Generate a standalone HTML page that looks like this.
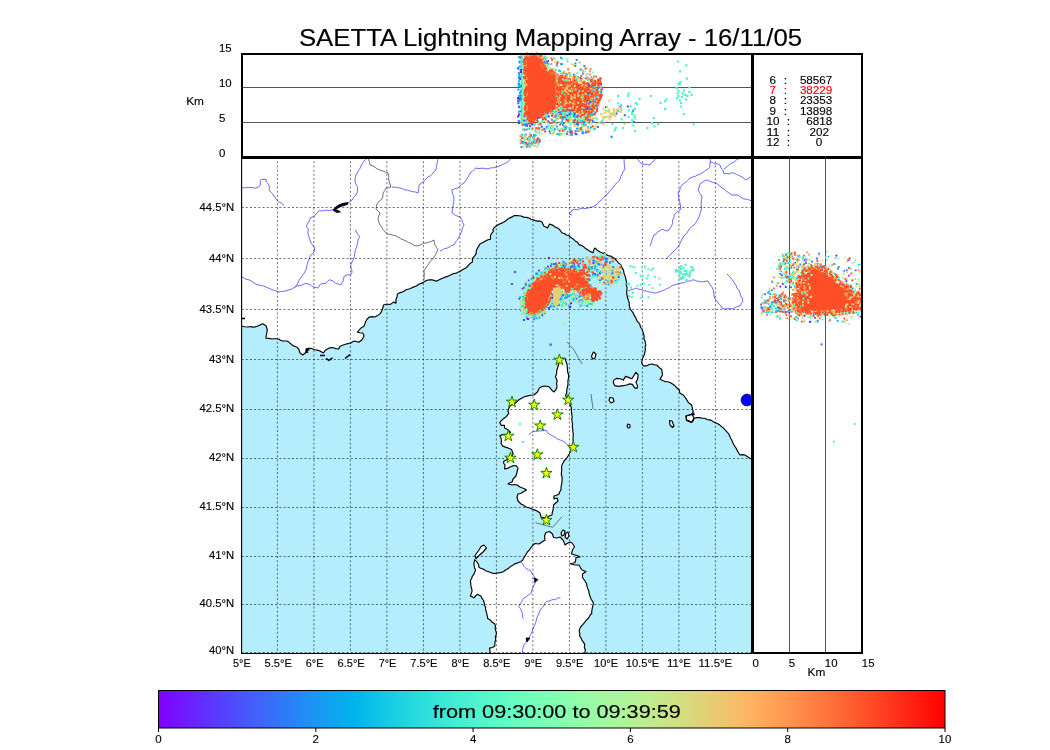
<!DOCTYPE html><html><head><meta charset="utf-8"><style>html,body{margin:0;padding:0;background:#fff;width:1050px;height:750px;overflow:hidden}svg{display:block;will-change:transform}text{font-family:"Liberation Sans",sans-serif}</style></head><body>
<svg width="1050" height="750" viewBox="0 0 1050 750">
<rect x="0" y="0" width="1050" height="750" fill="#fff"/>
<defs><clipPath id="mc"><rect x="241.5" y="157" width="511.0" height="496"/></clipPath>
<clipPath id="tc"><rect x="241.5" y="53" width="511" height="104"/></clipPath>
<clipPath id="rc"><rect x="752.5" y="157" width="110" height="496"/></clipPath>
<linearGradient id="cb" x1="0" y1="0" x2="1" y2="0"><stop offset="0.000" stop-color="#8000ff"/><stop offset="0.016" stop-color="#780dff"/><stop offset="0.031" stop-color="#7019ff"/><stop offset="0.047" stop-color="#6825fe"/><stop offset="0.062" stop-color="#6032fe"/><stop offset="0.078" stop-color="#583efd"/><stop offset="0.094" stop-color="#504afc"/><stop offset="0.109" stop-color="#4856fb"/><stop offset="0.125" stop-color="#4062fa"/><stop offset="0.141" stop-color="#386df9"/><stop offset="0.156" stop-color="#3078f7"/><stop offset="0.172" stop-color="#2883f6"/><stop offset="0.188" stop-color="#208ef4"/><stop offset="0.203" stop-color="#1898f2"/><stop offset="0.219" stop-color="#10a2f0"/><stop offset="0.234" stop-color="#08abee"/><stop offset="0.250" stop-color="#00b4ec"/><stop offset="0.266" stop-color="#08bde9"/><stop offset="0.281" stop-color="#10c5e7"/><stop offset="0.297" stop-color="#18cde4"/><stop offset="0.312" stop-color="#20d4e1"/><stop offset="0.328" stop-color="#28dbde"/><stop offset="0.344" stop-color="#30e1db"/><stop offset="0.359" stop-color="#38e7d7"/><stop offset="0.375" stop-color="#40ecd4"/><stop offset="0.391" stop-color="#48f0d0"/><stop offset="0.406" stop-color="#50f4cd"/><stop offset="0.422" stop-color="#58f7c9"/><stop offset="0.438" stop-color="#60fac5"/><stop offset="0.453" stop-color="#68fcc1"/><stop offset="0.469" stop-color="#70febd"/><stop offset="0.484" stop-color="#78ffb9"/><stop offset="0.500" stop-color="#80ffb4"/><stop offset="0.516" stop-color="#87ffb0"/><stop offset="0.531" stop-color="#8ffeab"/><stop offset="0.547" stop-color="#97fca7"/><stop offset="0.562" stop-color="#9ffaa2"/><stop offset="0.578" stop-color="#a7f79d"/><stop offset="0.594" stop-color="#aff498"/><stop offset="0.609" stop-color="#b7f093"/><stop offset="0.625" stop-color="#bfec8e"/><stop offset="0.641" stop-color="#c7e788"/><stop offset="0.656" stop-color="#cfe183"/><stop offset="0.672" stop-color="#d7db7e"/><stop offset="0.688" stop-color="#dfd478"/><stop offset="0.703" stop-color="#e7cd73"/><stop offset="0.719" stop-color="#efc56d"/><stop offset="0.734" stop-color="#f7bd67"/><stop offset="0.750" stop-color="#ffb462"/><stop offset="0.766" stop-color="#ffab5c"/><stop offset="0.781" stop-color="#ffa256"/><stop offset="0.797" stop-color="#ff9850"/><stop offset="0.812" stop-color="#ff8e4a"/><stop offset="0.828" stop-color="#ff8344"/><stop offset="0.844" stop-color="#ff783e"/><stop offset="0.859" stop-color="#ff6d38"/><stop offset="0.875" stop-color="#ff6232"/><stop offset="0.891" stop-color="#ff562c"/><stop offset="0.906" stop-color="#ff4a25"/><stop offset="0.922" stop-color="#ff3e1f"/><stop offset="0.938" stop-color="#ff3219"/><stop offset="0.953" stop-color="#ff2513"/><stop offset="0.969" stop-color="#ff190d"/><stop offset="0.984" stop-color="#ff0d06"/><stop offset="1.000" stop-color="#ff0000"/></linearGradient></defs>
<g clip-path="url(#mc)">
<rect x="241.5" y="157" width="511.0" height="496" fill="#b4edfc"/>
<polygon points="242.0,326.3 245.0,326.7 248.0,327.0 250.3,326.5 252.7,327.1 255.0,326.9 257.3,326.3 260.0,325.0 262.7,323.7 266.0,325.7 267.3,329.7 266.7,333.7 266.2,336.0 266.0,338.3 269.0,338.4 272.0,339.0 274.2,338.7 276.5,338.8 278.7,339.0 280.6,340.2 282.7,341.0 286.7,341.0 288.9,342.1 290.7,343.7 292.4,345.4 294.7,346.3 296.9,347.3 298.7,349.0 300.0,353.0 302.7,355.0 305.3,353.0 306.7,349.0 310.7,348.3 314.7,349.7 317.4,350.1 320.0,351.0 323.3,353.0 325.3,350.3 328.7,348.3 330.9,347.6 333.3,347.7 335.9,348.6 338.7,349.0 340.0,346.3 342.6,345.2 345.3,344.3 348.0,343.6 350.7,343.0 352.6,341.8 354.7,341.0 358.7,342.3 362.0,339.7 363.1,337.8 364.0,335.7 362.7,333.0 360.0,332.7 357.3,332.3 360.0,329.0 361.8,327.4 364.0,326.3 364.8,324.1 365.6,321.8 366.7,319.7 369.3,317.0 372.0,316.6 374.7,317.0 377.6,315.6 380.2,313.6 381.6,311.3 382.6,308.8 383.6,305.0 386.9,304.0 389.8,304.5 391.8,303.4 393.6,302.1 396.0,303.1 396.0,299.3 397.1,296.7 397.4,294.0 400.2,292.6 403.1,291.7 406.0,289.8 409.8,288.8 412.6,287.4 416.4,286.0 419.3,284.0 423.1,282.6 424.9,281.3 426.9,280.2 429.3,279.9 431.7,279.8 434.1,280.4 436.4,281.2 440.2,279.3 443.1,278.0 446.0,276.9 448.4,276.1 450.7,275.0 453.4,273.6 456.4,273.1 460.2,271.2 462.9,269.5 465.7,267.9 467.4,266.5 468.9,264.9 470.4,263.2 472.4,262.1 472.4,258.3 474.5,256.1 476.2,253.6 476.2,251.1 477.1,248.8 478.6,246.4 480.0,244.0 483.8,242.1 485.9,240.8 488.1,239.8 490.5,239.3 490.5,235.5 491.6,233.4 493.3,231.7 492.9,229.8 494.2,227.6 496.2,226.0 498.9,224.2 501.9,223.1 503.9,222.0 505.8,220.8 507.6,219.3 509.8,217.9 512.1,216.9 514.3,215.5 516.5,215.6 518.8,215.8 521.0,216.0 523.8,217.1 526.7,217.4 529.0,218.0 531.0,219.3 533.3,219.8 535.4,220.6 537.6,221.1 539.9,221.0 541.9,222.1 543.8,226.0 547.6,227.9 549.5,224.0 552.5,225.1 555.2,226.9 558.0,228.2 560.2,230.2 561.9,232.8 564.3,233.5 566.4,235.0 568.9,235.4 570.8,237.4 573.2,238.9 575.1,240.9 577.5,242.3 579.3,244.9 581.6,245.4 583.6,246.7 585.6,248.6 587.9,250.1 590.4,251.6 593.1,252.7 594.0,249.3 594.9,248.0 597.3,250.2 600.1,251.9 603.5,253.6 604.4,252.7 606.1,254.5 608.0,255.6 610.3,255.9 612.2,257.1 614.5,258.5 616.5,260.5 618.5,262.9 620.9,264.9 622.0,267.6 623.5,270.1 624.0,273.2 625.2,276.1 625.9,279.1 626.5,282.2 626.2,284.8 627.1,287.4 626.9,290.0 626.7,292.8 627.1,295.6 627.7,298.3 628.4,300.4 629.2,302.5 629.2,304.7 629.6,306.9 630.3,309.0 631.8,311.2 633.3,313.2 634.3,315.7 635.8,317.8 636.7,320.3 638.3,322.3 639.9,324.3 640.4,327.0 642.0,329.0 642.8,331.3 643.5,333.7 644.2,336.1 643.9,338.7 645.0,341.0 645.8,345.0 645.1,347.2 645.4,349.5 645.0,351.7 644.5,354.3 643.3,356.7 642.4,359.2 641.7,361.7 642.1,363.9 643.3,365.8 646.7,365.8 650.0,364.2 652.3,364.0 654.5,364.9 656.7,365.0 659.0,367.4 661.7,369.2 662.1,372.1 662.5,375.0 661.2,377.1 660.0,379.2 663.3,380.8 665.5,381.7 667.8,381.7 670.0,382.5 672.6,384.0 675.0,385.8 677.0,388.0 679.2,390.0 680.0,393.3 683.3,395.0 685.8,398.3 687.0,400.4 688.3,402.5 691.7,405.0 692.5,409.2 693.3,411.7 692.0,414.0 689.0,415.0 686.0,416.0 686.7,420.0 689.3,421.1 691.7,422.5 693.3,420.6 694.2,418.3 696.7,417.5 699.5,417.6 702.2,418.2 705.0,418.3 706.9,419.5 709.2,419.9 711.4,420.4 713.3,421.7 715.5,422.7 717.7,423.8 719.8,425.1 721.7,426.7 723.6,428.1 725.1,429.9 726.7,431.6 728.3,433.3 729.5,435.5 730.4,437.8 731.7,440.0 732.6,442.3 733.7,444.5 735.0,446.7 736.4,448.7 737.4,450.9 738.7,453.0 740.0,455.0 742.5,454.6 745.0,455.0 747.5,456.7 750.0,458.3 753.0,460.0 760.0,460.0 760.0,150.0 235.0,150.0 235.0,326.3" fill="#fff"/>
<polygon points="562.0,358.4 565.0,358.4 566.2,362.0 567.0,364.3 567.3,366.8 567.4,369.2 567.6,372.0 568.6,374.7 568.6,377.6 567.9,380.6 568.0,383.6 567.6,386.6 566.8,389.6 566.7,392.7 565.6,395.6 566.9,398.0 568.0,400.4 569.5,402.7 570.4,405.2 571.3,407.5 571.4,410.0 571.6,412.4 571.8,414.8 572.2,417.2 571.7,419.6 572.2,422.0 572.5,424.4 572.3,426.8 572.8,429.2 572.8,431.6 573.3,434.2 573.1,436.8 573.0,439.4 573.3,442.0 572.6,444.2 571.8,446.4 571.3,448.7 570.5,451.3 569.4,453.7 568.0,456.0 566.3,458.7 564.0,461.0 563.0,463.0 562.0,465.0 561.5,467.3 561.8,469.7 561.5,472.0 561.3,474.5 562.1,477.0 562.1,479.5 562.0,482.0 561.5,484.6 561.0,487.3 561.0,490.0 559.7,491.9 559.0,494.0 556.6,495.3 554.0,496.0 554.0,499.0 557.0,498.0 558.0,501.0 555.7,503.0 553.5,505.0 553.5,507.5 553.0,510.0 552.3,512.5 552.0,515.0 549.0,516.0 547.0,518.0 545.0,518.0 541.0,517.0 540.0,513.0 537.0,511.0 534.5,509.9 532.0,509.0 529.1,507.8 526.0,507.0 523.6,505.3 521.0,504.0 518.0,501.0 517.0,497.0 518.0,494.0 520.7,493.5 523.0,492.0 526.5,490.0 525.0,489.0 522.5,488.0 520.0,487.0 517.0,485.0 514.5,484.5 512.0,485.0 508.0,484.0 509.9,482.8 512.0,482.0 513.0,479.0 516.0,476.0 517.0,472.0 518.0,468.0 516.0,465.5 512.9,465.9 510.0,467.0 507.4,468.4 504.5,469.0 505.0,465.0 503.5,463.0 504.0,461.0 506.4,459.9 508.9,458.7 511.0,457.0 513.2,453.9 512.4,451.7 511.5,449.6 508.0,447.9 505.4,447.1 502.8,446.1 501.1,443.5 501.4,440.9 501.1,438.3 499.8,435.7 501.9,434.9 504.6,434.8 507.1,434.0 510.6,432.3 508.0,429.7 504.5,427.9 504.5,425.3 501.1,425.3 499.8,422.7 501.1,421.0 503.7,418.4 506.3,416.7 508.9,413.2 508.0,411.5 508.9,408.0 510.6,405.4 513.3,404.3 515.8,402.8 518.4,400.2 521.0,398.5 524.5,396.7 527.9,395.9 530.9,395.3 534.0,395.0 535.7,393.5 537.4,392.0 539.2,388.4 541.4,386.8 544.0,386.0 546.4,386.3 548.8,386.6 550.7,388.6 552.4,390.8 554.2,392.0 556.6,388.4 557.0,386.0 556.5,383.6 557.2,381.2 556.3,378.8 555.4,376.4 556.6,374.0 556.6,371.5 557.2,369.2 557.8,366.8 558.7,364.5 558.9,362.0 559.0,359.6 562.0,358.4" fill="#fff" stroke="#000" stroke-width="1.15" stroke-linejoin="round"/>
<polygon points="474.7,559.7 477.3,562.3 478.6,564.8 479.0,567.5 481.4,568.5 483.9,569.4 486.0,571.0 488.2,571.4 490.3,572.5 492.5,573.1 494.7,573.5 497.6,572.9 500.5,572.6 503.3,571.8 505.6,570.0 508.2,568.6 510.3,566.6 512.6,565.5 514.7,563.9 517.2,563.1 519.8,561.9 522.4,560.5 523.5,558.5 524.8,556.5 525.9,554.5 527.4,552.0 529.5,549.9 531.0,547.5 532.8,545.3 535.0,543.5 539.0,544.0 542.0,542.0 545.0,540.0 544.5,536.0 546.0,532.5 549.5,531.5 552.5,534.0 553.5,537.5 557.0,538.0 560.0,537.0 563.0,540.0 564.2,542.4 565.0,545.0 567.0,543.5 570.0,542.0 572.0,543.0 574.5,546.5 572.5,550.0 571.5,554.0 575.0,555.0 577.6,555.8 580.0,557.0 576.0,557.5 575.7,560.0 575.0,562.5 572.6,563.3 570.0,563.5 572.4,564.5 575.0,565.0 579.0,565.0 580.4,567.6 582.0,570.0 586.0,571.5 582.5,574.0 582.5,577.5 585.0,581.0 586.4,583.3 587.0,586.0 587.6,588.4 588.7,590.6 589.0,593.0 589.9,596.0 591.0,599.0 592.3,601.0 593.4,603.0 592.9,605.6 592.3,608.2 591.8,610.8 591.7,613.4 590.2,615.0 589.1,617.0 587.9,618.9 586.1,620.3 584.8,622.1 583.0,624.4 581.0,626.5 579.6,629.0 579.2,631.3 579.9,633.6 579.6,635.9 581.0,638.0 582.0,640.4 583.6,642.4 584.8,644.6 584.3,647.2 585.3,649.8 584.9,652.4 584.8,655.0 582.6,654.7 580.4,654.6 578.2,655.0 575.9,655.2 573.7,654.9 571.5,655.2 569.3,654.8 567.1,655.2 564.9,655.3 562.6,654.9 560.4,654.7 558.2,655.0 556.0,654.9 553.8,654.9 551.6,655.0 549.3,655.5 547.1,655.1 544.9,654.6 542.7,655.0 540.5,654.7 538.3,654.5 536.0,655.5 533.8,654.8 531.6,655.0 529.4,655.5 527.2,655.3 525.0,655.0 522.7,655.0 520.5,654.6 518.3,655.1 516.1,654.7 513.9,655.1 511.7,654.6 509.4,654.5 507.2,655.3 505.0,654.7 502.8,655.4 500.6,655.2 498.4,654.6 496.1,655.1 493.9,655.5 491.7,655.5 489.5,655.0 490.0,652.7 489.9,650.3 489.5,648.0 492.2,647.6 494.7,646.3 494.8,644.0 495.1,641.7 495.7,639.4 495.4,637.0 496.2,634.8 496.4,632.5 495.6,630.4 495.2,628.2 495.4,625.9 494.7,623.8 492.2,622.3 490.3,619.9 487.7,618.6 487.4,616.3 486.8,614.1 486.4,611.9 485.5,609.7 485.7,607.4 484.3,605.3 484.3,603.0 483.5,600.5 482.0,598.4 480.8,596.1 477.3,594.3 475.5,596.0 473.9,597.8 470.4,596.1 471.3,593.5 472.1,590.9 471.6,588.3 470.9,585.8 470.7,583.1 470.4,580.5 471.6,578.5 472.3,576.3 473.8,574.4 474.7,572.3 475.6,570.1 474.6,567.9 474.1,565.5 473.9,563.1 474.7,559.7" fill="#fff" stroke="#000" stroke-width="1.15" stroke-linejoin="round"/>
<polygon points="613.6,380.4 616.4,378.4 620.4,378.7 623.3,380.1 625.6,376.4 629.0,377.6 631.9,378.7 635.9,372.4 638.1,374.7 637.6,379.3 635.9,382.1 637.6,386.1 637.0,388.4 634.7,387.9 632.4,384.4 629.6,383.9 626.7,385.0 623.3,385.6 618.1,386.4 614.7,385.6 613.3,382.7" fill="#fff" stroke="#000" stroke-width="1.15" stroke-linejoin="round"/>
<polygon points="593.5,352.0 596.0,354.0 595.0,358.0 592.5,359.0 591.5,356.0" fill="#fff" stroke="#000" stroke-width="1.15" stroke-linejoin="round"/>
<polygon points="610.0,397.5 613.0,398.0 614.0,401.5 611.0,403.0 609.0,400.5" fill="#fff" stroke="#000" stroke-width="1.15" stroke-linejoin="round"/>
<polygon points="628.0,424.0 630.0,425.0 630.0,427.5 628.0,428.0 627.0,426.0" fill="#fff" stroke="#000" stroke-width="1.15" stroke-linejoin="round"/>
<polygon points="669.5,420.5 672.0,421.0 674.0,426.0 672.5,427.5 670.0,425.0" fill="#fff" stroke="#000" stroke-width="1.15" stroke-linejoin="round"/>
<polygon points="484.0,545.0 486.5,548.0 483.0,552.0 478.5,556.0 476.0,558.5 475.0,555.5 479.0,550.0 481.0,546.5" fill="#fff" stroke="#000" stroke-width="1.15" stroke-linejoin="round"/>
<polygon points="561.0,533.0 563.0,530.0 565.0,531.0 564.0,535.0 562.0,536.0" fill="#fff" stroke="#000" stroke-width="1.15" stroke-linejoin="round"/>
<polygon points="566.0,533.0 568.0,532.0 569.0,536.0 567.0,539.0 565.0,537.0" fill="#fff" stroke="#000" stroke-width="1.15" stroke-linejoin="round"/>
<polygon points="686.0,416.0 692.0,414.5 694.0,418.0 691.5,422.5 686.5,420.5" fill="#fff" stroke="#000" stroke-width="1.15" stroke-linejoin="round"/>
<polyline points="242.0,326.3 245.0,326.7 248.0,327.0 250.3,326.5 252.7,327.1 255.0,326.9 257.3,326.3 260.0,325.0 262.7,323.7 266.0,325.7 267.3,329.7 266.7,333.7 266.2,336.0 266.0,338.3 269.0,338.4 272.0,339.0 274.2,338.7 276.5,338.8 278.7,339.0 280.6,340.2 282.7,341.0 286.7,341.0 288.9,342.1 290.7,343.7 292.4,345.4 294.7,346.3 296.9,347.3 298.7,349.0 300.0,353.0 302.7,355.0 305.3,353.0 306.7,349.0 310.7,348.3 314.7,349.7 317.4,350.1 320.0,351.0 323.3,353.0 325.3,350.3 328.7,348.3 330.9,347.6 333.3,347.7 335.9,348.6 338.7,349.0 340.0,346.3 342.6,345.2 345.3,344.3 348.0,343.6 350.7,343.0 352.6,341.8 354.7,341.0 358.7,342.3 362.0,339.7 363.1,337.8 364.0,335.7 362.7,333.0 360.0,332.7 357.3,332.3 360.0,329.0 361.8,327.4 364.0,326.3 364.8,324.1 365.6,321.8 366.7,319.7 369.3,317.0 372.0,316.6 374.7,317.0 377.6,315.6 380.2,313.6 381.6,311.3 382.6,308.8 383.6,305.0 386.9,304.0 389.8,304.5 391.8,303.4 393.6,302.1 396.0,303.1 396.0,299.3 397.1,296.7 397.4,294.0 400.2,292.6 403.1,291.7 406.0,289.8 409.8,288.8 412.6,287.4 416.4,286.0 419.3,284.0 423.1,282.6 424.9,281.3 426.9,280.2 429.3,279.9 431.7,279.8 434.1,280.4 436.4,281.2 440.2,279.3 443.1,278.0 446.0,276.9 448.4,276.1 450.7,275.0 453.4,273.6 456.4,273.1 460.2,271.2 462.9,269.5 465.7,267.9 467.4,266.5 468.9,264.9 470.4,263.2 472.4,262.1 472.4,258.3 474.5,256.1 476.2,253.6 476.2,251.1 477.1,248.8 478.6,246.4 480.0,244.0 483.8,242.1 485.9,240.8 488.1,239.8 490.5,239.3 490.5,235.5 491.6,233.4 493.3,231.7 492.9,229.8 494.2,227.6 496.2,226.0 498.9,224.2 501.9,223.1 503.9,222.0 505.8,220.8 507.6,219.3 509.8,217.9 512.1,216.9 514.3,215.5 516.5,215.6 518.8,215.8 521.0,216.0 523.8,217.1 526.7,217.4 529.0,218.0 531.0,219.3 533.3,219.8 535.4,220.6 537.6,221.1 539.9,221.0 541.9,222.1 543.8,226.0 547.6,227.9 549.5,224.0 552.5,225.1 555.2,226.9 558.0,228.2 560.2,230.2 561.9,232.8 564.3,233.5 566.4,235.0 568.9,235.4 570.8,237.4 573.2,238.9 575.1,240.9 577.5,242.3 579.3,244.9 581.6,245.4 583.6,246.7 585.6,248.6 587.9,250.1 590.4,251.6 593.1,252.7 594.0,249.3 594.9,248.0 597.3,250.2 600.1,251.9 603.5,253.6 604.4,252.7 606.1,254.5 608.0,255.6 610.3,255.9 612.2,257.1 614.5,258.5 616.5,260.5 618.5,262.9 620.9,264.9 622.0,267.6 623.5,270.1 624.0,273.2 625.2,276.1 625.9,279.1 626.5,282.2 626.2,284.8 627.1,287.4 626.9,290.0 626.7,292.8 627.1,295.6 627.7,298.3 628.4,300.4 629.2,302.5 629.2,304.7 629.6,306.9 630.3,309.0 631.8,311.2 633.3,313.2 634.3,315.7 635.8,317.8 636.7,320.3 638.3,322.3 639.9,324.3 640.4,327.0 642.0,329.0 642.8,331.3 643.5,333.7 644.2,336.1 643.9,338.7 645.0,341.0 645.8,345.0 645.1,347.2 645.4,349.5 645.0,351.7 644.5,354.3 643.3,356.7 642.4,359.2 641.7,361.7 642.1,363.9 643.3,365.8 646.7,365.8 650.0,364.2 652.3,364.0 654.5,364.9 656.7,365.0 659.0,367.4 661.7,369.2 662.1,372.1 662.5,375.0 661.2,377.1 660.0,379.2 663.3,380.8 665.5,381.7 667.8,381.7 670.0,382.5 672.6,384.0 675.0,385.8 677.0,388.0 679.2,390.0 680.0,393.3 683.3,395.0 685.8,398.3 687.0,400.4 688.3,402.5 691.7,405.0 692.5,409.2 693.3,411.7 692.0,414.0 689.0,415.0 686.0,416.0 686.7,420.0 689.3,421.1 691.7,422.5 693.3,420.6 694.2,418.3 696.7,417.5 699.5,417.6 702.2,418.2 705.0,418.3 706.9,419.5 709.2,419.9 711.4,420.4 713.3,421.7 715.5,422.7 717.7,423.8 719.8,425.1 721.7,426.7 723.6,428.1 725.1,429.9 726.7,431.6 728.3,433.3 729.5,435.5 730.4,437.8 731.7,440.0 732.6,442.3 733.7,444.5 735.0,446.7 736.4,448.7 737.4,450.9 738.7,453.0 740.0,455.0 742.5,454.6 745.0,455.0 747.5,456.7 750.0,458.3 753.0,460.0" fill="none" stroke="#000" stroke-width="1.15" stroke-linejoin="round"/>
<polyline points="241.0,187.5 244.0,187.8 247.0,187.7 250.0,187.4 253.2,187.6 254.8,188.4 258.8,186.8 260.4,185.6 260.3,183.0 260.4,180.4 261.2,179.4 266.0,179.4 266.4,182.0 268.8,184.4 269.3,187.2 269.2,190.0 270.8,192.0 272.5,193.9 274.0,196.0 276.4,199.6 278.7,201.8 281.6,203.3 284.0,205.4" fill="none" stroke="#4444ff" stroke-width="0.8" stroke-linejoin="round"/>
<polyline points="367.0,157.0 365.8,159.5 363.7,161.3 362.3,163.6 361.0,166.0 360.0,168.4 358.5,170.5 357.3,172.8 356.0,175.0 355.3,178.0 355.0,181.0 355.6,183.8 357.2,186.2 357.6,189.0 357.3,192.1 356.0,195.0 353.7,197.3 352.0,200.0 350.0,201.6 348.0,203.0 345.2,203.7 342.9,205.5 340.0,206.0 337.2,208.1 334.4,210.1 331.5,210.0 328.7,210.7 325.8,210.1 323.0,210.8 319.2,210.8 317.0,212.7 315.4,215.2 313.1,216.9 310.3,217.7 309.2,221.1 307.2,224.1 306.5,226.6 308.4,229.1 307.8,232.9 308.7,236.1 309.7,239.2 310.5,242.0 312.2,244.3 314.7,248.1 314.1,251.9 312.3,253.9 310.3,255.7 309.3,259.0 307.8,262.0 307.0,265.0 306.6,268.1 305.3,270.9 303.9,273.6 302.0,276.0 300.2,278.5 298.9,280.7 297.9,283.0 296.6,285.2 295.1,287.3" fill="none" stroke="#4444ff" stroke-width="0.8" stroke-linejoin="round"/>
<polyline points="241.0,276.0 243.4,277.8 246.0,279.2 249.0,279.8 251.6,281.2 254.0,283.0 256.3,284.2 258.7,284.8 261.1,285.6 263.7,286.0 266.0,287.0 268.4,288.1 270.8,289.1 273.2,290.1 275.7,290.7 278.0,292.0 281.5,291.5 285.0,291.1 287.5,290.2 290.1,289.7 292.6,288.6 296.4,286.1 299.5,285.8 302.5,284.8 305.3,283.5 309.1,284.2 311.6,285.8 314.1,287.3 317.9,288.0 320.4,284.2 323.0,283.5 325.5,283.5 327.4,281.6 329.3,279.7 333.1,281.0 335.6,283.5 338.2,283.9 340.7,284.8 343.2,281.0 343.4,278.3 344.5,275.9 347.6,274.8 350.8,274.7 352.1,272.2 351.6,269.7 351.0,267.2 350.8,264.6 352.0,262.0 353.4,259.5 354.5,256.6 354.7,253.6 355.3,250.6 356.3,247.5 357.2,244.3 357.8,241.7 358.4,239.1 359.7,236.7 358.1,234.5 356.4,232.2 355.3,229.7" fill="none" stroke="#4444ff" stroke-width="0.8" stroke-linejoin="round"/>
<polyline points="438.0,157.0 437.9,159.6 437.2,162.2 436.9,164.8 436.3,167.4 436.0,170.0 433.9,171.7 432.3,174.0 430.4,175.8 427.8,176.9 426.0,179.0 424.2,180.9 422.2,182.6 420.0,184.0 418.8,186.9 418.7,190.0 418.0,193.0 415.4,192.0 412.7,191.7 410.0,191.0 407.5,190.1 404.9,189.9 402.5,188.6 400.0,188.0 397.4,187.3 394.7,187.3 392.0,187.0" fill="none" stroke="#4444ff" stroke-width="0.8" stroke-linejoin="round"/>
<polyline points="512.0,157.0 510.2,159.2 508.3,161.3 506.0,163.0 503.5,164.1 501.1,165.4 498.7,166.4 496.0,167.0 493.4,167.8 490.6,167.9 488.0,169.0 485.0,168.4 482.0,168.2 479.0,168.6 476.0,168.0 474.0,169.6 472.2,171.5 470.0,173.0 468.8,175.7 467.4,178.2 465.8,180.7 464.0,183.0 461.7,184.3 459.8,186.1 458.0,188.0 454.9,188.7 452.0,190.0 452.3,193.1 453.7,195.9 454.0,199.0 453.9,201.7 453.2,204.3 453.0,207.0 452.2,210.0 452.0,213.0 454.5,214.7 457.1,216.0 460.0,217.0 461.7,219.5 462.6,222.4 464.0,225.0 462.8,227.4 462.0,230.0 461.3,232.6 460.0,235.0 458.5,237.5 457.4,240.2 455.1,242.3 454.0,245.0 451.5,245.6 449.3,247.0 447.1,248.2 444.5,248.6 442.3,249.9 440.0,251.0" fill="none" stroke="#4444ff" stroke-width="0.8" stroke-linejoin="round"/>
<polyline points="624.0,157.0 624.1,160.0 624.2,163.0 624.4,166.0 625.0,169.0 623.3,171.3 622.3,173.9 620.8,176.3 620.0,179.0 618.8,181.3 616.8,183.0 614.8,184.7 613.5,186.9 612.0,189.0 609.7,190.7 608.3,193.3 606.0,195.0 604.0,197.0 602.2,199.2 600.0,201.0 597.9,202.9 596.0,205.0 593.5,206.5 590.8,207.3 588.0,208.0 585.4,208.6 582.6,208.2 580.0,208.7 577.4,209.7 574.6,209.3 572.0,210.0 570.8,212.2 569.0,214.0 572.0,215.0" fill="none" stroke="#4444ff" stroke-width="0.8" stroke-linejoin="round"/>
<polyline points="636.0,157.0 637.8,159.5 639.7,161.9 642.0,164.0 644.7,164.3 647.4,164.4 650.0,165.0 651.6,162.6 654.0,161.0 656.0,157.0" fill="none" stroke="#4444ff" stroke-width="0.8" stroke-linejoin="round"/>
<polyline points="710.0,157.0 710.2,159.5 710.4,162.0 709.8,164.5 710.0,167.0 708.3,168.9 706.0,170.0 704.1,171.6 702.0,173.0 699.8,174.4 697.2,175.0 695.0,176.5 692.4,177.1 690.0,178.0 688.3,180.1 686.3,181.8 684.1,183.3 682.0,185.0 680.3,187.5 679.7,190.5 678.0,193.0 678.8,195.4 678.9,198.0 679.0,200.6 680.0,203.0 680.4,206.0 681.0,209.0 678.7,211.1 676.0,212.6 674.0,215.0 674.0,217.6 672.6,219.9 672.7,222.5 672.0,225.0 670.3,228.2 668.0,231.0 664.9,230.4 662.0,229.0 660.1,230.7 657.8,231.7 656.2,233.8 654.0,235.0 652.9,237.7 651.9,240.4 651.1,243.3 650.0,246.0" fill="none" stroke="#4444ff" stroke-width="0.8" stroke-linejoin="round"/>
<polyline points="710.0,162.0 712.6,162.5 714.9,164.0 717.6,163.9 720.0,165.0 721.1,168.1 723.1,170.8 724.0,174.0 726.5,173.5 729.1,174.0 731.5,172.9 734.0,173.0 736.6,174.5 739.4,175.6 742.0,177.0 744.0,178.5 746.0,180.0 749.0,178.0 752.0,176.0" fill="none" stroke="#4444ff" stroke-width="0.8" stroke-linejoin="round"/>
<polyline points="724.0,169.0 726.0,167.5 727.9,165.9 729.8,164.2 732.0,163.0 734.7,161.8 736.7,159.5 739.5,158.5 742.0,157.0" fill="none" stroke="#4444ff" stroke-width="0.8" stroke-linejoin="round"/>
<polyline points="706.0,180.0 703.0,181.9 700.0,184.0 699.1,187.0 698.0,190.0 699.3,192.4 700.9,194.5 702.0,197.0 701.5,199.8 701.2,202.6 701.2,205.4 701.6,208.2 701.0,211.0 700.0,213.7 699.2,216.4 698.0,219.0 696.2,222.2 694.0,225.0 691.6,226.6 689.6,228.6 688.0,231.0 686.9,233.3 684.7,234.8 683.4,236.9 682.0,239.0 680.8,241.7 679.5,244.4 678.0,247.0 675.9,248.9 674.0,251.0 672.0,253.0 669.9,254.9 667.9,256.9 666.0,259.0" fill="none" stroke="#4444ff" stroke-width="0.8" stroke-linejoin="round"/>
<polyline points="706.0,180.0 708.5,180.7 711.0,181.6 713.4,182.7 716.0,183.0 718.0,184.6 720.0,186.2 721.9,187.9 724.2,189.1 726.0,191.0 729.0,193.0 732.0,195.0 735.0,195.1 738.0,195.0 740.8,197.3 744.0,199.0 746.8,199.2 749.4,200.1 752.0,201.0" fill="none" stroke="#4444ff" stroke-width="0.8" stroke-linejoin="round"/>
<polyline points="628.0,291.0 630.7,290.0 633.4,289.2 636.0,288.0 638.6,289.2 641.5,289.6 644.0,291.0 646.6,291.0 649.0,291.9 651.5,292.3 654.0,293.0 656.7,292.7 659.4,291.9 662.0,291.0 664.4,289.9 666.8,288.7 669.3,287.6 671.4,285.9 674.0,285.0 676.7,284.3 679.2,283.3 682.0,283.0 684.6,282.7 686.9,281.0 689.6,281.1 692.0,280.0 694.6,280.0 697.0,281.2 699.5,281.3 702.0,282.0 705.0,281.4 708.0,281.0 709.7,284.2 712.0,287.0 713.2,289.9 713.8,292.9 714.0,296.0 714.9,298.6 716.7,300.7 718.0,303.0 720.4,305.2 722.0,308.0 724.4,308.8 727.0,309.0 729.5,308.3 732.0,309.0 734.6,307.9 737.2,306.6 740.0,306.0 741.3,303.4 743.0,301.0 742.1,298.3 740.7,295.8 740.0,293.0 738.9,290.2 736.9,287.9 736.0,285.0 734.2,283.2 733.3,280.8 731.4,279.1 730.0,277.0 727.0,274.0" fill="none" stroke="#4444ff" stroke-width="0.8" stroke-linejoin="round"/>
<polyline points="528.7,434.7 531.2,432.8 534.0,431.3 537.0,431.2 540.0,430.9 543.0,430.7 546.0,430.0 548.7,434.0 551.2,435.0 553.5,436.4 555.9,437.6 558.0,439.3 561.5,440.4 564.7,442.0 567.2,444.8 570.0,447.3" fill="none" stroke="#4444ff" stroke-width="0.8" stroke-linejoin="round"/>
<polyline points="519.8,561.4 522.2,563.4 523.7,566.1 525.9,568.3 528.4,569.8 531.0,571.0 532.3,574.2 534.5,577.0 536.0,580.0 535.2,582.6 534.1,585.0 532.8,587.4 531.7,590.4 531.0,593.5 528.6,594.8 526.5,596.6 524.1,597.8 522.6,599.9 521.6,602.2 519.9,604.2 518.9,606.5 520.4,608.6 521.5,611.0 522.4,613.4 522.4,616.1 523.3,618.6" fill="none" stroke="#4444ff" stroke-width="0.8" stroke-linejoin="round"/>
<polyline points="560.5,597.8 557.6,598.0 555.1,599.7 552.2,599.6 549.6,601.0 546.7,601.3 544.5,603.3 543.7,606.2 541.5,608.2 540.1,610.5 539.2,613.0 538.0,615.3 536.8,617.7 536.3,620.3 535.5,623.2 534.3,625.9 532.9,628.6 532.3,631.5 531.0,634.2 529.2,637.2 527.0,640.0 525.8,642.5 524.1,644.6 523.1,647.4 522.6,650.3 522.4,653.2" fill="none" stroke="#4444ff" stroke-width="0.8" stroke-linejoin="round"/>
<polyline points="368.0,157.0 368.6,159.7 369.5,162.3 370.0,165.0 372.7,165.8 375.1,167.4 377.4,169.0 380.0,170.0 382.7,170.9 385.3,172.1 388.0,173.0 388.7,175.6 388.7,178.3 389.0,181.0 390.1,184.0 391.0,187.0 388.6,187.9 386.0,188.0 384.7,190.6 383.0,193.0 382.9,196.1 382.0,199.0 379.2,201.2 377.0,204.0 376.5,206.5 376.0,209.0 378.0,211.0 380.0,213.0 378.7,215.9 378.0,219.0 378.8,222.1 380.0,225.0 381.7,226.9 382.7,229.2 384.5,231.0 386.0,233.0 388.3,234.2 390.9,234.4 393.2,235.3 395.7,235.8 398.0,237.0 400.5,238.6 403.3,239.8 406.0,241.0 408.4,242.5 411.1,243.4 413.3,245.1 416.0,246.0 418.6,245.5 421.1,244.8 423.4,243.3 426.0,243.0 428.8,242.3 431.5,241.4 434.0,240.0 434.3,242.5 435.0,245.0 436.5,247.5 438.0,250.0 436.6,252.3 435.5,254.8 434.0,257.0 432.7,259.2 430.7,260.8 429.4,262.9 428.0,265.0 425.7,267.8 424.0,271.0 424.3,274.0 424.1,277.0 424.0,280.0" fill="none" stroke="#333" stroke-width="0.7" stroke-linejoin="round"/>
<polyline points="567.0,342.0 574.0,350.0 582.0,364.0" fill="none" stroke="#444" stroke-width="0.7"/>
<polyline points="591.0,394.0 593.0,409.0" fill="none" stroke="#444" stroke-width="0.7"/>
<polyline points="535.3,522.7 552.7,527.3 562.0,516.7" fill="none" stroke="#444" stroke-width="0.7"/>
<path d="M326,358.5 l3,1.8 l3.5,-2.5 M345,358.5 l5,-3.8 M320,355.6 h5 M241.5,318.6 h3.5" stroke="#000" stroke-width="1.5" fill="none"/>
<path d="M305.5,348.5 l3.5,-1 l0.5,2.5 l-2,1.5 l1,1.5 l-2.5,0 z" fill="#000"/>
<path d="M333,210 q4,-6.5 15,-7.5 l-0.5,2 q-9,2 -12,5 q3,0.5 5,2.5 l-4,0.5 z" fill="#000022" stroke="#000" stroke-width="0.8"/>
<ellipse cx="747" cy="400" rx="6" ry="6" fill="#0000ff" stroke="#000033" stroke-width="0.6"/>
<path d="M534,578 l4,1.5 l-3,3 z" fill="#00006a" stroke="#000" stroke-width="0.8"/>
<path d="M526,638 l4,0 l-3,4 z" fill="#00006a" stroke="#000" stroke-width="0.8"/>
<rect x="692" y="413" width="2.5" height="2.5" fill="#00006a"/>
<path d="M277.40,157V653M313.90,157V653M350.40,157V653M386.90,157V653M423.40,157V653M459.90,157V653M496.40,157V653M532.90,157V653M569.40,157V653M605.90,157V653M642.40,157V653M678.90,157V653M715.40,157V653M241.5,652.5H752.5M241.5,604.5H752.5M241.5,556.5H752.5M241.5,507.5H752.5M241.5,458.5H752.5M241.5,409.5H752.5M241.5,359.5H752.5M241.5,309.5H752.5M241.5,258.5H752.5M241.5,207.5H752.5" stroke="#000" stroke-width="1" stroke-dasharray="2.1,2.1" fill="none" opacity="0.55"/>
</g>
<polygon points="559.4,354.1 560.7,358.2 565.0,358.2 561.5,360.7 562.9,364.8 559.4,362.3 555.9,364.8 557.3,360.7 553.8,358.2 558.1,358.2" fill="#ffff00" stroke="#008000" stroke-width="0.95" stroke-linejoin="miter"/>
<polygon points="512.0,396.1 513.3,400.2 517.6,400.2 514.1,402.7 515.5,406.8 512.0,404.3 508.5,406.8 509.9,402.7 506.4,400.2 510.7,400.2" fill="#ffff00" stroke="#008000" stroke-width="0.95" stroke-linejoin="miter"/>
<polygon points="534.2,399.1 535.5,403.2 539.8,403.2 536.3,405.7 537.7,409.8 534.2,407.3 530.7,409.8 532.1,405.7 528.6,403.2 532.9,403.2" fill="#ffff00" stroke="#008000" stroke-width="0.95" stroke-linejoin="miter"/>
<polygon points="568.2,394.1 569.5,398.2 573.8,398.2 570.3,400.7 571.7,404.8 568.2,402.3 564.7,404.8 566.1,400.7 562.6,398.2 566.9,398.2" fill="#ffff00" stroke="#008000" stroke-width="0.95" stroke-linejoin="miter"/>
<polygon points="557.4,408.8 558.7,412.9 563.0,412.9 559.5,415.4 560.9,419.5 557.4,417.0 553.9,419.5 555.3,415.4 551.8,412.9 556.1,412.9" fill="#ffff00" stroke="#008000" stroke-width="0.95" stroke-linejoin="miter"/>
<polygon points="540.2,419.9 541.5,424.0 545.8,424.0 542.3,426.5 543.7,430.6 540.2,428.1 536.7,430.6 538.1,426.5 534.6,424.0 538.9,424.0" fill="#ffff00" stroke="#008000" stroke-width="0.95" stroke-linejoin="miter"/>
<polygon points="508.3,430.1 509.6,434.2 513.9,434.2 510.4,436.7 511.8,440.8 508.3,438.3 504.8,440.8 506.2,436.7 502.7,434.2 507.0,434.2" fill="#ffff00" stroke="#008000" stroke-width="0.95" stroke-linejoin="miter"/>
<polygon points="573.3,441.3 574.6,445.4 578.9,445.4 575.4,447.9 576.8,452.0 573.3,449.5 569.8,452.0 571.2,447.9 567.7,445.4 572.0,445.4" fill="#ffff00" stroke="#008000" stroke-width="0.95" stroke-linejoin="miter"/>
<polygon points="537.3,448.8 538.6,452.9 542.9,452.9 539.4,455.4 540.8,459.5 537.3,457.0 533.8,459.5 535.2,455.4 531.7,452.9 536.0,452.9" fill="#ffff00" stroke="#008000" stroke-width="0.95" stroke-linejoin="miter"/>
<polygon points="510.4,452.1 511.7,456.2 516.0,456.2 512.5,458.7 513.9,462.8 510.4,460.3 506.9,462.8 508.3,458.7 504.8,456.2 509.1,456.2" fill="#ffff00" stroke="#008000" stroke-width="0.95" stroke-linejoin="miter"/>
<polygon points="546.4,467.3 547.7,471.4 552.0,471.4 548.5,473.9 549.9,478.0 546.4,475.5 542.9,478.0 544.3,473.9 540.8,471.4 545.1,471.4" fill="#ffff00" stroke="#008000" stroke-width="0.95" stroke-linejoin="miter"/>
<polygon points="546.4,514.3 547.7,518.4 552.0,518.4 548.5,520.9 549.9,525.0 546.4,522.5 542.9,525.0 544.3,520.9 540.8,518.4 545.1,518.4" fill="#ffff00" stroke="#008000" stroke-width="0.95" stroke-linejoin="miter"/>
<path d="M242,87.5H752 M242,122.5H752" stroke="#555" stroke-width="1"/>
<path d="M789.5,157V653 M825.5,157V653" stroke="#555" stroke-width="1"/>
<g><path d="M585.5 288.2h1.8v1.8h-1.8zM554.6 295.1h1.8v1.8h-1.8zM532.8 276.4h1.8v1.8h-1.8zM518.6 297.8h1.8v1.8h-1.8zM547.9 306.6h1.8v1.8h-1.8zM553.1 263.3h1.8v1.8h-1.8zM582.8 269.3h1.8v1.8h-1.8zM562.3 265.0h1.8v1.8h-1.8zM538.0 269.8h1.8v1.8h-1.8zM547.1 265.8h1.8v1.8h-1.8z" fill="#8000ff"/><path d="M565.5 296.7h1.8v1.8h-1.8zM532.8 277.0h1.8v1.8h-1.8zM587.0 288.0h1.8v1.8h-1.8zM535.6 272.9h1.8v1.8h-1.8zM551.2 305.1h1.8v1.8h-1.8zM577.0 266.0h1.8v1.8h-1.8zM587.0 285.6h1.8v1.8h-1.8zM521.6 287.8h1.8v1.8h-1.8zM551.6 302.3h1.8v1.8h-1.8zM565.9 296.3h1.8v1.8h-1.8zM526.2 317.0h1.8v1.8h-1.8zM557.3 293.6h1.8v1.8h-1.8zM548.2 307.4h1.8v1.8h-1.8zM583.5 272.8h1.8v1.8h-1.8zM551.2 304.3h1.8v1.8h-1.8z" fill="#6628fe"/><path d="M550.0 265.1h1.8v1.8h-1.8zM540.7 313.4h1.8v1.8h-1.8zM523.1 286.7h1.8v1.8h-1.8zM555.0 262.6h1.8v1.8h-1.8zM570.5 265.7h1.8v1.8h-1.8zM564.3 297.1h1.8v1.8h-1.8zM569.6 294.0h1.8v1.8h-1.8zM541.4 314.5h1.8v1.8h-1.8zM527.8 279.4h1.8v1.8h-1.8z" fill="#4c4ffc"/><path d="M584.5 288.4h1.8v1.8h-1.8zM535.5 272.5h1.8v1.8h-1.8zM543.8 312.3h1.8v1.8h-1.8zM568.2 294.9h1.8v1.8h-1.8zM540.3 314.1h1.8v1.8h-1.8zM533.2 318.4h1.8v1.8h-1.8zM522.4 313.1h1.8v1.8h-1.8zM530.7 277.7h1.8v1.8h-1.8zM581.4 291.0h1.8v1.8h-1.8zM524.8 284.1h1.8v1.8h-1.8zM536.0 273.1h1.8v1.8h-1.8zM524.9 283.1h1.8v1.8h-1.8zM560.4 264.3h1.8v1.8h-1.8zM556.3 264.3h1.8v1.8h-1.8zM554.0 263.7h1.8v1.8h-1.8zM550.7 304.0h1.8v1.8h-1.8z" fill="#3374f8"/><path d="M589.6 284.3h1.8v1.8h-1.8zM585.0 273.3h1.8v1.8h-1.8zM550.7 263.1h1.8v1.8h-1.8zM561.8 263.3h1.8v1.8h-1.8zM544.8 267.3h1.8v1.8h-1.8zM535.4 317.3h1.8v1.8h-1.8zM579.0 293.7h1.8v1.8h-1.8zM538.6 316.8h1.8v1.8h-1.8zM556.0 291.5h1.8v1.8h-1.8zM549.6 305.6h1.8v1.8h-1.8z" fill="#1996f3"/><path d="M571.5 294.7h1.8v1.8h-1.8zM519.2 295.9h1.8v1.8h-1.8zM569.5 294.1h1.8v1.8h-1.8zM574.5 266.0h1.8v1.8h-1.8zM544.1 268.4h1.8v1.8h-1.8zM557.3 293.9h1.8v1.8h-1.8z" fill="#19cee3"/><path d="M537.5 271.3h1.8v1.8h-1.8zM568.2 265.4h1.8v1.8h-1.8zM553.6 292.2h1.8v1.8h-1.8zM537.3 317.9h1.8v1.8h-1.8zM570.1 267.2h1.8v1.8h-1.8zM578.3 266.9h1.8v1.8h-1.8zM564.6 263.9h1.8v1.8h-1.8zM571.2 295.6h1.8v1.8h-1.8zM522.4 313.2h1.8v1.8h-1.8z" fill="#4df3ce"/></g><path d="M520.2 301.1 L520.1 301.4 L520.1 301.7 L520.1 308.5 L520.1 308.8 L520.2 309.1 L520.2 309.3 L520.3 309.6 L520.4 309.9 L520.6 310.1 L520.7 310.3 L525.2 316.1 L525.4 316.4 L525.6 316.6 L525.9 316.8 L526.1 316.9 L526.4 317.1 L526.7 317.2 L527.0 317.2 L527.3 317.3 L527.6 317.3 L535.6 317.3 L535.9 317.3 L536.2 317.2 L536.5 317.2 L536.7 317.1 L537.0 316.9 L537.3 316.8 L544.2 312.2 L544.4 312.0 L544.6 311.8 L544.8 311.6 L549.4 305.9 L549.6 305.7 L549.7 305.4 L549.9 305.2 L550.0 304.9 L552.0 298.5 L552.0 290.0 L581.4 290.0 L584.8 289.3 L585.1 289.3 L585.3 289.2 L585.6 289.0 L585.9 288.9 L586.1 288.7 L586.3 288.5 L586.5 288.3 L586.7 288.0 L586.9 287.8 L587.0 287.5 L589.0 282.5 L589.1 282.2 L589.1 282.0 L589.2 281.7 L589.2 281.4 L589.2 281.1 L589.1 280.8 L589.1 280.5 L589.0 280.2 L588.8 280.0 L588.7 279.7 L588.5 279.5 L588.3 279.3 L585.8 276.8 L581.5 271.2 L581.3 271.0 L581.1 270.8 L580.9 270.7 L580.6 270.5 L580.4 270.4 L580.1 270.3 L579.8 270.2 L579.6 270.1 L572.7 269.0 L566.0 267.9 L559.5 265.7 L559.2 265.6 L558.9 265.5 L558.6 265.5 L558.3 265.5 L558.0 265.5 L551.1 266.7 L550.8 266.8 L550.6 266.9 L550.3 267.0 L550.1 267.1 L544.4 270.5 L538.7 273.9 L538.4 274.1 L538.2 274.2 L538.1 274.4 L532.4 280.2 L526.7 285.9 L526.5 286.1 L526.3 286.4 L526.1 286.6 L522.6 293.4 L522.5 293.7 L522.4 293.9 L520.2 300.8 L520.2 301.1z" fill="#66fcc2"/><g><path d="M562.6 293.7h2.2v2.2h-2.2zM543.0 310.6h2.2v2.2h-2.2zM526.4 312.8h2.2v2.2h-2.2zM578.9 289.5h2.2v2.2h-2.2zM526.0 313.6h2.2v2.2h-2.2zM572.3 292.9h2.2v2.2h-2.2zM527.0 313.1h2.2v2.2h-2.2zM525.1 290.9h2.2v2.2h-2.2zM558.2 290.3h2.2v2.2h-2.2zM559.5 291.7h2.2v2.2h-2.2zM577.1 290.5h2.2v2.2h-2.2zM521.2 305.7h2.2v2.2h-2.2zM556.6 291.1h2.2v2.2h-2.2zM528.1 284.3h2.2v2.2h-2.2zM560.6 290.8h2.2v2.2h-2.2zM521.6 298.2h2.2v2.2h-2.2zM520.4 309.9h2.2v2.2h-2.2zM535.9 276.1h2.2v2.2h-2.2z" fill="#1996f3"/><path d="M562.1 293.4h2.2v2.2h-2.2zM523.5 309.5h2.2v2.2h-2.2zM529.5 283.4h2.2v2.2h-2.2zM532.6 315.9h2.2v2.2h-2.2zM585.6 285.8h2.2v2.2h-2.2zM561.7 293.4h2.2v2.2h-2.2zM524.3 291.7h2.2v2.2h-2.2zM557.6 290.2h2.2v2.2h-2.2zM553.4 289.4h2.2v2.2h-2.2zM567.7 293.5h2.2v2.2h-2.2zM583.9 287.0h2.2v2.2h-2.2zM571.9 293.7h2.2v2.2h-2.2zM521.7 296.3h2.2v2.2h-2.2zM583.6 286.2h2.2v2.2h-2.2zM522.1 295.7h2.2v2.2h-2.2zM531.2 314.9h2.2v2.2h-2.2zM540.5 271.5h2.2v2.2h-2.2zM534.6 314.1h2.2v2.2h-2.2z" fill="#19cee3"/><path d="M545.6 268.7h2.2v2.2h-2.2zM546.9 267.2h2.2v2.2h-2.2zM533.5 314.1h2.2v2.2h-2.2zM558.6 291.1h2.2v2.2h-2.2zM523.5 311.8h2.2v2.2h-2.2zM572.2 292.3h2.2v2.2h-2.2zM542.3 309.9h2.2v2.2h-2.2zM557.5 290.0h2.2v2.2h-2.2zM526.1 314.5h2.2v2.2h-2.2z" fill="#33e3d9"/><path d="M528.9 282.5h2.2v2.2h-2.2zM521.2 296.9h2.2v2.2h-2.2zM532.5 278.9h2.2v2.2h-2.2zM542.9 309.2h2.2v2.2h-2.2zM542.0 311.7h2.2v2.2h-2.2zM529.9 313.5h2.2v2.2h-2.2zM537.9 274.1h2.2v2.2h-2.2zM545.5 307.1h2.2v2.2h-2.2zM553.6 290.3h2.2v2.2h-2.2zM522.2 308.2h2.2v2.2h-2.2zM558.3 290.7h2.2v2.2h-2.2zM523.4 291.9h2.2v2.2h-2.2zM529.8 315.8h2.2v2.2h-2.2zM530.8 315.8h2.2v2.2h-2.2zM523.2 312.8h2.2v2.2h-2.2zM572.0 290.8h2.2v2.2h-2.2zM523.7 311.0h2.2v2.2h-2.2z" fill="#4df3ce"/><path d="M572.3 291.3h2.2v2.2h-2.2zM562.2 293.0h2.2v2.2h-2.2zM579.4 288.9h2.2v2.2h-2.2zM524.0 311.1h2.2v2.2h-2.2zM527.3 315.6h2.2v2.2h-2.2zM536.3 274.7h2.2v2.2h-2.2zM526.3 313.8h2.2v2.2h-2.2zM534.4 275.9h2.2v2.2h-2.2zM536.1 314.7h2.2v2.2h-2.2zM545.3 268.9h2.2v2.2h-2.2zM522.5 312.9h2.2v2.2h-2.2zM525.4 285.7h2.2v2.2h-2.2zM550.2 299.7h2.2v2.2h-2.2z" fill="#80ffb4"/><path d="M525.2 286.6h2.2v2.2h-2.2zM554.5 264.9h2.2v2.2h-2.2zM550.3 298.9h2.2v2.2h-2.2zM529.7 314.7h2.2v2.2h-2.2zM519.4 302.6h2.2v2.2h-2.2zM524.4 289.6h2.2v2.2h-2.2zM525.0 291.3h2.2v2.2h-2.2zM521.2 307.4h2.2v2.2h-2.2zM556.3 288.2h2.2v2.2h-2.2zM539.1 313.7h2.2v2.2h-2.2zM577.9 289.6h2.2v2.2h-2.2zM520.9 306.8h2.2v2.2h-2.2zM522.0 293.6h2.2v2.2h-2.2zM521.0 309.8h2.2v2.2h-2.2zM566.2 292.8h2.2v2.2h-2.2zM586.0 285.5h2.2v2.2h-2.2zM521.1 297.5h2.2v2.2h-2.2zM520.2 299.3h2.2v2.2h-2.2zM559.0 291.6h2.2v2.2h-2.2zM571.1 289.7h2.2v2.2h-2.2zM549.9 299.4h2.2v2.2h-2.2z" fill="#b2f396"/><path d="M533.2 278.9h2.2v2.2h-2.2zM563.9 292.8h2.2v2.2h-2.2zM523.4 310.6h2.2v2.2h-2.2zM542.8 310.9h2.2v2.2h-2.2zM535.1 277.9h2.2v2.2h-2.2zM567.3 293.8h2.2v2.2h-2.2zM529.5 313.7h2.2v2.2h-2.2zM573.2 291.4h2.2v2.2h-2.2zM520.7 303.9h2.2v2.2h-2.2zM543.6 310.2h2.2v2.2h-2.2zM523.0 309.3h2.2v2.2h-2.2zM547.8 304.1h2.2v2.2h-2.2zM558.2 291.8h2.2v2.2h-2.2zM530.1 314.1h2.2v2.2h-2.2z" fill="#e5ce74"/></g><g><path d="M576.7 300.6h2.2v2.2h-2.2zM561.1 294.4h2.2v2.2h-2.2zM553.8 300.2h2.2v2.2h-2.2zM574.8 297.5h2.2v2.2h-2.2zM576.2 300.9h2.2v2.2h-2.2zM591.0 295.6h2.2v2.2h-2.2zM561.2 304.1h2.2v2.2h-2.2zM579.8 294.5h2.2v2.2h-2.2zM562.0 299.8h2.2v2.2h-2.2zM590.4 294.2h2.2v2.2h-2.2zM576.0 298.5h2.2v2.2h-2.2zM585.8 304.2h2.2v2.2h-2.2zM568.4 304.8h2.2v2.2h-2.2zM561.6 300.8h2.2v2.2h-2.2zM556.2 300.0h2.2v2.2h-2.2zM583.8 300.0h2.2v2.2h-2.2zM567.4 293.2h2.2v2.2h-2.2zM552.0 294.1h2.2v2.2h-2.2zM589.9 294.2h2.2v2.2h-2.2zM574.4 294.9h2.2v2.2h-2.2zM551.1 296.8h2.2v2.2h-2.2zM572.2 298.2h2.2v2.2h-2.2zM557.6 303.5h2.2v2.2h-2.2zM577.5 300.5h2.2v2.2h-2.2zM569.9 301.9h2.2v2.2h-2.2z" fill="#8000ff"/><path d="M552.5 305.1h2.2v2.2h-2.2zM565.7 293.9h2.2v2.2h-2.2zM579.4 304.2h2.2v2.2h-2.2zM560.4 297.2h2.2v2.2h-2.2zM554.8 301.2h2.2v2.2h-2.2zM551.1 304.8h2.2v2.2h-2.2zM554.2 303.3h2.2v2.2h-2.2zM556.0 303.0h2.2v2.2h-2.2zM576.7 300.2h2.2v2.2h-2.2zM568.6 304.4h2.2v2.2h-2.2zM579.1 299.8h2.2v2.2h-2.2zM573.7 294.7h2.2v2.2h-2.2zM558.2 292.2h2.2v2.2h-2.2z" fill="#4c4ffc"/><path d="M564.9 295.5h2.2v2.2h-2.2zM553.1 292.5h2.2v2.2h-2.2zM580.7 299.3h2.2v2.2h-2.2zM564.9 303.2h2.2v2.2h-2.2zM568.9 303.8h2.2v2.2h-2.2zM558.5 298.6h2.2v2.2h-2.2zM553.5 303.8h2.2v2.2h-2.2zM577.7 295.9h2.2v2.2h-2.2zM576.1 294.8h2.2v2.2h-2.2zM580.9 294.5h2.2v2.2h-2.2zM561.9 294.1h2.2v2.2h-2.2z" fill="#1996f3"/><path d="M555.7 306.4h2.2v2.2h-2.2zM552.9 301.6h2.2v2.2h-2.2zM563.7 301.5h2.2v2.2h-2.2zM559.9 294.4h2.2v2.2h-2.2zM580.1 294.6h2.2v2.2h-2.2zM581.2 294.8h2.2v2.2h-2.2zM552.8 295.6h2.2v2.2h-2.2zM551.7 305.0h2.2v2.2h-2.2zM565.1 292.2h2.2v2.2h-2.2zM553.8 302.0h2.2v2.2h-2.2zM591.6 303.0h2.2v2.2h-2.2zM555.1 292.2h2.2v2.2h-2.2zM589.1 302.9h2.2v2.2h-2.2zM561.0 304.8h2.2v2.2h-2.2zM563.8 297.0h2.2v2.2h-2.2zM573.4 299.2h2.2v2.2h-2.2z" fill="#19cee3"/><path d="M562.4 298.7h2.2v2.2h-2.2zM587.2 302.8h2.2v2.2h-2.2zM556.7 300.0h2.2v2.2h-2.2zM560.8 304.1h2.2v2.2h-2.2zM580.9 302.1h2.2v2.2h-2.2zM564.1 303.2h2.2v2.2h-2.2zM556.9 291.7h2.2v2.2h-2.2zM571.1 297.6h2.2v2.2h-2.2zM565.2 294.2h2.2v2.2h-2.2zM573.7 299.5h2.2v2.2h-2.2zM555.8 293.0h2.2v2.2h-2.2zM584.3 304.1h2.2v2.2h-2.2zM579.2 303.8h2.2v2.2h-2.2zM552.6 301.7h2.2v2.2h-2.2zM590.9 299.0h2.2v2.2h-2.2zM552.7 298.3h2.2v2.2h-2.2zM553.3 297.6h2.2v2.2h-2.2zM568.2 293.1h2.2v2.2h-2.2zM586.0 300.3h2.2v2.2h-2.2zM577.7 301.0h2.2v2.2h-2.2zM573.9 297.4h2.2v2.2h-2.2zM551.1 303.8h2.2v2.2h-2.2zM550.6 300.1h2.2v2.2h-2.2zM560.5 300.7h2.2v2.2h-2.2zM561.9 300.6h2.2v2.2h-2.2zM562.4 303.1h2.2v2.2h-2.2zM574.9 295.0h2.2v2.2h-2.2zM555.2 297.9h2.2v2.2h-2.2zM553.6 294.5h2.2v2.2h-2.2zM572.4 293.7h2.2v2.2h-2.2z" fill="#4df3ce"/><path d="M572.4 295.2h2.2v2.2h-2.2zM585.0 303.2h2.2v2.2h-2.2zM580.0 300.4h2.2v2.2h-2.2zM552.3 293.0h2.2v2.2h-2.2zM582.1 304.3h2.2v2.2h-2.2zM562.2 305.1h2.2v2.2h-2.2zM551.2 300.6h2.2v2.2h-2.2zM568.5 300.8h2.2v2.2h-2.2zM550.1 292.9h2.2v2.2h-2.2zM555.8 295.8h2.2v2.2h-2.2zM582.8 298.5h2.2v2.2h-2.2zM586.6 298.2h2.2v2.2h-2.2zM556.8 295.3h2.2v2.2h-2.2zM568.5 304.4h2.2v2.2h-2.2zM590.5 300.4h2.2v2.2h-2.2zM561.6 296.7h2.2v2.2h-2.2z" fill="#80ffb4"/><path d="M592.4 303.3h2.2v2.2h-2.2zM571.8 295.2h2.2v2.2h-2.2zM562.9 300.6h2.2v2.2h-2.2zM585.1 298.8h2.2v2.2h-2.2zM572.5 295.3h2.2v2.2h-2.2zM563.4 304.1h2.2v2.2h-2.2zM555.1 305.9h2.2v2.2h-2.2zM557.2 302.5h2.2v2.2h-2.2zM575.4 301.2h2.2v2.2h-2.2zM556.1 298.8h2.2v2.2h-2.2zM584.6 294.4h2.2v2.2h-2.2zM585.1 302.7h2.2v2.2h-2.2zM585.5 300.7h2.2v2.2h-2.2zM587.2 299.8h2.2v2.2h-2.2zM554.8 291.5h2.2v2.2h-2.2zM575.9 299.7h2.2v2.2h-2.2zM562.5 300.1h2.2v2.2h-2.2zM576.8 298.6h2.2v2.2h-2.2zM576.2 295.6h2.2v2.2h-2.2z" fill="#b2f396"/></g><g><path d="M548.6 269.6h2.2v2.2h-2.2zM578.7 270.0h2.2v2.2h-2.2zM577.0 286.9h2.2v2.2h-2.2zM572.8 288.7h2.2v2.2h-2.2zM553.3 286.5h2.2v2.2h-2.2zM527.0 292.3h2.2v2.2h-2.2zM548.9 269.0h2.2v2.2h-2.2zM535.1 311.3h2.2v2.2h-2.2zM565.5 290.3h2.2v2.2h-2.2zM525.7 308.1h2.2v2.2h-2.2zM567.5 267.4h2.2v2.2h-2.2zM534.6 279.1h2.2v2.2h-2.2zM531.6 311.7h2.2v2.2h-2.2zM561.0 288.6h2.2v2.2h-2.2zM524.9 295.9h2.2v2.2h-2.2zM567.2 291.9h2.2v2.2h-2.2z" fill="#b2f396"/><path d="M557.3 265.6h2.2v2.2h-2.2zM555.0 284.9h2.2v2.2h-2.2zM553.9 287.0h2.2v2.2h-2.2zM567.0 289.7h2.2v2.2h-2.2zM565.4 290.8h2.2v2.2h-2.2zM583.2 274.7h2.2v2.2h-2.2zM523.1 299.8h2.2v2.2h-2.2zM547.5 301.2h2.2v2.2h-2.2zM524.8 297.7h2.2v2.2h-2.2zM547.6 270.7h2.2v2.2h-2.2zM536.9 312.7h2.2v2.2h-2.2zM554.7 285.9h2.2v2.2h-2.2zM553.6 285.1h2.2v2.2h-2.2zM584.5 284.1h2.2v2.2h-2.2z" fill="#e5ce74"/><path d="M526.3 294.4h2.2v2.2h-2.2zM549.3 268.0h2.2v2.2h-2.2zM581.9 283.8h2.2v2.2h-2.2zM526.9 292.5h2.2v2.2h-2.2zM541.1 274.8h2.2v2.2h-2.2zM540.1 276.0h2.2v2.2h-2.2zM564.7 290.0h2.2v2.2h-2.2zM539.8 273.2h2.2v2.2h-2.2zM552.6 266.0h2.2v2.2h-2.2zM547.9 302.5h2.2v2.2h-2.2zM576.6 288.4h2.2v2.2h-2.2zM543.3 308.4h2.2v2.2h-2.2zM578.2 286.3h2.2v2.2h-2.2zM586.7 280.9h2.2v2.2h-2.2zM551.3 288.7h2.2v2.2h-2.2zM527.9 310.5h2.2v2.2h-2.2zM548.7 299.6h2.2v2.2h-2.2zM526.3 293.2h2.2v2.2h-2.2zM548.7 298.6h2.2v2.2h-2.2zM577.5 287.9h2.2v2.2h-2.2z" fill="#ff964f"/></g><path d="M586.0 297.1 L592.0 299.7 L599.0 297.1 L599.7 293.4 L596.3 290.0 L590.1 287.3 L584.4 290.6 L586.0 297.1zM526.1 306.7 L530.0 311.7 L537.0 311.7 L543.5 307.4 L547.8 302.0 L550.0 295.3 L550.0 295.3 L552.3 288.5 L552.3 288.4 L552.4 288.3 L552.4 288.2 L552.5 288.1 L552.6 288.1 L556.1 284.6 L556.1 284.5 L556.2 284.4 L556.3 284.3 L556.4 284.3 L556.5 284.3 L556.7 284.2 L556.8 284.2 L556.9 284.2 L557.0 284.2 L557.1 284.2 L557.2 284.2 L557.3 284.3 L557.4 284.3 L557.5 284.4 L557.6 284.5 L562.1 287.9 L567.0 290.9 L571.0 287.9 L571.1 287.9 L571.2 287.8 L571.3 287.8 L571.4 287.7 L571.5 287.7 L571.6 287.7 L571.8 287.7 L571.9 287.7 L572.0 287.7 L572.1 287.8 L572.2 287.8 L576.0 289.6 L580.0 285.2 L580.1 285.1 L580.2 285.0 L580.3 285.0 L580.4 284.9 L580.5 284.9 L580.6 284.8 L580.7 284.8 L585.1 283.9 L586.6 280.3 L584.6 278.2 L584.5 278.1 L580.2 272.8 L573.8 271.8 L573.8 271.8 L566.9 270.6 L566.8 270.6 L566.7 270.5 L560.2 268.3 L553.8 269.4 L548.3 272.7 L542.7 276.1 L537.2 281.7 L537.1 281.7 L531.6 287.3 L528.2 293.9 L526.1 300.5 L526.1 306.7z" fill="#ff4f28"/><g><path d="M565.5 273.5h2.0v2.0h-2.0zM568.1 280.5h2.0v2.0h-2.0zM565.7 285.1h2.0v2.0h-2.0zM558.3 277.1h2.0v2.0h-2.0zM566.3 277.6h2.0v2.0h-2.0zM554.0 275.8h2.0v2.0h-2.0zM549.3 272.9h2.0v2.0h-2.0z" fill="#e5ce74"/><path d="M569.6 269.2h2.0v2.0h-2.0zM548.1 297.8h2.0v2.0h-2.0zM547.7 300.8h2.0v2.0h-2.0zM547.8 301.6h2.0v2.0h-2.0zM547.7 300.6h2.0v2.0h-2.0zM547.9 269.8h2.0v2.0h-2.0zM570.9 269.5h2.0v2.0h-2.0zM557.4 267.3h2.0v2.0h-2.0zM582.9 284.3h2.0v2.0h-2.0zM594.5 287.3h2.0v2.0h-2.0zM567.4 268.1h2.0v2.0h-2.0zM575.8 287.8h2.0v2.0h-2.0zM566.3 267.9h2.0v2.0h-2.0zM561.0 266.3h2.0v2.0h-2.0zM565.8 269.5h2.0v2.0h-2.0zM560.3 286.5h2.0v2.0h-2.0zM526.3 294.8h2.0v2.0h-2.0zM573.5 271.1h2.0v2.0h-2.0zM557.0 267.0h2.0v2.0h-2.0zM539.0 278.2h2.0v2.0h-2.0zM583.5 291.5h2.0v2.0h-2.0zM590.8 286.2h2.0v2.0h-2.0zM526.0 297.6h2.0v2.0h-2.0zM554.1 286.4h2.0v2.0h-2.0zM528.5 312.2h2.0v2.0h-2.0zM568.0 289.3h2.0v2.0h-2.0zM585.2 279.6h2.0v2.0h-2.0zM582.9 288.6h2.0v2.0h-2.0zM584.5 296.9h2.0v2.0h-2.0zM582.9 284.2h2.0v2.0h-2.0zM538.8 277.6h2.0v2.0h-2.0zM583.0 290.9h2.0v2.0h-2.0zM535.3 310.6h2.0v2.0h-2.0zM582.2 290.2h2.0v2.0h-2.0zM586.8 297.2h2.0v2.0h-2.0zM584.0 291.9h2.0v2.0h-2.0zM586.0 281.5h2.0v2.0h-2.0zM579.4 271.3h2.0v2.0h-2.0zM582.5 291.9h2.0v2.0h-2.0zM536.9 312.2h2.0v2.0h-2.0zM590.6 285.9h2.0v2.0h-2.0zM552.5 268.8h2.0v2.0h-2.0zM586.3 286.1h2.0v2.0h-2.0zM580.1 291.5h2.0v2.0h-2.0zM587.0 290.1h2.0v2.0h-2.0zM579.7 289.0h2.0v2.0h-2.0zM583.2 291.3h2.0v2.0h-2.0zM582.4 289.9h2.0v2.0h-2.0zM582.0 293.4h2.0v2.0h-2.0zM585.6 286.3h2.0v2.0h-2.0zM584.9 286.6h2.0v2.0h-2.0zM578.8 292.5h2.0v2.0h-2.0zM579.5 293.2h2.0v2.0h-2.0zM583.9 284.9h2.0v2.0h-2.0zM579.6 292.6h2.0v2.0h-2.0zM581.5 291.5h2.0v2.0h-2.0zM580.5 291.9h2.0v2.0h-2.0zM588.0 285.6h2.0v2.0h-2.0zM577.7 289.5h2.0v2.0h-2.0zM585.2 290.7h2.0v2.0h-2.0zM581.1 285.5h2.0v2.0h-2.0zM583.5 292.0h2.0v2.0h-2.0zM540.8 278.3h2.0v2.0h-2.0zM561.7 277.6h2.0v2.0h-2.0zM552.5 277.3h2.0v2.0h-2.0zM550.7 276.2h2.0v2.0h-2.0zM581.0 275.6h2.0v2.0h-2.0zM563.9 271.6h2.0v2.0h-2.0zM560.2 276.6h2.0v2.0h-2.0zM573.9 286.5h2.0v2.0h-2.0zM576.3 283.6h2.0v2.0h-2.0zM576.3 286.2h2.0v2.0h-2.0z" fill="#ff964f"/><path d="M562.6 281.2h2.0v2.0h-2.0zM541.8 275.9h2.0v2.0h-2.0zM562.4 280.7h2.0v2.0h-2.0zM544.2 277.7h2.0v2.0h-2.0zM558.1 269.9h2.0v2.0h-2.0zM569.2 270.6h2.0v2.0h-2.0zM545.4 274.7h2.0v2.0h-2.0zM564.8 279.5h2.0v2.0h-2.0z" fill="#ff743c"/><path d="M583.4 293.4h2.0v2.0h-2.0zM551.9 268.3h2.0v2.0h-2.0zM553.2 287.2h2.0v2.0h-2.0zM582.0 289.1h2.0v2.0h-2.0zM540.4 275.6h2.0v2.0h-2.0zM582.0 272.8h2.0v2.0h-2.0zM528.5 310.7h2.0v2.0h-2.0zM563.8 267.3h2.0v2.0h-2.0zM593.6 298.8h2.0v2.0h-2.0zM584.1 295.3h2.0v2.0h-2.0zM579.3 285.6h2.0v2.0h-2.0zM550.8 293.1h2.0v2.0h-2.0zM583.0 292.4h2.0v2.0h-2.0zM527.4 308.4h2.0v2.0h-2.0zM576.7 287.5h2.0v2.0h-2.0zM583.4 296.1h2.0v2.0h-2.0zM599.6 293.6h2.0v2.0h-2.0zM587.4 286.9h2.0v2.0h-2.0zM582.0 291.5h2.0v2.0h-2.0zM586.0 281.6h2.0v2.0h-2.0zM554.8 285.7h2.0v2.0h-2.0zM573.0 270.0h2.0v2.0h-2.0zM553.3 286.1h2.0v2.0h-2.0zM560.2 286.9h2.0v2.0h-2.0zM536.1 279.1h2.0v2.0h-2.0zM558.5 287.0h2.0v2.0h-2.0zM561.1 266.8h2.0v2.0h-2.0zM549.3 269.8h2.0v2.0h-2.0zM525.3 294.3h2.0v2.0h-2.0zM567.7 289.2h2.0v2.0h-2.0zM524.3 306.8h2.0v2.0h-2.0zM560.0 287.0h2.0v2.0h-2.0zM534.1 282.1h2.0v2.0h-2.0zM550.3 269.6h2.0v2.0h-2.0zM589.9 300.0h2.0v2.0h-2.0zM544.9 305.5h2.0v2.0h-2.0zM582.6 288.6h2.0v2.0h-2.0zM535.4 310.7h2.0v2.0h-2.0zM524.9 299.9h2.0v2.0h-2.0zM581.9 272.5h2.0v2.0h-2.0zM585.6 280.8h2.0v2.0h-2.0zM567.3 268.4h2.0v2.0h-2.0zM575.3 270.2h2.0v2.0h-2.0zM524.7 302.4h2.0v2.0h-2.0zM525.0 303.6h2.0v2.0h-2.0zM590.0 298.3h2.0v2.0h-2.0zM598.7 290.2h2.0v2.0h-2.0zM585.6 298.0h2.0v2.0h-2.0zM553.8 267.2h2.0v2.0h-2.0zM533.4 312.5h2.0v2.0h-2.0zM550.1 269.7h2.0v2.0h-2.0zM584.0 293.3h2.0v2.0h-2.0zM581.3 271.7h2.0v2.0h-2.0zM524.6 298.3h2.0v2.0h-2.0zM527.7 310.9h2.0v2.0h-2.0zM557.2 286.2h2.0v2.0h-2.0zM582.8 276.4h2.0v2.0h-2.0zM564.5 290.2h2.0v2.0h-2.0zM580.2 272.3h2.0v2.0h-2.0zM535.0 281.6h2.0v2.0h-2.0zM587.7 297.4h2.0v2.0h-2.0zM548.2 300.6h2.0v2.0h-2.0zM585.0 281.3h2.0v2.0h-2.0zM573.0 269.1h2.0v2.0h-2.0zM569.7 288.5h2.0v2.0h-2.0zM593.1 299.8h2.0v2.0h-2.0zM531.8 282.9h2.0v2.0h-2.0zM546.5 303.7h2.0v2.0h-2.0zM573.6 287.8h2.0v2.0h-2.0zM583.2 283.6h2.0v2.0h-2.0zM562.1 268.0h2.0v2.0h-2.0zM528.2 289.1h2.0v2.0h-2.0zM572.3 269.3h2.0v2.0h-2.0zM593.3 298.0h2.0v2.0h-2.0zM585.8 297.1h2.0v2.0h-2.0zM591.5 299.3h2.0v2.0h-2.0zM549.9 296.7h2.0v2.0h-2.0zM536.5 278.0h2.0v2.0h-2.0zM573.1 288.2h2.0v2.0h-2.0zM527.5 289.7h2.0v2.0h-2.0zM527.3 290.0h2.0v2.0h-2.0zM526.4 295.3h2.0v2.0h-2.0zM538.6 310.8h2.0v2.0h-2.0zM524.9 297.6h2.0v2.0h-2.0zM597.9 290.6h2.0v2.0h-2.0zM597.3 290.5h2.0v2.0h-2.0zM599.7 292.0h2.0v2.0h-2.0zM532.7 311.1h2.0v2.0h-2.0zM591.8 300.0h2.0v2.0h-2.0zM583.0 289.6h2.0v2.0h-2.0zM586.5 278.1h2.0v2.0h-2.0zM594.9 287.7h2.0v2.0h-2.0zM598.4 295.4h2.0v2.0h-2.0zM575.4 288.2h2.0v2.0h-2.0zM526.5 292.0h2.0v2.0h-2.0zM534.4 281.7h2.0v2.0h-2.0zM565.2 268.7h2.0v2.0h-2.0zM529.3 285.1h2.0v2.0h-2.0zM527.2 311.3h2.0v2.0h-2.0zM528.0 310.2h2.0v2.0h-2.0zM567.3 290.7h2.0v2.0h-2.0zM592.6 298.7h2.0v2.0h-2.0zM598.6 297.6h2.0v2.0h-2.0zM543.6 306.5h2.0v2.0h-2.0zM577.9 285.7h2.0v2.0h-2.0zM567.7 288.7h2.0v2.0h-2.0zM578.9 285.3h2.0v2.0h-2.0zM581.2 283.8h2.0v2.0h-2.0zM583.9 293.7h2.0v2.0h-2.0zM559.1 267.4h2.0v2.0h-2.0zM593.1 287.6h2.0v2.0h-2.0zM576.5 288.9h2.0v2.0h-2.0zM550.8 293.3h2.0v2.0h-2.0zM566.1 290.6h2.0v2.0h-2.0zM580.6 285.0h2.0v2.0h-2.0zM584.9 282.3h2.0v2.0h-2.0zM524.9 305.9h2.0v2.0h-2.0zM533.0 283.7h2.0v2.0h-2.0zM580.3 273.4h2.0v2.0h-2.0zM533.1 283.5h2.0v2.0h-2.0zM581.4 272.8h2.0v2.0h-2.0zM543.8 271.7h2.0v2.0h-2.0zM537.9 277.8h2.0v2.0h-2.0zM598.0 294.4h2.0v2.0h-2.0zM600.5 292.1h2.0v2.0h-2.0zM530.8 312.4h2.0v2.0h-2.0zM534.8 280.5h2.0v2.0h-2.0zM593.0 298.6h2.0v2.0h-2.0zM532.8 311.2h2.0v2.0h-2.0zM582.8 294.5h2.0v2.0h-2.0zM549.2 297.9h2.0v2.0h-2.0zM581.3 273.6h2.0v2.0h-2.0zM524.8 296.9h2.0v2.0h-2.0zM594.4 297.8h2.0v2.0h-2.0zM596.1 297.8h2.0v2.0h-2.0zM597.1 290.9h2.0v2.0h-2.0zM583.3 294.9h2.0v2.0h-2.0zM551.7 287.7h2.0v2.0h-2.0zM578.6 271.7h2.0v2.0h-2.0zM599.2 297.5h2.0v2.0h-2.0zM549.6 291.4h2.0v2.0h-2.0zM599.4 290.8h2.0v2.0h-2.0zM598.2 296.5h2.0v2.0h-2.0zM584.9 288.2h2.0v2.0h-2.0zM532.6 283.7h2.0v2.0h-2.0zM581.4 284.1h2.0v2.0h-2.0zM554.4 266.4h2.0v2.0h-2.0zM547.4 301.3h2.0v2.0h-2.0zM532.4 282.3h2.0v2.0h-2.0zM589.7 299.6h2.0v2.0h-2.0zM542.2 308.3h2.0v2.0h-2.0zM581.8 289.4h2.0v2.0h-2.0zM597.6 290.9h2.0v2.0h-2.0zM526.7 295.0h2.0v2.0h-2.0zM547.9 271.4h2.0v2.0h-2.0zM577.4 286.6h2.0v2.0h-2.0zM541.0 309.0h2.0v2.0h-2.0zM569.3 268.7h2.0v2.0h-2.0zM586.4 288.2h2.0v2.0h-2.0zM588.2 285.6h2.0v2.0h-2.0zM588.2 290.3h2.0v2.0h-2.0zM586.9 283.2h2.0v2.0h-2.0zM587.8 284.6h2.0v2.0h-2.0zM587.2 291.8h2.0v2.0h-2.0zM586.7 289.8h2.0v2.0h-2.0zM589.3 287.7h2.0v2.0h-2.0zM585.0 290.7h2.0v2.0h-2.0zM585.6 285.1h2.0v2.0h-2.0zM582.9 293.7h2.0v2.0h-2.0zM578.0 287.5h2.0v2.0h-2.0zM580.4 285.7h2.0v2.0h-2.0zM579.1 291.8h2.0v2.0h-2.0zM582.1 292.2h2.0v2.0h-2.0zM584.5 284.5h2.0v2.0h-2.0zM587.0 283.6h2.0v2.0h-2.0zM582.6 285.5h2.0v2.0h-2.0zM587.2 284.5h2.0v2.0h-2.0zM582.1 285.7h2.0v2.0h-2.0z" fill="#ff4f28"/></g><path d="M553.0 288.0 L560.0 287.0 L563.0 292.0 L560.0 298.0 L558.0 305.0 L554.0 306.0 L553.0 300.0 L553.0 288.0z" fill="#e5ce74"/><g><path d="M584.1 265.0h2.2v2.2h-2.2zM570.1 266.8h2.2v2.2h-2.2zM583.9 265.6h2.2v2.2h-2.2zM577.3 264.3h2.2v2.2h-2.2zM574.3 260.0h2.2v2.2h-2.2zM572.9 262.8h2.2v2.2h-2.2zM570.6 261.7h2.2v2.2h-2.2zM570.9 265.5h2.2v2.2h-2.2zM593.8 273.1h2.2v2.2h-2.2zM572.2 267.4h2.2v2.2h-2.2zM582.8 264.8h2.2v2.2h-2.2zM560.9 265.3h2.2v2.2h-2.2zM596.2 269.1h2.2v2.2h-2.2zM598.9 278.8h2.2v2.2h-2.2zM609.7 274.7h2.2v2.2h-2.2zM594.6 266.6h2.2v2.2h-2.2zM592.5 259.4h2.2v2.2h-2.2zM612.3 270.4h2.2v2.2h-2.2zM598.4 259.2h2.2v2.2h-2.2zM602.6 266.4h2.2v2.2h-2.2zM603.0 276.5h2.2v2.2h-2.2zM604.7 257.5h2.2v2.2h-2.2zM603.4 281.5h2.2v2.2h-2.2zM608.9 261.6h2.2v2.2h-2.2zM617.5 275.7h2.2v2.2h-2.2zM592.4 261.8h2.2v2.2h-2.2zM596.6 274.0h2.2v2.2h-2.2zM598.8 272.0h2.2v2.2h-2.2zM604.7 260.9h2.2v2.2h-2.2zM604.8 273.1h2.2v2.2h-2.2zM611.4 260.1h2.2v2.2h-2.2z" fill="#4c4ffc"/><path d="M579.2 259.1h2.2v2.2h-2.2zM577.3 261.7h2.2v2.2h-2.2zM581.9 263.7h2.2v2.2h-2.2zM578.1 265.7h2.2v2.2h-2.2zM589.2 270.1h2.2v2.2h-2.2zM592.2 273.9h2.2v2.2h-2.2zM567.7 266.0h2.2v2.2h-2.2zM555.2 266.1h2.2v2.2h-2.2zM563.5 265.6h2.2v2.2h-2.2zM588.4 278.8h2.2v2.2h-2.2zM573.0 265.2h2.2v2.2h-2.2zM590.9 266.2h2.2v2.2h-2.2zM574.5 267.6h2.2v2.2h-2.2zM587.4 267.7h2.2v2.2h-2.2zM562.3 260.7h2.2v2.2h-2.2zM579.0 262.1h2.2v2.2h-2.2zM585.9 256.2h2.2v2.2h-2.2zM593.5 255.8h2.2v2.2h-2.2zM598.1 263.6h2.2v2.2h-2.2zM600.3 263.7h2.2v2.2h-2.2zM601.2 270.7h2.2v2.2h-2.2zM588.5 260.3h2.2v2.2h-2.2zM598.5 258.6h2.2v2.2h-2.2zM612.1 266.1h2.2v2.2h-2.2zM602.9 256.4h2.2v2.2h-2.2zM619.0 271.7h2.2v2.2h-2.2zM605.5 261.0h2.2v2.2h-2.2zM597.3 262.9h2.2v2.2h-2.2zM590.3 267.6h2.2v2.2h-2.2zM601.9 258.1h2.2v2.2h-2.2zM602.9 264.5h2.2v2.2h-2.2zM611.2 272.3h2.2v2.2h-2.2zM596.5 270.0h2.2v2.2h-2.2zM606.8 280.1h2.2v2.2h-2.2zM614.2 279.8h2.2v2.2h-2.2zM597.2 262.6h2.2v2.2h-2.2zM591.0 267.5h2.2v2.2h-2.2zM605.5 259.1h2.2v2.2h-2.2z" fill="#1996f3"/><path d="M588.8 275.0h2.2v2.2h-2.2zM591.0 271.0h2.2v2.2h-2.2zM581.5 269.8h2.2v2.2h-2.2zM562.5 261.3h2.2v2.2h-2.2zM588.2 265.8h2.2v2.2h-2.2zM575.3 266.2h2.2v2.2h-2.2zM564.8 264.4h2.2v2.2h-2.2zM599.5 256.2h2.2v2.2h-2.2zM614.4 281.3h2.2v2.2h-2.2zM588.9 262.9h2.2v2.2h-2.2zM607.5 283.2h2.2v2.2h-2.2zM615.7 274.1h2.2v2.2h-2.2zM616.9 274.3h2.2v2.2h-2.2zM593.8 267.5h2.2v2.2h-2.2zM595.5 257.1h2.2v2.2h-2.2zM593.9 264.8h2.2v2.2h-2.2zM590.6 257.4h2.2v2.2h-2.2zM611.2 268.7h2.2v2.2h-2.2zM595.2 274.5h2.2v2.2h-2.2zM594.4 261.3h2.2v2.2h-2.2zM599.8 270.8h2.2v2.2h-2.2z" fill="#19cee3"/><path d="M584.1 299.9h2.2v2.2h-2.2zM584.9 296.5h2.2v2.2h-2.2zM584.0 296.7h2.2v2.2h-2.2zM588.8 295.9h2.2v2.2h-2.2zM591.1 276.1h2.2v2.2h-2.2zM589.9 269.8h2.2v2.2h-2.2zM567.7 265.7h2.2v2.2h-2.2zM571.5 262.7h2.2v2.2h-2.2zM576.8 268.8h2.2v2.2h-2.2zM592.9 274.8h2.2v2.2h-2.2zM577.1 269.5h2.2v2.2h-2.2zM560.5 265.2h2.2v2.2h-2.2zM596.6 257.8h2.2v2.2h-2.2zM597.1 269.8h2.2v2.2h-2.2zM595.8 258.6h2.2v2.2h-2.2zM609.9 277.5h2.2v2.2h-2.2zM598.9 277.5h2.2v2.2h-2.2zM607.3 279.6h2.2v2.2h-2.2zM600.2 254.6h2.2v2.2h-2.2zM617.1 278.6h2.2v2.2h-2.2z" fill="#4df3ce"/><path d="M585.5 271.7h2.2v2.2h-2.2zM593.1 276.4h2.2v2.2h-2.2zM576.3 266.4h2.2v2.2h-2.2zM552.3 266.0h2.2v2.2h-2.2zM572.0 259.5h2.2v2.2h-2.2zM586.7 271.5h2.2v2.2h-2.2zM584.1 265.9h2.2v2.2h-2.2zM589.0 268.6h2.2v2.2h-2.2zM577.9 261.0h2.2v2.2h-2.2zM590.4 276.3h2.2v2.2h-2.2zM579.5 268.6h2.2v2.2h-2.2zM585.7 268.7h2.2v2.2h-2.2zM614.1 281.3h2.2v2.2h-2.2zM613.6 275.0h2.2v2.2h-2.2zM595.8 267.0h2.2v2.2h-2.2zM598.4 281.7h2.2v2.2h-2.2zM615.4 275.6h2.2v2.2h-2.2zM603.0 269.4h2.2v2.2h-2.2zM614.3 278.0h2.2v2.2h-2.2zM603.7 253.2h2.2v2.2h-2.2zM598.9 257.1h2.2v2.2h-2.2zM610.7 262.2h2.2v2.2h-2.2zM600.9 254.7h2.2v2.2h-2.2zM605.5 263.4h2.2v2.2h-2.2zM596.1 256.7h2.2v2.2h-2.2z" fill="#80ffb4"/><path d="M588.8 294.6h2.2v2.2h-2.2zM584.9 294.7h2.2v2.2h-2.2zM589.0 296.8h2.2v2.2h-2.2zM585.7 295.0h2.2v2.2h-2.2zM584.5 296.9h2.2v2.2h-2.2zM584.1 300.6h2.2v2.2h-2.2zM587.9 300.0h2.2v2.2h-2.2zM589.2 300.1h2.2v2.2h-2.2zM604.1 272.6h2.2v2.2h-2.2zM606.8 276.0h2.2v2.2h-2.2zM606.5 277.5h2.2v2.2h-2.2zM602.7 269.9h2.2v2.2h-2.2zM610.7 276.6h2.2v2.2h-2.2zM607.0 274.4h2.2v2.2h-2.2zM613.1 269.8h2.2v2.2h-2.2zM606.7 266.1h2.2v2.2h-2.2zM608.1 267.1h2.2v2.2h-2.2zM604.0 267.9h2.2v2.2h-2.2zM609.6 276.7h2.2v2.2h-2.2zM607.5 276.3h2.2v2.2h-2.2zM612.2 278.4h2.2v2.2h-2.2zM605.6 267.8h2.2v2.2h-2.2zM603.8 269.1h2.2v2.2h-2.2z" fill="#b2f396"/><path d="M571.2 267.5h2.2v2.2h-2.2zM560.1 262.8h2.2v2.2h-2.2zM585.6 263.6h2.2v2.2h-2.2zM560.2 263.2h2.2v2.2h-2.2zM566.6 263.8h2.2v2.2h-2.2zM580.3 269.0h2.2v2.2h-2.2zM576.6 259.2h2.2v2.2h-2.2zM568.9 260.2h2.2v2.2h-2.2zM556.8 263.0h2.2v2.2h-2.2zM591.8 269.1h2.2v2.2h-2.2zM618.6 264.8h2.2v2.2h-2.2zM613.8 270.6h2.2v2.2h-2.2zM607.5 264.3h2.2v2.2h-2.2zM595.6 256.3h2.2v2.2h-2.2zM598.2 274.8h2.2v2.2h-2.2zM586.0 256.2h2.2v2.2h-2.2zM615.2 270.6h2.2v2.2h-2.2zM601.9 256.7h2.2v2.2h-2.2zM608.8 274.2h2.2v2.2h-2.2zM589.7 262.7h2.2v2.2h-2.2zM615.3 277.5h2.2v2.2h-2.2zM593.2 256.9h2.2v2.2h-2.2zM597.3 259.8h2.2v2.2h-2.2zM604.7 281.2h2.2v2.2h-2.2zM596.6 277.9h2.2v2.2h-2.2zM604.5 274.4h2.2v2.2h-2.2zM620.5 273.4h2.2v2.2h-2.2zM590.3 257.5h2.2v2.2h-2.2zM608.2 257.0h2.2v2.2h-2.2zM610.0 279.1h2.2v2.2h-2.2zM609.5 284.4h2.2v2.2h-2.2zM601.1 270.2h2.2v2.2h-2.2zM598.3 275.1h2.2v2.2h-2.2zM617.2 269.2h2.2v2.2h-2.2zM601.8 267.7h2.2v2.2h-2.2zM610.9 258.9h2.2v2.2h-2.2zM601.1 257.0h2.2v2.2h-2.2zM611.3 281.0h2.2v2.2h-2.2zM600.1 264.6h2.2v2.2h-2.2zM599.6 260.7h2.2v2.2h-2.2zM602.8 271.9h2.2v2.2h-2.2zM607.9 276.9h2.2v2.2h-2.2zM592.0 264.3h2.2v2.2h-2.2zM590.4 256.4h2.2v2.2h-2.2zM602.1 283.0h2.2v2.2h-2.2zM601.2 276.0h2.2v2.2h-2.2zM608.9 266.4h2.2v2.2h-2.2zM617.2 269.5h2.2v2.2h-2.2zM616.1 274.1h2.2v2.2h-2.2zM616.6 268.3h2.2v2.2h-2.2zM603.5 277.1h2.2v2.2h-2.2zM615.6 266.4h2.2v2.2h-2.2zM610.0 265.4h2.2v2.2h-2.2zM608.4 272.6h2.2v2.2h-2.2zM610.2 274.7h2.2v2.2h-2.2zM607.7 267.1h2.2v2.2h-2.2zM604.0 266.3h2.2v2.2h-2.2zM608.4 269.6h2.2v2.2h-2.2zM613.9 271.3h2.2v2.2h-2.2zM611.4 278.2h2.2v2.2h-2.2zM605.1 265.8h2.2v2.2h-2.2zM617.6 271.9h2.2v2.2h-2.2zM614.5 267.8h2.2v2.2h-2.2zM608.5 266.3h2.2v2.2h-2.2zM611.5 275.4h2.2v2.2h-2.2zM603.9 275.5h2.2v2.2h-2.2zM613.8 276.7h2.2v2.2h-2.2zM610.5 267.8h2.2v2.2h-2.2zM607.7 271.1h2.2v2.2h-2.2zM606.5 264.6h2.2v2.2h-2.2zM610.6 277.4h2.2v2.2h-2.2zM603.9 269.0h2.2v2.2h-2.2zM603.7 268.9h2.2v2.2h-2.2zM614.7 269.4h2.2v2.2h-2.2zM604.9 274.6h2.2v2.2h-2.2z" fill="#e5ce74"/><path d="M586.5 293.9h2.2v2.2h-2.2zM587.5 294.0h2.2v2.2h-2.2zM585.2 296.6h2.2v2.2h-2.2zM582.9 296.7h2.2v2.2h-2.2zM588.2 293.3h2.2v2.2h-2.2zM582.6 296.3h2.2v2.2h-2.2zM587.2 293.6h2.2v2.2h-2.2zM588.0 294.9h2.2v2.2h-2.2zM582.2 268.5h2.2v2.2h-2.2zM576.3 259.7h2.2v2.2h-2.2zM572.5 260.4h2.2v2.2h-2.2zM582.2 264.1h2.2v2.2h-2.2zM587.9 259.5h2.2v2.2h-2.2zM618.1 271.3h2.2v2.2h-2.2zM595.6 260.7h2.2v2.2h-2.2zM607.2 280.8h2.2v2.2h-2.2zM615.7 271.3h2.2v2.2h-2.2zM588.7 261.3h2.2v2.2h-2.2zM601.5 255.6h2.2v2.2h-2.2z" fill="#ff964f"/><path d="M588.0 274.3h2.2v2.2h-2.2zM582.4 271.7h2.2v2.2h-2.2zM576.1 261.5h2.2v2.2h-2.2zM555.5 264.4h2.2v2.2h-2.2zM582.0 260.2h2.2v2.2h-2.2zM573.4 259.1h2.2v2.2h-2.2zM587.6 277.9h2.2v2.2h-2.2zM584.1 265.8h2.2v2.2h-2.2zM586.0 274.3h2.2v2.2h-2.2zM584.2 272.6h2.2v2.2h-2.2zM583.8 263.8h2.2v2.2h-2.2zM585.1 266.5h2.2v2.2h-2.2zM586.7 274.0h2.2v2.2h-2.2zM582.4 267.0h2.2v2.2h-2.2zM586.3 270.9h2.2v2.2h-2.2zM573.1 268.5h2.2v2.2h-2.2zM572.0 261.5h2.2v2.2h-2.2zM578.9 269.6h2.2v2.2h-2.2zM581.3 269.1h2.2v2.2h-2.2zM587.8 268.5h2.2v2.2h-2.2zM592.1 271.8h2.2v2.2h-2.2zM582.7 270.5h2.2v2.2h-2.2zM584.1 264.4h2.2v2.2h-2.2zM558.0 261.9h2.2v2.2h-2.2zM572.7 258.5h2.2v2.2h-2.2zM564.5 262.5h2.2v2.2h-2.2zM592.2 256.0h2.2v2.2h-2.2zM610.6 281.2h2.2v2.2h-2.2zM604.2 262.3h2.2v2.2h-2.2zM601.0 277.5h2.2v2.2h-2.2zM597.2 257.3h2.2v2.2h-2.2zM612.0 276.3h2.2v2.2h-2.2zM595.9 256.4h2.2v2.2h-2.2zM619.2 266.3h2.2v2.2h-2.2zM600.1 258.5h2.2v2.2h-2.2zM604.5 263.7h2.2v2.2h-2.2zM601.1 256.5h2.2v2.2h-2.2zM610.5 279.9h2.2v2.2h-2.2z" fill="#ff4f28"/></g><g><path d="M526.9 317.9h2.2v2.2h-2.2zM568.9 305.9h2.2v2.2h-2.2z" fill="#8000ff"/><path d="M547.9 256.9h2.2v2.2h-2.2z" fill="#6628fe"/><path d="M513.9 270.9h2.2v2.2h-2.2zM549.5 343.5h2.2v2.2h-2.2zM510.9 282.9h2.2v2.2h-2.2zM522.9 318.9h2.2v2.2h-2.2z" fill="#4c4ffc"/><path d="M518.9 422.9h2.2v2.2h-2.2zM521.9 440.9h2.2v2.2h-2.2z" fill="#4df3ce"/><path d="M562.9 322.5h2.2v2.2h-2.2z" fill="#b2f396"/><path d="M524.9 280.9h2.2v2.2h-2.2z" fill="#e5ce74"/><path d="M595.9 298.9h2.2v2.2h-2.2z" fill="#ff4f28"/></g><g><path d="M686.3 273.3h2.0v2.0h-2.0zM684.7 274.1h2.0v2.0h-2.0zM683.4 270.1h2.0v2.0h-2.0zM692.1 269.5h2.0v2.0h-2.0zM685.8 279.2h2.0v2.0h-2.0zM679.6 265.2h2.0v2.0h-2.0zM678.4 271.3h2.0v2.0h-2.0zM684.8 273.9h2.0v2.0h-2.0zM692.3 268.0h2.0v2.0h-2.0zM679.4 278.3h2.0v2.0h-2.0zM684.4 263.7h2.0v2.0h-2.0zM680.6 265.3h2.0v2.0h-2.0zM690.4 266.0h2.0v2.0h-2.0zM690.1 269.4h2.0v2.0h-2.0zM679.0 277.0h2.0v2.0h-2.0zM679.1 267.1h2.0v2.0h-2.0zM685.4 270.1h2.0v2.0h-2.0zM683.7 273.3h2.0v2.0h-2.0zM692.0 269.1h2.0v2.0h-2.0zM676.9 269.5h2.0v2.0h-2.0zM685.3 272.9h2.0v2.0h-2.0zM681.8 272.9h2.0v2.0h-2.0zM679.4 268.5h2.0v2.0h-2.0zM682.3 277.4h2.0v2.0h-2.0zM689.1 271.3h2.0v2.0h-2.0zM682.3 275.8h2.0v2.0h-2.0zM689.1 273.2h2.0v2.0h-2.0zM674.9 270.7h2.0v2.0h-2.0zM679.9 270.9h2.0v2.0h-2.0zM691.0 266.1h2.0v2.0h-2.0zM687.6 274.5h2.0v2.0h-2.0zM688.6 275.8h2.0v2.0h-2.0zM678.6 274.1h2.0v2.0h-2.0zM676.0 270.0h2.0v2.0h-2.0zM685.4 270.7h2.0v2.0h-2.0zM679.4 272.3h2.0v2.0h-2.0zM680.5 277.7h2.0v2.0h-2.0zM682.8 266.8h2.0v2.0h-2.0zM689.1 271.3h2.0v2.0h-2.0zM685.6 278.7h2.0v2.0h-2.0zM675.4 268.9h2.0v2.0h-2.0zM680.6 268.0h2.0v2.0h-2.0zM674.8 269.2h2.0v2.0h-2.0zM685.2 279.5h2.0v2.0h-2.0zM681.0 276.4h2.0v2.0h-2.0zM629.9 286.8h2.0v2.0h-2.0zM628.0 282.4h2.0v2.0h-2.0zM647.5 296.3h2.0v2.0h-2.0zM650.2 269.3h2.0v2.0h-2.0zM642.5 282.3h2.0v2.0h-2.0zM645.8 277.5h2.0v2.0h-2.0zM635.0 271.9h2.0v2.0h-2.0zM653.9 276.0h2.0v2.0h-2.0zM628.2 283.5h2.0v2.0h-2.0zM630.4 296.3h2.0v2.0h-2.0zM648.4 284.1h2.0v2.0h-2.0zM641.2 293.8h2.0v2.0h-2.0zM639.7 296.8h2.0v2.0h-2.0zM626.4 282.9h2.0v2.0h-2.0zM641.0 266.1h2.0v2.0h-2.0zM629.1 265.3h2.0v2.0h-2.0zM658.9 283.8h2.0v2.0h-2.0zM639.6 274.9h2.0v2.0h-2.0zM639.7 283.7h2.0v2.0h-2.0zM631.6 265.7h2.0v2.0h-2.0zM647.1 274.6h2.0v2.0h-2.0zM632.0 291.6h2.0v2.0h-2.0zM628.0 295.2h2.0v2.0h-2.0zM631.5 292.1h2.0v2.0h-2.0zM652.0 267.6h2.0v2.0h-2.0z" fill="#4df3ce"/><path d="M643.9 266.4h2.0v2.0h-2.0zM641.4 274.5h2.0v2.0h-2.0zM658.4 277.5h2.0v2.0h-2.0zM651.5 287.0h2.0v2.0h-2.0zM641.9 275.5h2.0v2.0h-2.0zM633.8 266.6h2.0v2.0h-2.0zM631.1 295.7h2.0v2.0h-2.0zM647.3 267.9h2.0v2.0h-2.0zM636.5 284.6h2.0v2.0h-2.0zM643.8 265.3h2.0v2.0h-2.0z" fill="#66fcc2"/></g>
<g><path d="M547.3 60.2h1.8v1.8h-1.8zM596.9 104.7h1.8v1.8h-1.8zM587.5 79.4h1.8v1.8h-1.8zM600.3 91.6h1.8v1.8h-1.8zM549.1 69.4h1.8v1.8h-1.8zM599.5 85.7h1.8v1.8h-1.8zM588.7 120.3h1.8v1.8h-1.8zM600.1 83.2h1.8v1.8h-1.8zM600.9 88.2h1.8v1.8h-1.8zM577.4 119.9h1.8v1.8h-1.8zM595.5 105.0h1.8v1.8h-1.8zM594.6 112.0h1.8v1.8h-1.8zM599.6 94.9h1.8v1.8h-1.8zM557.6 111.8h1.8v1.8h-1.8zM579.3 77.0h1.8v1.8h-1.8z" fill="#8000ff"/><path d="M546.4 62.2h1.8v1.8h-1.8zM596.7 99.1h1.8v1.8h-1.8zM573.1 115.5h1.8v1.8h-1.8zM564.6 114.0h1.8v1.8h-1.8zM559.5 110.9h1.8v1.8h-1.8zM577.7 119.1h1.8v1.8h-1.8zM544.7 57.9h1.8v1.8h-1.8zM558.0 111.6h1.8v1.8h-1.8zM596.3 108.6h1.8v1.8h-1.8zM572.8 73.7h1.8v1.8h-1.8zM552.0 113.2h1.8v1.8h-1.8zM599.4 82.0h1.8v1.8h-1.8zM553.4 114.4h1.8v1.8h-1.8z" fill="#4c4ffc"/><path d="M599.1 96.2h1.8v1.8h-1.8zM565.3 73.0h1.8v1.8h-1.8zM586.3 77.6h1.8v1.8h-1.8zM558.1 69.7h1.8v1.8h-1.8zM597.1 78.6h1.8v1.8h-1.8zM577.3 75.9h1.8v1.8h-1.8zM574.1 75.8h1.8v1.8h-1.8zM567.2 115.5h1.8v1.8h-1.8zM551.5 69.5h1.8v1.8h-1.8zM583.1 120.5h1.8v1.8h-1.8zM569.5 75.1h1.8v1.8h-1.8zM582.8 122.2h1.8v1.8h-1.8zM580.2 118.9h1.8v1.8h-1.8zM523.9 124.0h1.8v1.8h-1.8zM596.4 101.9h1.8v1.8h-1.8zM567.2 116.0h1.8v1.8h-1.8zM577.8 120.1h1.8v1.8h-1.8z" fill="#1996f3"/><path d="M598.3 79.8h1.8v1.8h-1.8zM554.8 69.3h1.8v1.8h-1.8zM559.1 70.1h1.8v1.8h-1.8zM544.4 56.9h1.8v1.8h-1.8zM561.8 72.2h1.8v1.8h-1.8zM593.7 113.4h1.8v1.8h-1.8zM547.6 63.1h1.8v1.8h-1.8zM599.4 85.2h1.8v1.8h-1.8zM560.4 72.7h1.8v1.8h-1.8zM543.7 55.6h1.8v1.8h-1.8zM540.8 120.7h1.8v1.8h-1.8zM598.5 85.5h1.8v1.8h-1.8zM600.0 85.3h1.8v1.8h-1.8zM591.0 79.0h1.8v1.8h-1.8zM566.2 73.8h1.8v1.8h-1.8zM561.3 112.9h1.8v1.8h-1.8zM572.7 76.2h1.8v1.8h-1.8zM566.3 74.0h1.8v1.8h-1.8zM590.4 76.2h1.8v1.8h-1.8zM563.0 71.6h1.8v1.8h-1.8zM591.6 78.2h1.8v1.8h-1.8zM548.5 115.6h1.8v1.8h-1.8z" fill="#19cee3"/><path d="M542.5 120.3h1.8v1.8h-1.8zM590.1 118.4h1.8v1.8h-1.8zM599.4 90.5h1.8v1.8h-1.8zM595.9 103.4h1.8v1.8h-1.8zM533.2 124.2h1.8v1.8h-1.8zM585.8 78.2h1.8v1.8h-1.8zM586.6 78.5h1.8v1.8h-1.8zM541.2 120.6h1.8v1.8h-1.8zM524.1 123.7h1.8v1.8h-1.8zM594.0 110.8h1.8v1.8h-1.8zM553.5 114.2h1.8v1.8h-1.8zM577.5 76.2h1.8v1.8h-1.8zM583.4 121.3h1.8v1.8h-1.8zM586.1 121.5h1.8v1.8h-1.8zM548.5 67.2h1.8v1.8h-1.8z" fill="#4df3ce"/><path d="M599.1 80.2h1.8v1.8h-1.8zM572.4 115.2h1.8v1.8h-1.8zM553.9 111.8h1.8v1.8h-1.8zM572.5 75.7h1.8v1.8h-1.8zM561.0 71.7h1.8v1.8h-1.8zM547.9 116.5h1.8v1.8h-1.8zM561.4 112.6h1.8v1.8h-1.8zM594.5 112.9h1.8v1.8h-1.8zM531.2 124.4h1.8v1.8h-1.8zM565.6 113.1h1.8v1.8h-1.8zM551.2 68.6h1.8v1.8h-1.8zM599.1 97.5h1.8v1.8h-1.8z" fill="#b2f396"/><path d="M552.4 113.7h1.8v1.8h-1.8zM591.7 77.5h1.8v1.8h-1.8zM570.0 114.1h1.8v1.8h-1.8zM584.8 120.9h1.8v1.8h-1.8zM579.2 119.9h1.8v1.8h-1.8zM569.0 72.5h1.8v1.8h-1.8zM534.1 123.8h1.8v1.8h-1.8zM567.7 116.0h1.8v1.8h-1.8zM555.6 113.7h1.8v1.8h-1.8zM545.4 119.0h1.8v1.8h-1.8zM600.2 87.4h1.8v1.8h-1.8zM591.9 117.8h1.8v1.8h-1.8zM588.5 78.0h1.8v1.8h-1.8zM553.5 114.3h1.8v1.8h-1.8zM593.1 76.1h1.8v1.8h-1.8z" fill="#ff964f"/><path d="M552.8 70.9h1.8v1.8h-1.8zM538.0 123.6h1.8v1.8h-1.8zM599.7 81.4h1.8v1.8h-1.8zM600.4 89.5h1.8v1.8h-1.8zM560.6 110.5h1.8v1.8h-1.8zM580.6 78.1h1.8v1.8h-1.8zM595.2 75.8h1.8v1.8h-1.8zM596.6 107.5h1.8v1.8h-1.8zM559.2 112.0h1.8v1.8h-1.8zM584.8 77.2h1.8v1.8h-1.8zM589.5 121.0h1.8v1.8h-1.8z" fill="#ff4f28"/></g><g><path d="M523.3 116.8h2.2v2.2h-2.2zM580.4 118.1h2.2v2.2h-2.2zM543.6 61.7h2.2v2.2h-2.2zM592.8 103.2h2.2v2.2h-2.2zM592.0 109.0h2.2v2.2h-2.2zM596.5 90.6h2.2v2.2h-2.2zM592.4 105.1h2.2v2.2h-2.2zM531.4 121.4h2.2v2.2h-2.2zM527.8 120.8h2.2v2.2h-2.2zM522.9 80.7h2.2v2.2h-2.2zM568.2 112.9h2.2v2.2h-2.2zM547.3 71.7h2.2v2.2h-2.2zM543.3 65.4h2.2v2.2h-2.2zM542.8 56.7h2.2v2.2h-2.2zM544.6 115.1h2.2v2.2h-2.2zM523.2 76.4h2.2v2.2h-2.2zM592.4 104.1h2.2v2.2h-2.2zM560.9 107.7h2.2v2.2h-2.2zM587.7 115.7h2.2v2.2h-2.2zM590.4 79.2h2.2v2.2h-2.2zM588.2 114.8h2.2v2.2h-2.2zM579.1 80.7h2.2v2.2h-2.2zM575.6 78.3h2.2v2.2h-2.2zM523.4 53.9h2.2v2.2h-2.2z" fill="#19cee3"/><path d="M523.1 99.1h2.2v2.2h-2.2zM541.3 56.8h2.2v2.2h-2.2zM582.6 119.2h2.2v2.2h-2.2zM524.2 116.3h2.2v2.2h-2.2zM591.4 111.4h2.2v2.2h-2.2zM544.2 63.3h2.2v2.2h-2.2zM566.8 77.8h2.2v2.2h-2.2zM563.9 110.2h2.2v2.2h-2.2zM526.1 52.5h2.2v2.2h-2.2zM543.9 67.0h2.2v2.2h-2.2zM577.1 116.2h2.2v2.2h-2.2zM570.9 113.0h2.2v2.2h-2.2zM596.9 92.4h2.2v2.2h-2.2zM576.3 79.4h2.2v2.2h-2.2zM591.0 111.1h2.2v2.2h-2.2zM523.3 85.3h2.2v2.2h-2.2zM539.6 115.8h2.2v2.2h-2.2zM596.8 86.0h2.2v2.2h-2.2zM523.6 64.3h2.2v2.2h-2.2zM523.2 56.6h2.2v2.2h-2.2zM596.5 90.7h2.2v2.2h-2.2z" fill="#4df3ce"/><path d="M546.8 71.1h2.2v2.2h-2.2zM578.8 115.9h2.2v2.2h-2.2zM523.1 96.0h2.2v2.2h-2.2zM563.0 108.5h2.2v2.2h-2.2zM554.5 71.9h2.2v2.2h-2.2zM573.8 115.5h2.2v2.2h-2.2zM546.7 69.6h2.2v2.2h-2.2zM527.2 122.3h2.2v2.2h-2.2zM553.8 71.2h2.2v2.2h-2.2zM576.3 116.5h2.2v2.2h-2.2zM524.5 112.8h2.2v2.2h-2.2zM548.6 72.2h2.2v2.2h-2.2zM569.2 75.9h2.2v2.2h-2.2zM555.5 73.1h2.2v2.2h-2.2zM556.2 110.0h2.2v2.2h-2.2zM596.4 81.6h2.2v2.2h-2.2zM578.2 116.3h2.2v2.2h-2.2zM587.6 80.1h2.2v2.2h-2.2zM577.6 77.9h2.2v2.2h-2.2zM595.3 93.8h2.2v2.2h-2.2zM543.1 60.7h2.2v2.2h-2.2z" fill="#b2f396"/><path d="M583.5 80.1h2.2v2.2h-2.2zM543.5 60.1h2.2v2.2h-2.2zM590.7 81.5h2.2v2.2h-2.2zM590.8 115.1h2.2v2.2h-2.2zM595.7 83.4h2.2v2.2h-2.2zM591.6 80.2h2.2v2.2h-2.2zM590.8 108.6h2.2v2.2h-2.2zM592.2 79.0h2.2v2.2h-2.2zM523.3 58.1h2.2v2.2h-2.2zM524.4 102.7h2.2v2.2h-2.2zM540.8 56.3h2.2v2.2h-2.2zM566.2 109.4h2.2v2.2h-2.2zM579.3 80.5h2.2v2.2h-2.2zM546.2 70.0h2.2v2.2h-2.2zM580.8 81.5h2.2v2.2h-2.2zM595.3 82.5h2.2v2.2h-2.2zM545.1 64.3h2.2v2.2h-2.2zM579.2 80.4h2.2v2.2h-2.2zM527.7 122.8h2.2v2.2h-2.2zM553.7 72.0h2.2v2.2h-2.2zM558.9 75.5h2.2v2.2h-2.2zM576.9 77.9h2.2v2.2h-2.2zM542.3 55.7h2.2v2.2h-2.2zM596.1 83.3h2.2v2.2h-2.2zM530.7 122.9h2.2v2.2h-2.2zM524.2 92.7h2.2v2.2h-2.2zM582.6 80.4h2.2v2.2h-2.2zM572.2 77.0h2.2v2.2h-2.2z" fill="#e5ce74"/><path d="M539.6 115.3h2.2v2.2h-2.2zM543.3 113.6h2.2v2.2h-2.2zM527.8 122.5h2.2v2.2h-2.2zM579.8 79.4h2.2v2.2h-2.2zM527.1 122.5h2.2v2.2h-2.2zM524.0 121.7h2.2v2.2h-2.2zM596.3 80.4h2.2v2.2h-2.2zM596.6 93.4h2.2v2.2h-2.2zM594.8 98.8h2.2v2.2h-2.2zM551.1 70.3h2.2v2.2h-2.2zM592.4 80.8h2.2v2.2h-2.2zM540.4 115.0h2.2v2.2h-2.2zM573.5 77.1h2.2v2.2h-2.2zM530.8 122.3h2.2v2.2h-2.2zM551.6 72.3h2.2v2.2h-2.2zM524.4 100.6h2.2v2.2h-2.2zM523.4 79.4h2.2v2.2h-2.2zM584.1 118.6h2.2v2.2h-2.2zM568.8 113.0h2.2v2.2h-2.2zM524.1 82.1h2.2v2.2h-2.2zM541.9 57.8h2.2v2.2h-2.2zM542.7 62.9h2.2v2.2h-2.2zM593.1 101.3h2.2v2.2h-2.2zM543.7 114.2h2.2v2.2h-2.2zM573.6 115.1h2.2v2.2h-2.2z" fill="#ff964f"/><path d="M541.5 116.7h2.2v2.2h-2.2zM582.4 81.5h2.2v2.2h-2.2zM539.3 53.3h2.2v2.2h-2.2zM597.1 92.8h2.2v2.2h-2.2zM549.9 71.6h2.2v2.2h-2.2zM536.0 118.8h2.2v2.2h-2.2zM531.1 123.3h2.2v2.2h-2.2zM524.6 116.6h2.2v2.2h-2.2zM557.8 108.5h2.2v2.2h-2.2zM567.3 110.3h2.2v2.2h-2.2zM564.6 75.3h2.2v2.2h-2.2zM596.5 97.7h2.2v2.2h-2.2zM560.4 74.7h2.2v2.2h-2.2zM553.4 71.5h2.2v2.2h-2.2zM524.7 122.0h2.2v2.2h-2.2zM528.6 120.9h2.2v2.2h-2.2zM550.6 70.5h2.2v2.2h-2.2zM523.6 68.5h2.2v2.2h-2.2zM540.8 53.3h2.2v2.2h-2.2zM564.9 108.7h2.2v2.2h-2.2zM572.6 78.4h2.2v2.2h-2.2zM543.5 65.0h2.2v2.2h-2.2zM571.8 113.8h2.2v2.2h-2.2zM562.0 109.4h2.2v2.2h-2.2zM542.7 60.5h2.2v2.2h-2.2zM551.4 109.5h2.2v2.2h-2.2zM557.0 74.1h2.2v2.2h-2.2zM579.7 115.0h2.2v2.2h-2.2zM592.0 105.1h2.2v2.2h-2.2zM583.6 117.4h2.2v2.2h-2.2zM569.8 113.2h2.2v2.2h-2.2zM590.7 113.6h2.2v2.2h-2.2zM595.3 94.6h2.2v2.2h-2.2zM589.1 113.3h2.2v2.2h-2.2zM524.3 108.9h2.2v2.2h-2.2zM595.3 97.5h2.2v2.2h-2.2zM523.7 86.6h2.2v2.2h-2.2zM590.4 81.0h2.2v2.2h-2.2zM539.3 53.5h2.2v2.2h-2.2zM524.1 106.1h2.2v2.2h-2.2zM552.5 73.9h2.2v2.2h-2.2z" fill="#ff4f28"/></g><path d="M520.5 54.0 L524.0 54.0 L524.0 124.0 L520.5 124.0 L520.5 54.0z" fill="#42edd3"/><path d="M522.5 54.0 L525.0 54.0 L525.0 124.0 L522.5 124.0 L522.5 54.0z" fill="#99fca6"/><g><path d="M520.0 68.9h2.0v2.0h-2.0zM519.9 70.9h2.0v2.0h-2.0zM517.1 67.4h2.0v2.0h-2.0zM517.1 97.0h2.0v2.0h-2.0zM517.8 120.2h2.0v2.0h-2.0zM517.1 115.4h2.0v2.0h-2.0zM519.3 94.7h2.0v2.0h-2.0zM518.3 97.8h2.0v2.0h-2.0zM518.1 113.5h2.0v2.0h-2.0zM517.1 99.7h2.0v2.0h-2.0zM518.0 122.1h2.0v2.0h-2.0zM518.0 105.8h2.0v2.0h-2.0z" fill="#8000ff"/><path d="M519.9 84.8h2.0v2.0h-2.0zM518.8 76.9h2.0v2.0h-2.0zM519.6 69.4h2.0v2.0h-2.0zM519.2 56.4h2.0v2.0h-2.0zM519.5 98.4h2.0v2.0h-2.0zM519.0 78.0h2.0v2.0h-2.0zM517.7 82.7h2.0v2.0h-2.0zM517.3 102.2h2.0v2.0h-2.0z" fill="#4c4ffc"/><path d="M518.4 75.9h2.0v2.0h-2.0zM518.2 73.7h2.0v2.0h-2.0zM518.1 83.4h2.0v2.0h-2.0zM518.6 60.4h2.0v2.0h-2.0zM517.3 88.6h2.0v2.0h-2.0zM517.9 77.1h2.0v2.0h-2.0zM518.3 100.3h2.0v2.0h-2.0zM517.5 66.8h2.0v2.0h-2.0zM517.8 120.5h2.0v2.0h-2.0zM517.0 99.6h2.0v2.0h-2.0zM519.6 97.3h2.0v2.0h-2.0zM519.4 110.3h2.0v2.0h-2.0zM518.6 61.4h2.0v2.0h-2.0zM519.0 95.4h2.0v2.0h-2.0z" fill="#1996f3"/><path d="M518.3 106.5h2.0v2.0h-2.0zM517.8 110.8h2.0v2.0h-2.0zM517.9 72.1h2.0v2.0h-2.0zM518.0 94.8h2.0v2.0h-2.0zM518.9 92.0h2.0v2.0h-2.0zM517.6 85.5h2.0v2.0h-2.0zM519.7 90.2h2.0v2.0h-2.0zM518.1 56.3h2.0v2.0h-2.0zM518.9 65.5h2.0v2.0h-2.0zM518.9 84.7h2.0v2.0h-2.0zM518.0 80.2h2.0v2.0h-2.0z" fill="#00b4ec"/></g><path d="M525.5 121.4 L525.5 121.5 L525.5 121.5 L525.5 121.6 L525.5 121.6 L525.6 121.6 L525.6 121.7 L525.6 121.7 L525.7 121.8 L525.7 121.8 L525.7 121.8 L525.8 121.8 L525.8 121.9 L525.9 121.9 L525.9 121.9 L526.0 121.9 L526.0 121.9 L533.0 121.9 L533.0 121.9 L533.1 121.9 L533.1 121.9 L533.2 121.9 L533.2 121.8 L533.3 121.8 L541.3 116.4 L557.2 108.4 L557.3 108.4 L557.3 108.4 L557.3 108.4 L557.4 108.3 L557.4 108.3 L557.4 108.3 L557.5 108.2 L557.5 108.2 L557.5 108.1 L557.5 108.1 L557.5 108.0 L557.5 108.0 L556.5 76.0 L556.5 75.9 L556.5 75.9 L556.5 75.8 L556.5 75.8 L556.4 75.8 L556.4 75.7 L556.4 75.7 L556.3 75.6 L556.3 75.6 L556.3 75.6 L556.2 75.6 L556.2 75.5 L547.4 72.0 L543.3 63.8 L540.5 53.9 L540.5 53.8 L540.4 53.8 L540.4 53.7 L540.4 53.7 L540.4 53.7 L540.3 53.6 L540.3 53.6 L540.2 53.6 L540.2 53.5 L540.1 53.5 L540.1 53.5 L540.0 53.5 L540.0 53.5 L524.6 53.5 L524.6 53.5 L524.5 53.5 L524.5 53.5 L524.4 53.5 L524.4 53.6 L524.3 53.6 L524.3 53.6 L524.2 53.7 L524.2 53.7 L524.2 53.7 L524.2 53.8 L524.1 53.8 L524.1 53.9 L524.1 53.9 L524.1 54.0 L524.1 54.0 L525.5 121.4z" fill="#ff964f"/><path d="M525.4 54.8 L526.8 120.6 L532.8 120.6 L540.6 115.3 L540.6 115.3 L556.2 107.5 L555.2 76.5 L546.7 73.1 L546.6 73.1 L546.6 73.1 L546.5 73.0 L546.4 73.0 L546.4 72.9 L546.3 72.8 L546.3 72.8 L542.1 64.4 L542.1 64.3 L542.0 64.2 L539.4 54.8 L525.4 54.8zM556.2 76.7 L556.2 106.7 L560.9 106.2 L561.0 106.2 L561.1 106.2 L561.2 106.2 L561.4 106.3 L561.5 106.3 L571.3 110.5 L581.1 114.7 L581.1 114.7 L586.6 117.5 L589.9 112.5 L591.8 102.8 L591.8 102.7 L591.9 102.6 L595.8 91.9 L594.1 83.6 L590.4 85.1 L590.3 85.2 L590.2 85.2 L590.1 85.2 L589.9 85.2 L583.3 84.8 L583.2 84.8 L583.1 84.8 L583.0 84.7 L574.7 82.0 L563.5 79.2 L563.4 79.1 L556.2 76.7z" fill="#ff4f28"/><g><path d="M548.3 72.6h2.2v2.2h-2.2zM535.6 52.9h2.2v2.2h-2.2zM557.2 75.1h2.2v2.2h-2.2zM559.6 105.6h2.2v2.2h-2.2zM567.4 79.3h2.2v2.2h-2.2zM561.5 106.0h2.2v2.2h-2.2zM577.5 113.0h2.2v2.2h-2.2zM523.4 93.5h2.2v2.2h-2.2zM540.5 56.1h2.2v2.2h-2.2zM579.4 113.6h2.2v2.2h-2.2zM592.2 81.7h2.2v2.2h-2.2zM555.2 105.8h2.2v2.2h-2.2zM523.9 72.7h2.2v2.2h-2.2zM525.2 106.1h2.2v2.2h-2.2zM540.5 62.1h2.2v2.2h-2.2zM583.0 81.6h2.2v2.2h-2.2zM527.3 54.2h2.2v2.2h-2.2zM525.6 92.2h2.2v2.2h-2.2zM561.8 107.6h2.2v2.2h-2.2zM525.0 77.3h2.2v2.2h-2.2zM524.5 53.5h2.2v2.2h-2.2zM574.0 80.8h2.2v2.2h-2.2zM525.0 101.8h2.2v2.2h-2.2zM595.7 91.2h2.2v2.2h-2.2zM587.4 83.9h2.2v2.2h-2.2zM560.8 107.3h2.2v2.2h-2.2zM524.1 92.4h2.2v2.2h-2.2zM590.7 81.4h2.2v2.2h-2.2zM543.3 66.5h2.2v2.2h-2.2zM525.1 117.0h2.2v2.2h-2.2zM595.1 89.0h2.2v2.2h-2.2zM544.3 112.2h2.2v2.2h-2.2zM524.9 120.8h2.2v2.2h-2.2zM544.3 66.3h2.2v2.2h-2.2zM590.8 103.3h2.2v2.2h-2.2zM542.0 60.9h2.2v2.2h-2.2zM558.9 105.7h2.2v2.2h-2.2zM525.2 83.6h2.2v2.2h-2.2zM590.8 103.8h2.2v2.2h-2.2zM527.1 119.5h2.2v2.2h-2.2zM524.4 60.3h2.2v2.2h-2.2zM533.7 53.1h2.2v2.2h-2.2zM592.0 105.3h2.2v2.2h-2.2zM561.1 76.4h2.2v2.2h-2.2zM591.5 107.0h2.2v2.2h-2.2zM589.5 106.6h2.2v2.2h-2.2zM523.9 54.1h2.2v2.2h-2.2zM551.1 72.8h2.2v2.2h-2.2zM548.4 71.8h2.2v2.2h-2.2zM530.6 53.2h2.2v2.2h-2.2zM593.6 83.6h2.2v2.2h-2.2zM579.1 80.7h2.2v2.2h-2.2zM528.9 120.0h2.2v2.2h-2.2zM525.2 116.0h2.2v2.2h-2.2zM591.5 81.3h2.2v2.2h-2.2zM523.7 89.7h2.2v2.2h-2.2zM536.9 54.3h2.2v2.2h-2.2zM530.1 52.9h2.2v2.2h-2.2zM590.2 81.4h2.2v2.2h-2.2z" fill="#e5ce74"/><path d="M525.3 77.5h2.2v2.2h-2.2zM525.0 72.4h2.2v2.2h-2.2zM525.3 104.6h2.2v2.2h-2.2zM523.9 91.7h2.2v2.2h-2.2zM594.3 93.0h2.2v2.2h-2.2zM540.3 113.4h2.2v2.2h-2.2zM533.3 118.3h2.2v2.2h-2.2zM540.2 115.0h2.2v2.2h-2.2zM567.6 77.8h2.2v2.2h-2.2zM590.5 104.6h2.2v2.2h-2.2zM566.2 77.2h2.2v2.2h-2.2zM555.8 74.5h2.2v2.2h-2.2zM575.2 80.5h2.2v2.2h-2.2zM535.6 53.1h2.2v2.2h-2.2zM523.3 66.2h2.2v2.2h-2.2zM592.7 95.5h2.2v2.2h-2.2zM572.5 79.2h2.2v2.2h-2.2zM524.3 61.3h2.2v2.2h-2.2zM564.5 108.7h2.2v2.2h-2.2zM525.7 93.7h2.2v2.2h-2.2zM538.9 114.9h2.2v2.2h-2.2zM550.3 109.2h2.2v2.2h-2.2zM524.0 77.9h2.2v2.2h-2.2zM544.3 112.2h2.2v2.2h-2.2zM583.8 116.2h2.2v2.2h-2.2zM550.1 110.2h2.2v2.2h-2.2zM524.8 65.3h2.2v2.2h-2.2zM555.0 73.8h2.2v2.2h-2.2zM594.2 94.2h2.2v2.2h-2.2zM524.0 114.8h2.2v2.2h-2.2zM548.7 108.9h2.2v2.2h-2.2zM534.4 117.7h2.2v2.2h-2.2zM522.8 64.1h2.2v2.2h-2.2zM577.6 114.9h2.2v2.2h-2.2zM524.4 64.1h2.2v2.2h-2.2zM525.5 108.3h2.2v2.2h-2.2zM525.1 107.1h2.2v2.2h-2.2zM540.7 62.9h2.2v2.2h-2.2zM523.8 116.6h2.2v2.2h-2.2zM586.6 115.7h2.2v2.2h-2.2zM587.4 82.0h2.2v2.2h-2.2zM525.4 117.2h2.2v2.2h-2.2zM591.5 102.9h2.2v2.2h-2.2zM542.3 63.1h2.2v2.2h-2.2zM562.4 77.2h2.2v2.2h-2.2zM586.7 82.6h2.2v2.2h-2.2zM575.7 81.4h2.2v2.2h-2.2zM572.9 80.9h2.2v2.2h-2.2zM523.7 82.0h2.2v2.2h-2.2zM586.3 115.1h2.2v2.2h-2.2zM541.4 65.3h2.2v2.2h-2.2zM538.3 55.9h2.2v2.2h-2.2zM538.0 54.2h2.2v2.2h-2.2zM528.5 120.5h2.2v2.2h-2.2zM594.0 80.0h2.2v2.2h-2.2zM524.2 115.8h2.2v2.2h-2.2z" fill="#ff964f"/><path d="M569.0 78.3h2.2v2.2h-2.2zM591.0 102.1h2.2v2.2h-2.2zM525.1 90.5h2.2v2.2h-2.2zM567.5 109.9h2.2v2.2h-2.2zM593.9 93.6h2.2v2.2h-2.2zM551.0 109.5h2.2v2.2h-2.2zM590.4 110.6h2.2v2.2h-2.2zM524.3 67.9h2.2v2.2h-2.2zM595.9 88.6h2.2v2.2h-2.2zM524.9 56.8h2.2v2.2h-2.2zM591.5 81.9h2.2v2.2h-2.2zM591.7 101.5h2.2v2.2h-2.2zM587.8 112.9h2.2v2.2h-2.2zM536.6 116.6h2.2v2.2h-2.2zM524.2 89.0h2.2v2.2h-2.2zM545.3 112.1h2.2v2.2h-2.2zM593.9 84.1h2.2v2.2h-2.2zM572.6 80.3h2.2v2.2h-2.2zM573.9 79.5h2.2v2.2h-2.2zM525.2 69.8h2.2v2.2h-2.2zM532.5 118.4h2.2v2.2h-2.2zM547.6 109.8h2.2v2.2h-2.2zM540.3 62.0h2.2v2.2h-2.2zM525.5 96.9h2.2v2.2h-2.2zM524.6 90.3h2.2v2.2h-2.2zM545.2 67.6h2.2v2.2h-2.2zM535.8 52.4h2.2v2.2h-2.2zM523.4 62.7h2.2v2.2h-2.2zM561.2 75.6h2.2v2.2h-2.2zM542.0 64.2h2.2v2.2h-2.2zM526.1 111.3h2.2v2.2h-2.2zM549.1 109.1h2.2v2.2h-2.2zM591.7 106.8h2.2v2.2h-2.2zM525.2 111.7h2.2v2.2h-2.2zM553.8 107.3h2.2v2.2h-2.2zM529.2 120.9h2.2v2.2h-2.2zM582.9 81.6h2.2v2.2h-2.2zM544.6 66.9h2.2v2.2h-2.2zM524.5 113.4h2.2v2.2h-2.2zM526.0 102.9h2.2v2.2h-2.2zM523.5 72.2h2.2v2.2h-2.2zM525.5 88.9h2.2v2.2h-2.2zM592.2 98.3h2.2v2.2h-2.2zM524.1 66.6h2.2v2.2h-2.2zM528.0 120.1h2.2v2.2h-2.2zM523.7 108.2h2.2v2.2h-2.2zM550.8 108.5h2.2v2.2h-2.2zM588.2 112.9h2.2v2.2h-2.2zM582.7 82.2h2.2v2.2h-2.2zM592.2 103.1h2.2v2.2h-2.2zM525.7 110.7h2.2v2.2h-2.2zM545.6 110.5h2.2v2.2h-2.2zM523.9 112.6h2.2v2.2h-2.2zM570.1 110.2h2.2v2.2h-2.2zM540.2 58.7h2.2v2.2h-2.2zM524.3 99.8h2.2v2.2h-2.2zM568.6 79.6h2.2v2.2h-2.2zM526.1 117.0h2.2v2.2h-2.2zM545.9 110.9h2.2v2.2h-2.2zM523.1 71.4h2.2v2.2h-2.2zM591.1 105.6h2.2v2.2h-2.2zM546.6 71.5h2.2v2.2h-2.2zM525.4 87.6h2.2v2.2h-2.2zM523.5 91.3h2.2v2.2h-2.2zM594.8 93.0h2.2v2.2h-2.2zM544.4 67.4h2.2v2.2h-2.2zM539.4 115.0h2.2v2.2h-2.2zM525.2 111.5h2.2v2.2h-2.2zM524.4 99.4h2.2v2.2h-2.2zM585.1 116.9h2.2v2.2h-2.2zM580.6 113.7h2.2v2.2h-2.2zM557.5 106.1h2.2v2.2h-2.2zM566.7 108.6h2.2v2.2h-2.2zM585.9 117.5h2.2v2.2h-2.2zM530.4 121.2h2.2v2.2h-2.2zM585.8 82.2h2.2v2.2h-2.2zM523.8 93.9h2.2v2.2h-2.2zM524.1 57.9h2.2v2.2h-2.2zM586.9 83.1h2.2v2.2h-2.2zM533.9 118.1h2.2v2.2h-2.2zM589.0 112.3h2.2v2.2h-2.2zM524.1 58.4h2.2v2.2h-2.2zM551.5 107.6h2.2v2.2h-2.2zM591.6 107.4h2.2v2.2h-2.2zM560.6 77.6h2.2v2.2h-2.2zM595.2 92.3h2.2v2.2h-2.2zM539.4 54.9h2.2v2.2h-2.2zM544.3 67.7h2.2v2.2h-2.2zM594.5 88.8h2.2v2.2h-2.2zM544.4 112.3h2.2v2.2h-2.2zM524.2 112.3h2.2v2.2h-2.2zM524.8 90.2h2.2v2.2h-2.2zM530.4 52.8h2.2v2.2h-2.2zM588.8 113.1h2.2v2.2h-2.2zM571.5 109.7h2.2v2.2h-2.2zM538.7 116.1h2.2v2.2h-2.2zM591.4 109.5h2.2v2.2h-2.2zM525.7 117.9h2.2v2.2h-2.2zM584.1 115.9h2.2v2.2h-2.2zM551.5 73.2h2.2v2.2h-2.2zM580.2 115.8h2.2v2.2h-2.2zM530.1 118.9h2.2v2.2h-2.2zM559.8 75.4h2.2v2.2h-2.2zM594.1 86.7h2.2v2.2h-2.2zM572.4 111.5h2.2v2.2h-2.2zM523.1 76.0h2.2v2.2h-2.2zM525.9 111.1h2.2v2.2h-2.2zM524.3 105.1h2.2v2.2h-2.2zM588.3 114.0h2.2v2.2h-2.2zM554.4 107.3h2.2v2.2h-2.2zM547.5 72.4h2.2v2.2h-2.2zM586.6 116.1h2.2v2.2h-2.2zM546.3 111.4h2.2v2.2h-2.2zM524.2 98.3h2.2v2.2h-2.2zM591.3 101.0h2.2v2.2h-2.2zM525.0 102.8h2.2v2.2h-2.2zM592.7 81.7h2.2v2.2h-2.2zM584.0 83.2h2.2v2.2h-2.2zM524.3 96.4h2.2v2.2h-2.2zM549.3 74.3h2.2v2.2h-2.2zM545.0 70.7h2.2v2.2h-2.2zM583.6 115.9h2.2v2.2h-2.2zM547.4 71.3h2.2v2.2h-2.2zM525.3 73.3h2.2v2.2h-2.2zM561.9 107.3h2.2v2.2h-2.2zM540.1 60.6h2.2v2.2h-2.2zM595.8 92.9h2.2v2.2h-2.2zM525.7 101.8h2.2v2.2h-2.2zM586.0 115.8h2.2v2.2h-2.2zM524.9 111.3h2.2v2.2h-2.2zM553.5 75.1h2.2v2.2h-2.2zM543.9 67.7h2.2v2.2h-2.2zM541.6 61.5h2.2v2.2h-2.2zM584.3 116.7h2.2v2.2h-2.2zM559.1 76.1h2.2v2.2h-2.2zM594.7 81.3h2.2v2.2h-2.2zM526.0 52.5h2.2v2.2h-2.2zM573.6 111.1h2.2v2.2h-2.2zM523.4 91.5h2.2v2.2h-2.2zM595.7 93.0h2.2v2.2h-2.2zM590.3 105.3h2.2v2.2h-2.2zM557.3 76.3h2.2v2.2h-2.2zM590.4 108.4h2.2v2.2h-2.2zM595.2 91.7h2.2v2.2h-2.2zM523.8 76.8h2.2v2.2h-2.2zM524.6 90.2h2.2v2.2h-2.2zM594.2 82.4h2.2v2.2h-2.2zM596.4 90.9h2.2v2.2h-2.2zM523.0 58.8h2.2v2.2h-2.2zM557.2 106.2h2.2v2.2h-2.2zM575.6 81.4h2.2v2.2h-2.2zM562.9 106.0h2.2v2.2h-2.2zM531.2 121.2h2.2v2.2h-2.2zM594.7 91.5h2.2v2.2h-2.2zM540.0 114.0h2.2v2.2h-2.2zM591.0 82.3h2.2v2.2h-2.2zM555.3 108.3h2.2v2.2h-2.2zM522.8 60.9h2.2v2.2h-2.2zM591.2 105.4h2.2v2.2h-2.2zM591.7 101.5h2.2v2.2h-2.2zM537.6 116.4h2.2v2.2h-2.2zM566.4 107.8h2.2v2.2h-2.2zM525.0 99.4h2.2v2.2h-2.2zM548.4 72.1h2.2v2.2h-2.2zM523.9 89.0h2.2v2.2h-2.2zM522.9 68.9h2.2v2.2h-2.2zM541.2 112.9h2.2v2.2h-2.2zM534.2 117.9h2.2v2.2h-2.2zM553.1 75.0h2.2v2.2h-2.2zM525.8 113.5h2.2v2.2h-2.2zM523.6 60.4h2.2v2.2h-2.2zM524.2 106.5h2.2v2.2h-2.2zM561.1 75.3h2.2v2.2h-2.2zM543.4 66.6h2.2v2.2h-2.2zM524.7 87.6h2.2v2.2h-2.2zM523.6 68.2h2.2v2.2h-2.2zM523.8 107.6h2.2v2.2h-2.2zM592.6 100.1h2.2v2.2h-2.2zM525.0 91.6h2.2v2.2h-2.2zM524.1 66.3h2.2v2.2h-2.2zM523.5 98.3h2.2v2.2h-2.2zM563.4 77.1h2.2v2.2h-2.2zM542.4 114.1h2.2v2.2h-2.2zM590.0 112.1h2.2v2.2h-2.2zM564.6 78.0h2.2v2.2h-2.2z" fill="#ff4f28"/></g><g><path d="M563.8 93.7h1.8v1.8h-1.8zM593.0 89.1h1.8v1.8h-1.8zM557.0 76.5h1.8v1.8h-1.8zM590.1 100.1h1.8v1.8h-1.8zM581.0 107.0h1.8v1.8h-1.8zM590.4 94.2h1.8v1.8h-1.8zM590.0 103.0h1.8v1.8h-1.8zM564.9 78.9h1.8v1.8h-1.8zM561.3 92.1h1.8v1.8h-1.8zM586.9 104.1h1.8v1.8h-1.8zM586.1 112.7h1.8v1.8h-1.8zM578.5 90.0h1.8v1.8h-1.8zM588.5 101.3h1.8v1.8h-1.8zM555.9 95.4h1.8v1.8h-1.8zM565.3 79.6h1.8v1.8h-1.8zM577.0 92.6h1.8v1.8h-1.8zM590.6 97.5h1.8v1.8h-1.8zM568.7 102.4h1.8v1.8h-1.8zM584.9 114.9h1.8v1.8h-1.8zM564.4 102.2h1.8v1.8h-1.8zM582.0 96.1h1.8v1.8h-1.8zM590.7 97.2h1.8v1.8h-1.8zM556.0 79.3h1.8v1.8h-1.8zM560.7 84.2h1.8v1.8h-1.8zM585.2 114.7h1.8v1.8h-1.8zM563.4 79.4h1.8v1.8h-1.8zM587.8 93.9h1.8v1.8h-1.8zM581.7 98.2h1.8v1.8h-1.8z" fill="#4df3ce"/><path d="M564.5 99.6h1.8v1.8h-1.8zM559.6 83.9h1.8v1.8h-1.8zM591.9 92.3h1.8v1.8h-1.8zM585.2 93.0h1.8v1.8h-1.8zM589.2 104.0h1.8v1.8h-1.8zM569.7 107.3h1.8v1.8h-1.8zM589.2 106.4h1.8v1.8h-1.8zM559.6 101.5h1.8v1.8h-1.8zM581.8 106.8h1.8v1.8h-1.8zM581.7 112.2h1.8v1.8h-1.8zM570.5 96.6h1.8v1.8h-1.8zM561.8 78.5h1.8v1.8h-1.8zM558.5 97.3h1.8v1.8h-1.8zM589.4 107.8h1.8v1.8h-1.8zM572.1 102.4h1.8v1.8h-1.8zM574.1 96.6h1.8v1.8h-1.8zM573.9 85.1h1.8v1.8h-1.8zM568.4 107.3h1.8v1.8h-1.8zM566.5 84.6h1.8v1.8h-1.8zM581.1 110.0h1.8v1.8h-1.8zM590.7 101.9h1.8v1.8h-1.8zM581.5 112.3h1.8v1.8h-1.8zM577.4 101.9h1.8v1.8h-1.8zM569.3 89.9h1.8v1.8h-1.8zM574.7 88.6h1.8v1.8h-1.8zM569.0 89.8h1.8v1.8h-1.8z" fill="#b2f396"/><path d="M591.1 92.6h1.8v1.8h-1.8zM585.1 84.7h1.8v1.8h-1.8zM575.0 108.4h1.8v1.8h-1.8zM568.4 79.7h1.8v1.8h-1.8zM582.1 101.3h1.8v1.8h-1.8zM564.4 87.5h1.8v1.8h-1.8zM568.1 89.7h1.8v1.8h-1.8zM580.6 96.6h1.8v1.8h-1.8zM589.2 88.1h1.8v1.8h-1.8zM559.2 95.1h1.8v1.8h-1.8zM581.9 90.3h1.8v1.8h-1.8zM591.3 98.0h1.8v1.8h-1.8zM580.7 85.0h1.8v1.8h-1.8zM560.2 83.8h1.8v1.8h-1.8zM577.3 94.4h1.8v1.8h-1.8zM563.7 90.2h1.8v1.8h-1.8zM572.2 105.5h1.8v1.8h-1.8zM565.8 86.8h1.8v1.8h-1.8zM557.3 83.5h1.8v1.8h-1.8zM588.0 100.9h1.8v1.8h-1.8zM570.7 98.3h1.8v1.8h-1.8zM564.5 89.3h1.8v1.8h-1.8zM565.5 91.0h1.8v1.8h-1.8zM589.7 107.7h1.8v1.8h-1.8zM576.2 106.1h1.8v1.8h-1.8zM567.4 93.2h1.8v1.8h-1.8zM569.4 101.3h1.8v1.8h-1.8zM555.9 104.9h1.8v1.8h-1.8zM577.2 94.7h1.8v1.8h-1.8zM566.4 88.2h1.8v1.8h-1.8zM570.1 94.8h1.8v1.8h-1.8zM556.4 80.4h1.8v1.8h-1.8zM586.8 106.7h1.8v1.8h-1.8zM573.8 94.0h1.8v1.8h-1.8zM582.7 101.5h1.8v1.8h-1.8zM567.4 85.4h1.8v1.8h-1.8zM572.1 96.6h1.8v1.8h-1.8zM569.1 84.8h1.8v1.8h-1.8zM557.8 101.2h1.8v1.8h-1.8zM581.8 94.0h1.8v1.8h-1.8zM582.1 84.3h1.8v1.8h-1.8zM586.4 108.9h1.8v1.8h-1.8zM589.3 109.7h1.8v1.8h-1.8zM565.8 101.8h1.8v1.8h-1.8zM584.4 92.8h1.8v1.8h-1.8zM571.3 90.2h1.8v1.8h-1.8zM577.7 95.0h1.8v1.8h-1.8zM584.4 114.6h1.8v1.8h-1.8zM563.9 104.2h1.8v1.8h-1.8zM557.0 98.8h1.8v1.8h-1.8zM592.2 84.5h1.8v1.8h-1.8zM570.7 87.8h1.8v1.8h-1.8zM590.6 87.8h1.8v1.8h-1.8zM574.1 111.1h1.8v1.8h-1.8zM561.3 89.9h1.8v1.8h-1.8z" fill="#e5ce74"/><path d="M555.7 90.5h1.8v1.8h-1.8zM565.2 96.4h1.8v1.8h-1.8zM578.1 90.7h1.8v1.8h-1.8zM558.0 98.8h1.8v1.8h-1.8zM589.4 110.3h1.8v1.8h-1.8zM588.2 95.4h1.8v1.8h-1.8zM566.4 92.0h1.8v1.8h-1.8zM589.4 106.1h1.8v1.8h-1.8zM561.7 86.8h1.8v1.8h-1.8zM568.5 84.9h1.8v1.8h-1.8zM587.6 90.4h1.8v1.8h-1.8zM583.2 107.2h1.8v1.8h-1.8zM582.7 84.3h1.8v1.8h-1.8zM558.1 101.6h1.8v1.8h-1.8zM571.7 96.3h1.8v1.8h-1.8zM592.2 88.8h1.8v1.8h-1.8zM563.2 103.8h1.8v1.8h-1.8zM581.9 100.2h1.8v1.8h-1.8zM580.5 95.1h1.8v1.8h-1.8zM566.1 84.9h1.8v1.8h-1.8zM562.9 78.4h1.8v1.8h-1.8zM571.4 82.9h1.8v1.8h-1.8zM557.8 85.3h1.8v1.8h-1.8zM558.1 91.3h1.8v1.8h-1.8zM555.7 101.2h1.8v1.8h-1.8zM564.0 87.8h1.8v1.8h-1.8zM583.5 86.6h1.8v1.8h-1.8zM569.2 83.9h1.8v1.8h-1.8zM573.4 100.5h1.8v1.8h-1.8zM590.9 90.6h1.8v1.8h-1.8zM574.8 81.5h1.8v1.8h-1.8zM578.4 110.9h1.8v1.8h-1.8zM584.1 102.0h1.8v1.8h-1.8zM589.4 97.6h1.8v1.8h-1.8zM555.6 77.2h1.8v1.8h-1.8zM571.9 107.1h1.8v1.8h-1.8zM573.7 103.3h1.8v1.8h-1.8zM558.4 102.7h1.8v1.8h-1.8zM566.7 101.9h1.8v1.8h-1.8zM573.2 87.8h1.8v1.8h-1.8zM573.5 103.0h1.8v1.8h-1.8z" fill="#ff964f"/></g><g><path d="M589.3 101.0h2.2v2.2h-2.2zM589.4 107.9h2.2v2.2h-2.2zM600.0 95.9h2.2v2.2h-2.2zM586.7 106.6h2.2v2.2h-2.2zM591.6 84.8h2.2v2.2h-2.2zM587.8 83.8h2.2v2.2h-2.2zM597.1 87.0h2.2v2.2h-2.2zM587.2 92.3h2.2v2.2h-2.2zM585.7 107.7h2.2v2.2h-2.2zM589.9 79.3h2.2v2.2h-2.2z" fill="#4c4ffc"/><path d="M599.6 90.5h2.2v2.2h-2.2zM592.5 86.1h2.2v2.2h-2.2zM593.8 98.9h2.2v2.2h-2.2zM591.4 92.4h2.2v2.2h-2.2zM595.9 87.7h2.2v2.2h-2.2zM595.2 95.7h2.2v2.2h-2.2zM589.3 113.6h2.2v2.2h-2.2zM595.9 105.2h2.2v2.2h-2.2zM591.3 113.6h2.2v2.2h-2.2zM592.9 100.9h2.2v2.2h-2.2zM600.2 90.4h2.2v2.2h-2.2zM590.4 106.4h2.2v2.2h-2.2zM599.8 85.8h2.2v2.2h-2.2zM595.5 106.0h2.2v2.2h-2.2zM590.7 79.7h2.2v2.2h-2.2zM586.4 101.7h2.2v2.2h-2.2zM591.5 90.2h2.2v2.2h-2.2z" fill="#19cee3"/><path d="M599.5 77.1h2.2v2.2h-2.2zM590.7 93.7h2.2v2.2h-2.2zM593.9 102.8h2.2v2.2h-2.2zM597.5 101.8h2.2v2.2h-2.2zM598.5 85.1h2.2v2.2h-2.2zM594.0 107.2h2.2v2.2h-2.2zM592.7 107.8h2.2v2.2h-2.2zM590.4 81.5h2.2v2.2h-2.2zM592.7 92.4h2.2v2.2h-2.2zM596.2 80.3h2.2v2.2h-2.2zM597.1 100.6h2.2v2.2h-2.2z" fill="#e5ce74"/><path d="M595.1 88.5h2.2v2.2h-2.2zM593.0 113.5h2.2v2.2h-2.2zM597.3 83.8h2.2v2.2h-2.2zM597.9 98.7h2.2v2.2h-2.2zM596.7 93.3h2.2v2.2h-2.2zM593.1 107.9h2.2v2.2h-2.2zM592.5 92.0h2.2v2.2h-2.2zM588.8 116.0h2.2v2.2h-2.2zM594.4 90.4h2.2v2.2h-2.2zM599.9 93.8h2.2v2.2h-2.2z" fill="#ff964f"/><path d="M595.9 89.0h2.2v2.2h-2.2zM599.0 79.3h2.2v2.2h-2.2zM587.8 102.5h2.2v2.2h-2.2zM599.4 96.3h2.2v2.2h-2.2zM598.7 78.5h2.2v2.2h-2.2zM598.4 82.6h2.2v2.2h-2.2zM593.3 82.8h2.2v2.2h-2.2zM588.0 88.6h2.2v2.2h-2.2zM599.3 77.2h2.2v2.2h-2.2zM596.7 102.5h2.2v2.2h-2.2zM591.2 92.2h2.2v2.2h-2.2zM592.4 105.5h2.2v2.2h-2.2zM591.1 83.9h2.2v2.2h-2.2zM595.9 89.5h2.2v2.2h-2.2zM591.2 95.4h2.2v2.2h-2.2zM595.8 109.7h2.2v2.2h-2.2zM590.7 108.6h2.2v2.2h-2.2zM590.3 80.4h2.2v2.2h-2.2zM598.9 97.8h2.2v2.2h-2.2zM597.1 79.7h2.2v2.2h-2.2zM597.9 94.4h2.2v2.2h-2.2zM593.4 112.8h2.2v2.2h-2.2zM594.3 101.1h2.2v2.2h-2.2zM590.9 91.9h2.2v2.2h-2.2zM586.6 95.4h2.2v2.2h-2.2zM587.8 106.1h2.2v2.2h-2.2zM597.1 101.2h2.2v2.2h-2.2zM599.3 93.8h2.2v2.2h-2.2zM593.9 79.7h2.2v2.2h-2.2zM591.0 84.3h2.2v2.2h-2.2zM591.5 83.1h2.2v2.2h-2.2zM598.1 99.5h2.2v2.2h-2.2zM593.1 107.0h2.2v2.2h-2.2zM588.7 118.7h2.2v2.2h-2.2zM590.9 94.1h2.2v2.2h-2.2zM590.4 79.1h2.2v2.2h-2.2zM597.3 84.6h2.2v2.2h-2.2zM600.6 93.9h2.2v2.2h-2.2zM588.4 111.4h2.2v2.2h-2.2zM599.2 98.0h2.2v2.2h-2.2zM594.9 104.4h2.2v2.2h-2.2zM596.9 82.1h2.2v2.2h-2.2z" fill="#ff4f28"/></g><g><path d="M524.7 133.9h2.0v2.0h-2.0zM522.8 140.9h2.0v2.0h-2.0zM528.0 142.2h2.0v2.0h-2.0zM531.3 141.6h2.0v2.0h-2.0zM528.2 142.4h2.0v2.0h-2.0zM526.3 137.7h2.0v2.0h-2.0zM521.9 141.1h2.0v2.0h-2.0zM528.5 145.6h2.0v2.0h-2.0zM538.4 140.7h2.0v2.0h-2.0z" fill="#8000ff"/><path d="M529.1 125.2h2.0v2.0h-2.0zM564.9 126.9h2.0v2.0h-2.0zM567.3 118.6h2.0v2.0h-2.0zM584.8 131.4h2.0v2.0h-2.0zM570.7 133.7h2.0v2.0h-2.0zM523.2 115.4h2.0v2.0h-2.0zM543.4 127.8h2.0v2.0h-2.0zM596.8 125.9h2.0v2.0h-2.0zM547.3 120.2h2.0v2.0h-2.0zM547.3 115.2h2.0v2.0h-2.0zM546.5 112.4h2.0v2.0h-2.0zM561.5 118.2h2.0v2.0h-2.0zM563.5 124.8h2.0v2.0h-2.0zM591.5 119.7h2.0v2.0h-2.0zM569.2 131.3h2.0v2.0h-2.0zM531.6 122.0h2.0v2.0h-2.0zM558.4 112.5h2.0v2.0h-2.0zM522.9 119.4h2.0v2.0h-2.0zM570.8 132.8h2.0v2.0h-2.0zM545.8 125.7h2.0v2.0h-2.0zM573.4 123.6h2.0v2.0h-2.0zM584.6 123.9h2.0v2.0h-2.0zM537.5 116.8h2.0v2.0h-2.0zM576.9 121.6h2.0v2.0h-2.0zM525.5 124.4h2.0v2.0h-2.0zM574.3 132.8h2.0v2.0h-2.0zM554.5 110.4h2.0v2.0h-2.0zM584.3 124.3h2.0v2.0h-2.0zM548.7 130.2h2.0v2.0h-2.0zM562.2 123.7h2.0v2.0h-2.0zM531.1 123.1h2.0v2.0h-2.0zM542.2 120.1h2.0v2.0h-2.0zM575.5 133.3h2.0v2.0h-2.0zM540.5 125.4h2.0v2.0h-2.0zM577.1 123.8h2.0v2.0h-2.0zM588.6 122.0h2.0v2.0h-2.0zM560.6 115.8h2.0v2.0h-2.0zM568.8 120.5h2.0v2.0h-2.0zM525.5 128.5h2.0v2.0h-2.0zM556.7 132.9h2.0v2.0h-2.0zM522.8 129.0h2.0v2.0h-2.0zM573.8 112.4h2.0v2.0h-2.0zM572.2 115.0h2.0v2.0h-2.0zM568.8 113.1h2.0v2.0h-2.0zM561.0 116.0h2.0v2.0h-2.0zM573.0 114.8h2.0v2.0h-2.0zM564.5 117.3h2.0v2.0h-2.0zM563.9 114.7h2.0v2.0h-2.0zM566.2 114.6h2.0v2.0h-2.0zM568.7 109.8h2.0v2.0h-2.0zM566.7 115.1h2.0v2.0h-2.0zM632.0 110.0h2.0v2.0h-2.0zM605.0 106.1h2.0v2.0h-2.0zM619.3 105.9h2.0v2.0h-2.0zM615.6 112.6h2.0v2.0h-2.0zM632.8 120.9h2.0v2.0h-2.0zM623.8 114.3h2.0v2.0h-2.0zM626.8 105.5h2.0v2.0h-2.0zM600.4 121.6h2.0v2.0h-2.0zM616.5 109.5h2.0v2.0h-2.0zM613.9 128.8h2.0v2.0h-2.0z" fill="#4c4ffc"/><path d="M563.5 128.7h2.0v2.0h-2.0zM553.7 128.2h2.0v2.0h-2.0zM562.6 122.5h2.0v2.0h-2.0zM555.5 122.2h2.0v2.0h-2.0zM522.9 128.8h2.0v2.0h-2.0zM562.1 123.7h2.0v2.0h-2.0zM537.4 122.0h2.0v2.0h-2.0zM536.9 120.8h2.0v2.0h-2.0zM574.6 130.3h2.0v2.0h-2.0zM525.3 123.8h2.0v2.0h-2.0zM575.7 122.9h2.0v2.0h-2.0zM568.7 128.6h2.0v2.0h-2.0zM576.2 116.1h2.0v2.0h-2.0zM572.5 120.3h2.0v2.0h-2.0zM521.1 116.3h2.0v2.0h-2.0zM537.5 127.0h2.0v2.0h-2.0zM524.9 124.3h2.0v2.0h-2.0zM551.3 126.3h2.0v2.0h-2.0zM560.7 110.9h2.0v2.0h-2.0zM526.1 125.0h2.0v2.0h-2.0zM576.9 129.8h2.0v2.0h-2.0zM590.7 120.9h2.0v2.0h-2.0zM542.1 119.1h2.0v2.0h-2.0zM576.9 114.6h2.0v2.0h-2.0zM588.0 130.6h2.0v2.0h-2.0zM550.8 125.1h2.0v2.0h-2.0zM555.6 118.1h2.0v2.0h-2.0zM525.6 123.7h2.0v2.0h-2.0z" fill="#3374f8"/><path d="M587.0 126.5h2.0v2.0h-2.0zM580.1 116.0h2.0v2.0h-2.0zM549.5 112.3h2.0v2.0h-2.0zM560.0 106.9h2.0v2.0h-2.0zM581.4 131.3h2.0v2.0h-2.0zM583.1 121.3h2.0v2.0h-2.0zM569.8 129.7h2.0v2.0h-2.0zM579.4 119.6h2.0v2.0h-2.0zM576.0 127.4h2.0v2.0h-2.0zM563.3 125.8h2.0v2.0h-2.0zM544.7 128.3h2.0v2.0h-2.0zM589.8 126.6h2.0v2.0h-2.0zM581.8 132.3h2.0v2.0h-2.0zM566.5 130.7h2.0v2.0h-2.0zM582.0 131.4h2.0v2.0h-2.0zM555.9 125.4h2.0v2.0h-2.0zM566.0 126.0h2.0v2.0h-2.0zM587.1 118.7h2.0v2.0h-2.0zM524.7 118.8h2.0v2.0h-2.0zM550.8 118.7h2.0v2.0h-2.0zM551.1 114.4h2.0v2.0h-2.0zM581.6 122.0h2.0v2.0h-2.0zM551.4 110.5h2.0v2.0h-2.0zM593.6 127.9h2.0v2.0h-2.0zM553.9 115.5h2.0v2.0h-2.0zM559.8 112.2h2.0v2.0h-2.0zM544.4 117.2h2.0v2.0h-2.0zM563.5 110.1h2.0v2.0h-2.0zM527.5 122.5h2.0v2.0h-2.0zM523.3 123.4h2.0v2.0h-2.0zM582.4 123.6h2.0v2.0h-2.0zM540.9 125.8h2.0v2.0h-2.0zM569.0 118.0h2.0v2.0h-2.0zM576.3 115.5h2.0v2.0h-2.0zM560.4 113.4h2.0v2.0h-2.0zM564.5 113.9h2.0v2.0h-2.0zM574.2 113.1h2.0v2.0h-2.0zM560.7 111.5h2.0v2.0h-2.0zM568.7 116.1h2.0v2.0h-2.0zM569.1 111.4h2.0v2.0h-2.0zM567.3 118.5h2.0v2.0h-2.0zM562.0 116.2h2.0v2.0h-2.0zM559.8 112.6h2.0v2.0h-2.0zM538.0 139.0h2.0v2.0h-2.0zM529.4 143.3h2.0v2.0h-2.0zM527.2 144.2h2.0v2.0h-2.0zM520.9 136.5h2.0v2.0h-2.0zM532.3 136.2h2.0v2.0h-2.0zM537.5 137.6h2.0v2.0h-2.0zM520.5 146.0h2.0v2.0h-2.0zM532.9 134.1h2.0v2.0h-2.0zM532.1 143.5h2.0v2.0h-2.0zM528.3 136.1h2.0v2.0h-2.0zM536.2 138.9h2.0v2.0h-2.0zM529.9 135.3h2.0v2.0h-2.0zM527.8 142.7h2.0v2.0h-2.0zM532.8 138.0h2.0v2.0h-2.0zM525.8 145.7h2.0v2.0h-2.0zM529.8 134.4h2.0v2.0h-2.0zM522.1 142.2h2.0v2.0h-2.0zM560.2 63.2h2.0v2.0h-2.0zM560.0 56.8h2.0v2.0h-2.0zM555.9 63.1h2.0v2.0h-2.0zM579.7 68.6h2.0v2.0h-2.0zM581.9 72.4h2.0v2.0h-2.0zM560.7 63.1h2.0v2.0h-2.0zM575.7 59.0h2.0v2.0h-2.0zM583.3 65.1h2.0v2.0h-2.0zM545.9 60.4h2.0v2.0h-2.0zM574.4 62.6h2.0v2.0h-2.0zM544.2 61.6h2.0v2.0h-2.0z" fill="#1996f3"/><path d="M554.5 119.7h2.0v2.0h-2.0zM522.2 128.4h2.0v2.0h-2.0zM534.5 129.4h2.0v2.0h-2.0zM561.5 119.0h2.0v2.0h-2.0zM552.4 114.8h2.0v2.0h-2.0zM556.6 133.2h2.0v2.0h-2.0zM555.4 114.5h2.0v2.0h-2.0zM569.0 114.9h2.0v2.0h-2.0zM581.3 119.7h2.0v2.0h-2.0zM528.4 127.7h2.0v2.0h-2.0zM552.8 129.3h2.0v2.0h-2.0zM558.6 133.8h2.0v2.0h-2.0zM552.7 119.9h2.0v2.0h-2.0zM567.7 119.3h2.0v2.0h-2.0zM537.0 127.2h2.0v2.0h-2.0zM555.7 113.7h2.0v2.0h-2.0zM570.2 133.7h2.0v2.0h-2.0zM559.3 132.4h2.0v2.0h-2.0zM552.6 116.1h2.0v2.0h-2.0zM585.3 130.1h2.0v2.0h-2.0zM568.6 126.8h2.0v2.0h-2.0zM550.1 126.7h2.0v2.0h-2.0zM577.9 127.5h2.0v2.0h-2.0zM568.1 115.1h2.0v2.0h-2.0zM561.0 120.9h2.0v2.0h-2.0zM577.8 129.7h2.0v2.0h-2.0zM545.1 112.8h2.0v2.0h-2.0zM564.1 127.9h2.0v2.0h-2.0zM567.7 121.3h2.0v2.0h-2.0zM549.1 132.3h2.0v2.0h-2.0zM573.8 116.3h2.0v2.0h-2.0zM559.0 123.9h2.0v2.0h-2.0zM592.8 120.7h2.0v2.0h-2.0zM582.3 124.0h2.0v2.0h-2.0zM574.1 118.6h2.0v2.0h-2.0zM561.3 112.1h2.0v2.0h-2.0zM571.6 113.6h2.0v2.0h-2.0zM568.5 118.8h2.0v2.0h-2.0zM559.1 116.8h2.0v2.0h-2.0zM559.4 115.2h2.0v2.0h-2.0zM563.0 109.4h2.0v2.0h-2.0zM567.6 111.7h2.0v2.0h-2.0zM564.5 117.2h2.0v2.0h-2.0zM573.9 115.9h2.0v2.0h-2.0zM533.6 138.3h2.0v2.0h-2.0zM533.9 134.7h2.0v2.0h-2.0zM534.4 141.9h2.0v2.0h-2.0zM533.2 139.3h2.0v2.0h-2.0zM520.2 142.3h2.0v2.0h-2.0zM534.0 141.5h2.0v2.0h-2.0zM534.7 134.3h2.0v2.0h-2.0zM524.8 143.6h2.0v2.0h-2.0zM521.1 133.8h2.0v2.0h-2.0zM522.5 142.1h2.0v2.0h-2.0zM524.9 138.2h2.0v2.0h-2.0zM532.3 140.5h2.0v2.0h-2.0zM528.3 136.6h2.0v2.0h-2.0z" fill="#19cee3"/><path d="M565.0 121.3h2.0v2.0h-2.0zM557.6 115.9h2.0v2.0h-2.0zM526.6 121.3h2.0v2.0h-2.0zM547.6 125.3h2.0v2.0h-2.0zM550.0 129.2h2.0v2.0h-2.0zM589.6 122.4h2.0v2.0h-2.0zM548.3 123.0h2.0v2.0h-2.0zM569.5 123.7h2.0v2.0h-2.0zM580.0 122.4h2.0v2.0h-2.0zM559.9 133.1h2.0v2.0h-2.0zM557.1 114.5h2.0v2.0h-2.0zM526.6 128.2h2.0v2.0h-2.0zM560.4 127.9h2.0v2.0h-2.0zM563.3 116.7h2.0v2.0h-2.0zM563.3 114.6h2.0v2.0h-2.0zM524.0 122.1h2.0v2.0h-2.0zM556.9 128.5h2.0v2.0h-2.0zM552.3 125.2h2.0v2.0h-2.0zM581.0 122.2h2.0v2.0h-2.0zM561.3 127.8h2.0v2.0h-2.0zM569.7 123.0h2.0v2.0h-2.0zM583.2 125.0h2.0v2.0h-2.0zM567.6 111.1h2.0v2.0h-2.0zM560.2 106.5h2.0v2.0h-2.0zM557.9 115.0h2.0v2.0h-2.0zM569.8 127.3h2.0v2.0h-2.0zM521.7 123.9h2.0v2.0h-2.0zM574.9 120.4h2.0v2.0h-2.0zM541.3 120.5h2.0v2.0h-2.0zM555.8 126.6h2.0v2.0h-2.0zM568.7 133.9h2.0v2.0h-2.0zM538.4 132.3h2.0v2.0h-2.0zM588.8 130.1h2.0v2.0h-2.0zM586.8 125.7h2.0v2.0h-2.0zM559.3 121.0h2.0v2.0h-2.0zM561.5 111.7h2.0v2.0h-2.0zM533.7 122.9h2.0v2.0h-2.0zM554.4 112.2h2.0v2.0h-2.0zM581.9 129.9h2.0v2.0h-2.0zM537.6 122.5h2.0v2.0h-2.0zM563.4 112.2h2.0v2.0h-2.0zM564.5 112.7h2.0v2.0h-2.0zM566.2 116.3h2.0v2.0h-2.0zM561.9 108.1h2.0v2.0h-2.0zM571.2 115.0h2.0v2.0h-2.0zM560.6 107.9h2.0v2.0h-2.0zM572.2 119.7h2.0v2.0h-2.0zM568.6 115.5h2.0v2.0h-2.0zM573.1 119.8h2.0v2.0h-2.0zM537.4 143.0h2.0v2.0h-2.0zM528.9 144.1h2.0v2.0h-2.0zM537.2 142.4h2.0v2.0h-2.0zM524.6 133.2h2.0v2.0h-2.0zM528.5 136.9h2.0v2.0h-2.0zM523.1 137.8h2.0v2.0h-2.0zM538.2 140.1h2.0v2.0h-2.0zM519.7 138.9h2.0v2.0h-2.0zM539.3 139.3h2.0v2.0h-2.0zM526.2 142.1h2.0v2.0h-2.0zM530.5 144.3h2.0v2.0h-2.0zM529.3 138.7h2.0v2.0h-2.0zM528.7 132.5h2.0v2.0h-2.0zM528.4 141.2h2.0v2.0h-2.0zM523.7 140.5h2.0v2.0h-2.0zM632.2 124.5h2.0v2.0h-2.0zM601.0 120.1h2.0v2.0h-2.0zM617.2 102.2h2.0v2.0h-2.0zM610.0 113.4h2.0v2.0h-2.0zM609.7 112.9h2.0v2.0h-2.0zM632.4 108.8h2.0v2.0h-2.0zM615.0 126.7h2.0v2.0h-2.0zM613.9 128.9h2.0v2.0h-2.0zM617.8 109.9h2.0v2.0h-2.0zM620.4 107.8h2.0v2.0h-2.0zM611.5 122.9h2.0v2.0h-2.0zM563.3 70.7h2.0v2.0h-2.0zM553.7 57.8h2.0v2.0h-2.0zM566.4 60.5h2.0v2.0h-2.0zM544.8 57.5h2.0v2.0h-2.0zM569.2 74.5h2.0v2.0h-2.0zM585.6 73.8h2.0v2.0h-2.0zM561.3 58.0h2.0v2.0h-2.0zM556.2 65.0h2.0v2.0h-2.0z" fill="#4df3ce"/><path d="M569.8 118.0h2.0v2.0h-2.0zM596.0 117.7h2.0v2.0h-2.0zM524.7 117.4h2.0v2.0h-2.0zM581.6 116.0h2.0v2.0h-2.0zM563.7 132.8h2.0v2.0h-2.0zM535.5 131.5h2.0v2.0h-2.0zM534.3 131.2h2.0v2.0h-2.0zM592.3 128.3h2.0v2.0h-2.0zM569.5 121.3h2.0v2.0h-2.0zM594.1 116.9h2.0v2.0h-2.0zM571.2 114.0h2.0v2.0h-2.0zM521.0 115.7h2.0v2.0h-2.0zM541.2 121.5h2.0v2.0h-2.0zM551.2 125.7h2.0v2.0h-2.0zM583.0 117.2h2.0v2.0h-2.0zM579.2 115.5h2.0v2.0h-2.0zM553.1 115.6h2.0v2.0h-2.0zM558.1 113.3h2.0v2.0h-2.0zM554.9 108.5h2.0v2.0h-2.0zM577.2 117.8h2.0v2.0h-2.0zM571.3 111.4h2.0v2.0h-2.0zM522.2 116.7h2.0v2.0h-2.0zM547.0 127.6h2.0v2.0h-2.0zM538.4 130.5h2.0v2.0h-2.0zM567.6 117.1h2.0v2.0h-2.0zM553.7 110.1h2.0v2.0h-2.0zM550.9 126.3h2.0v2.0h-2.0zM559.5 109.3h2.0v2.0h-2.0zM545.0 128.5h2.0v2.0h-2.0zM596.2 118.4h2.0v2.0h-2.0zM553.8 120.8h2.0v2.0h-2.0zM569.2 120.4h2.0v2.0h-2.0zM581.1 125.3h2.0v2.0h-2.0zM613.5 129.7h2.0v2.0h-2.0zM613.6 112.5h2.0v2.0h-2.0zM634.5 118.0h2.0v2.0h-2.0zM606.3 106.1h2.0v2.0h-2.0zM604.4 109.4h2.0v2.0h-2.0zM633.8 114.1h2.0v2.0h-2.0zM546.8 65.3h2.0v2.0h-2.0zM576.7 72.0h2.0v2.0h-2.0zM586.4 67.5h2.0v2.0h-2.0zM584.0 70.4h2.0v2.0h-2.0zM546.1 56.5h2.0v2.0h-2.0zM573.1 63.8h2.0v2.0h-2.0zM566.4 58.2h2.0v2.0h-2.0zM592.0 71.4h2.0v2.0h-2.0zM575.1 72.6h2.0v2.0h-2.0z" fill="#80ffb4"/><path d="M538.9 122.3h2.0v2.0h-2.0zM531.2 128.9h2.0v2.0h-2.0zM553.2 131.9h2.0v2.0h-2.0zM550.2 110.1h2.0v2.0h-2.0zM541.4 132.4h2.0v2.0h-2.0zM595.6 123.2h2.0v2.0h-2.0zM554.7 122.4h2.0v2.0h-2.0zM584.9 122.5h2.0v2.0h-2.0zM554.8 118.6h2.0v2.0h-2.0zM570.5 115.2h2.0v2.0h-2.0zM551.8 128.8h2.0v2.0h-2.0zM547.0 122.2h2.0v2.0h-2.0zM581.3 117.2h2.0v2.0h-2.0zM550.1 129.7h2.0v2.0h-2.0zM562.1 127.4h2.0v2.0h-2.0zM559.4 116.3h2.0v2.0h-2.0zM576.1 126.0h2.0v2.0h-2.0zM545.1 121.6h2.0v2.0h-2.0zM542.7 119.9h2.0v2.0h-2.0zM563.3 124.2h2.0v2.0h-2.0zM544.7 114.2h2.0v2.0h-2.0zM538.1 121.8h2.0v2.0h-2.0zM587.5 122.7h2.0v2.0h-2.0zM543.4 115.5h2.0v2.0h-2.0zM578.0 120.2h2.0v2.0h-2.0zM589.9 122.3h2.0v2.0h-2.0zM561.4 132.7h2.0v2.0h-2.0zM559.4 115.6h2.0v2.0h-2.0zM554.4 124.0h2.0v2.0h-2.0zM566.3 129.5h2.0v2.0h-2.0zM523.9 117.4h2.0v2.0h-2.0zM580.0 118.4h2.0v2.0h-2.0zM534.5 126.8h2.0v2.0h-2.0zM552.3 131.3h2.0v2.0h-2.0zM558.0 106.9h2.0v2.0h-2.0zM525.4 137.4h2.0v2.0h-2.0zM523.6 143.6h2.0v2.0h-2.0zM522.7 136.4h2.0v2.0h-2.0zM532.8 143.9h2.0v2.0h-2.0zM519.3 139.4h2.0v2.0h-2.0zM521.2 137.1h2.0v2.0h-2.0zM526.8 143.2h2.0v2.0h-2.0zM525.0 141.6h2.0v2.0h-2.0zM528.8 134.1h2.0v2.0h-2.0z" fill="#b2f396"/><path d="M584.4 125.2h2.0v2.0h-2.0zM577.1 128.7h2.0v2.0h-2.0zM580.5 125.5h2.0v2.0h-2.0zM566.4 126.2h2.0v2.0h-2.0zM580.3 128.6h2.0v2.0h-2.0zM556.4 118.4h2.0v2.0h-2.0zM553.2 114.0h2.0v2.0h-2.0zM522.3 129.3h2.0v2.0h-2.0zM562.7 129.7h2.0v2.0h-2.0zM566.0 121.2h2.0v2.0h-2.0zM595.1 125.4h2.0v2.0h-2.0zM549.4 111.5h2.0v2.0h-2.0zM588.5 130.0h2.0v2.0h-2.0zM557.0 117.4h2.0v2.0h-2.0zM559.6 115.2h2.0v2.0h-2.0zM536.0 131.2h2.0v2.0h-2.0zM570.7 121.9h2.0v2.0h-2.0zM573.5 123.8h2.0v2.0h-2.0zM551.3 133.4h2.0v2.0h-2.0zM585.4 128.9h2.0v2.0h-2.0zM552.1 131.8h2.0v2.0h-2.0zM537.7 129.5h2.0v2.0h-2.0zM590.0 121.1h2.0v2.0h-2.0zM569.2 119.4h2.0v2.0h-2.0zM574.3 125.1h2.0v2.0h-2.0zM550.4 113.6h2.0v2.0h-2.0zM562.6 126.8h2.0v2.0h-2.0zM588.3 128.1h2.0v2.0h-2.0zM592.5 125.8h2.0v2.0h-2.0zM551.4 125.2h2.0v2.0h-2.0zM559.8 134.2h2.0v2.0h-2.0zM570.5 117.4h2.0v2.0h-2.0zM569.0 119.8h2.0v2.0h-2.0zM558.4 117.3h2.0v2.0h-2.0zM519.4 134.6h2.0v2.0h-2.0zM523.9 135.0h2.0v2.0h-2.0zM536.3 145.4h2.0v2.0h-2.0zM524.5 138.1h2.0v2.0h-2.0zM525.2 141.8h2.0v2.0h-2.0zM527.7 145.5h2.0v2.0h-2.0zM534.3 144.9h2.0v2.0h-2.0zM529.1 134.3h2.0v2.0h-2.0zM524.3 135.0h2.0v2.0h-2.0zM524.7 135.7h2.0v2.0h-2.0zM533.5 137.6h2.0v2.0h-2.0zM522.6 145.7h2.0v2.0h-2.0zM602.6 107.7h2.0v2.0h-2.0zM608.4 99.8h2.0v2.0h-2.0zM598.3 104.2h2.0v2.0h-2.0zM603.0 122.6h2.0v2.0h-2.0zM608.7 118.3h2.0v2.0h-2.0zM615.7 108.5h2.0v2.0h-2.0zM623.5 123.0h2.0v2.0h-2.0zM598.7 121.6h2.0v2.0h-2.0zM619.1 110.8h2.0v2.0h-2.0zM612.7 107.7h2.0v2.0h-2.0zM613.2 109.7h2.0v2.0h-2.0zM608.4 116.9h2.0v2.0h-2.0zM615.7 109.1h2.0v2.0h-2.0zM613.0 109.1h2.0v2.0h-2.0zM619.2 106.8h2.0v2.0h-2.0zM610.1 114.9h2.0v2.0h-2.0zM606.2 109.9h2.0v2.0h-2.0zM608.1 111.2h2.0v2.0h-2.0zM612.5 112.2h2.0v2.0h-2.0zM613.1 114.7h2.0v2.0h-2.0zM617.5 107.6h2.0v2.0h-2.0zM602.8 112.4h2.0v2.0h-2.0zM601.6 122.4h2.0v2.0h-2.0zM608.8 115.6h2.0v2.0h-2.0zM607.0 115.6h2.0v2.0h-2.0zM620.2 109.1h2.0v2.0h-2.0zM604.9 111.6h2.0v2.0h-2.0zM604.0 116.8h2.0v2.0h-2.0zM613.4 110.2h2.0v2.0h-2.0zM611.5 113.2h2.0v2.0h-2.0zM600.0 113.2h2.0v2.0h-2.0zM608.2 108.5h2.0v2.0h-2.0zM614.7 114.7h2.0v2.0h-2.0zM619.9 111.0h2.0v2.0h-2.0zM612.0 112.8h2.0v2.0h-2.0zM602.2 118.3h2.0v2.0h-2.0zM601.7 115.8h2.0v2.0h-2.0zM610.2 116.0h2.0v2.0h-2.0zM603.4 115.8h2.0v2.0h-2.0zM608.3 109.5h2.0v2.0h-2.0zM613.6 113.9h2.0v2.0h-2.0zM605.4 115.7h2.0v2.0h-2.0zM610.6 112.2h2.0v2.0h-2.0zM552.6 68.1h2.0v2.0h-2.0zM575.5 75.4h2.0v2.0h-2.0zM586.3 72.9h2.0v2.0h-2.0zM569.3 72.0h2.0v2.0h-2.0zM554.3 60.9h2.0v2.0h-2.0zM571.3 63.6h2.0v2.0h-2.0zM572.1 76.1h2.0v2.0h-2.0zM552.7 57.1h2.0v2.0h-2.0zM548.4 68.4h2.0v2.0h-2.0z" fill="#e5ce74"/><path d="M532.2 140.9h2.0v2.0h-2.0zM528.2 139.4h2.0v2.0h-2.0zM519.9 141.2h2.0v2.0h-2.0zM532.9 137.3h2.0v2.0h-2.0zM535.2 141.5h2.0v2.0h-2.0zM528.3 135.7h2.0v2.0h-2.0zM520.3 138.9h2.0v2.0h-2.0zM519.5 135.5h2.0v2.0h-2.0zM555.7 64.4h2.0v2.0h-2.0zM588.9 70.3h2.0v2.0h-2.0zM589.6 68.1h2.0v2.0h-2.0zM550.2 56.9h2.0v2.0h-2.0zM550.4 62.9h2.0v2.0h-2.0zM578.5 61.4h2.0v2.0h-2.0zM567.0 68.8h2.0v2.0h-2.0zM562.7 71.9h2.0v2.0h-2.0zM593.4 75.3h2.0v2.0h-2.0zM581.8 69.7h2.0v2.0h-2.0zM562.7 74.6h2.0v2.0h-2.0zM588.9 73.6h2.0v2.0h-2.0zM586.7 76.4h2.0v2.0h-2.0zM568.0 72.3h2.0v2.0h-2.0zM567.4 67.7h2.0v2.0h-2.0z" fill="#ff964f"/><path d="M574.3 119.1h2.0v2.0h-2.0zM543.9 116.9h2.0v2.0h-2.0zM535.4 127.2h2.0v2.0h-2.0zM551.5 121.7h2.0v2.0h-2.0zM591.6 125.3h2.0v2.0h-2.0zM564.8 110.2h2.0v2.0h-2.0zM560.0 116.5h2.0v2.0h-2.0zM580.3 128.5h2.0v2.0h-2.0zM529.3 122.2h2.0v2.0h-2.0zM544.4 118.2h2.0v2.0h-2.0zM544.0 130.6h2.0v2.0h-2.0zM559.2 113.2h2.0v2.0h-2.0zM533.1 120.7h2.0v2.0h-2.0zM559.7 122.8h2.0v2.0h-2.0zM549.9 110.2h2.0v2.0h-2.0zM566.1 133.1h2.0v2.0h-2.0zM551.1 114.5h2.0v2.0h-2.0zM531.8 121.2h2.0v2.0h-2.0zM572.7 119.4h2.0v2.0h-2.0zM567.0 119.8h2.0v2.0h-2.0zM581.7 121.0h2.0v2.0h-2.0zM563.0 116.3h2.0v2.0h-2.0zM579.6 115.5h2.0v2.0h-2.0zM553.2 121.0h2.0v2.0h-2.0zM580.2 127.0h2.0v2.0h-2.0zM577.8 121.4h2.0v2.0h-2.0zM530.6 121.4h2.0v2.0h-2.0zM541.4 128.8h2.0v2.0h-2.0zM570.9 130.6h2.0v2.0h-2.0zM587.0 130.8h2.0v2.0h-2.0zM554.6 115.5h2.0v2.0h-2.0zM539.5 123.0h2.0v2.0h-2.0zM561.8 129.8h2.0v2.0h-2.0zM538.2 127.8h2.0v2.0h-2.0zM576.5 115.1h2.0v2.0h-2.0zM521.6 123.8h2.0v2.0h-2.0zM586.4 119.1h2.0v2.0h-2.0zM531.6 127.4h2.0v2.0h-2.0zM558.6 129.7h2.0v2.0h-2.0zM565.5 119.1h2.0v2.0h-2.0zM549.8 122.1h2.0v2.0h-2.0zM570.6 132.5h2.0v2.0h-2.0zM562.3 109.0h2.0v2.0h-2.0zM521.2 136.9h2.0v2.0h-2.0zM535.7 140.5h2.0v2.0h-2.0zM526.5 143.6h2.0v2.0h-2.0zM525.0 142.1h2.0v2.0h-2.0zM536.5 137.6h2.0v2.0h-2.0zM529.9 134.3h2.0v2.0h-2.0zM538.6 139.8h2.0v2.0h-2.0zM550.7 68.8h2.0v2.0h-2.0zM584.5 67.5h2.0v2.0h-2.0zM549.3 70.2h2.0v2.0h-2.0zM556.7 61.3h2.0v2.0h-2.0zM573.4 75.5h2.0v2.0h-2.0zM580.3 74.7h2.0v2.0h-2.0zM551.1 58.7h2.0v2.0h-2.0zM574.3 64.9h2.0v2.0h-2.0z" fill="#ff4f28"/></g><g><path d="M610.5 135.7h2.2v2.2h-2.2z" fill="#1996f3"/><path d="M677.1 60.4h2.2v2.2h-2.2zM685.3 64.3h2.2v2.2h-2.2zM679.0 70.3h2.2v2.2h-2.2zM685.7 77.6h2.2v2.2h-2.2zM677.3 82.5h2.2v2.2h-2.2zM679.4 81.1h2.2v2.2h-2.2zM678.7 83.2h2.2v2.2h-2.2zM675.6 87.0h2.2v2.2h-2.2zM688.3 86.4h2.2v2.2h-2.2zM677.3 89.5h2.2v2.2h-2.2zM682.9 89.5h2.2v2.2h-2.2zM688.5 90.9h2.2v2.2h-2.2zM676.6 92.3h2.2v2.2h-2.2zM681.5 92.3h2.2v2.2h-2.2zM684.3 93.7h2.2v2.2h-2.2zM690.6 93.7h2.2v2.2h-2.2zM677.3 95.1h2.2v2.2h-2.2zM680.8 95.8h2.2v2.2h-2.2zM686.4 95.1h2.2v2.2h-2.2zM675.9 97.2h2.2v2.2h-2.2zM678.7 99.3h2.2v2.2h-2.2zM685.0 98.6h2.2v2.2h-2.2zM679.9 101.9h2.2v2.2h-2.2zM679.6 105.6h2.2v2.2h-2.2zM682.7 113.0h2.2v2.2h-2.2zM692.5 123.4h2.2v2.2h-2.2zM617.1 94.9h2.2v2.2h-2.2zM627.6 92.6h2.2v2.2h-2.2zM626.9 95.1h2.2v2.2h-2.2zM638.4 97.9h2.2v2.2h-2.2zM649.7 95.1h2.2v2.2h-2.2zM665.4 98.2h2.2v2.2h-2.2zM664.0 100.0h2.2v2.2h-2.2zM659.5 101.8h2.2v2.2h-2.2zM664.0 108.0h2.2v2.2h-2.2zM634.6 102.1h2.2v2.2h-2.2zM636.4 103.2h2.2v2.2h-2.2zM629.4 105.2h2.2v2.2h-2.2zM633.9 107.7h2.2v2.2h-2.2zM619.9 103.9h2.2v2.2h-2.2zM627.6 109.1h2.2v2.2h-2.2zM631.1 111.2h2.2v2.2h-2.2zM631.1 113.3h2.2v2.2h-2.2zM627.6 115.8h2.2v2.2h-2.2zM633.6 116.1h2.2v2.2h-2.2zM620.6 118.2h2.2v2.2h-2.2zM631.1 118.9h2.2v2.2h-2.2zM630.8 121.4h2.2v2.2h-2.2zM652.8 117.1h2.2v2.2h-2.2zM651.0 122.0h2.2v2.2h-2.2zM657.0 122.7h2.2v2.2h-2.2zM653.5 125.2h2.2v2.2h-2.2zM646.2 126.9h2.2v2.2h-2.2zM622.0 126.9h2.2v2.2h-2.2zM633.9 129.9h2.2v2.2h-2.2z" fill="#4df3ce"/></g>
<g><path d="M787.3 275.9h1.8v1.8h-1.8zM809.0 321.0h1.8v1.8h-1.8zM803.8 259.3h1.8v1.8h-1.8zM761.5 306.9h1.8v1.8h-1.8zM845.5 312.8h1.8v1.8h-1.8zM847.4 259.3h1.8v1.8h-1.8zM805.8 258.7h1.8v1.8h-1.8zM848.1 274.7h1.8v1.8h-1.8zM784.4 311.7h1.8v1.8h-1.8zM828.9 319.5h1.8v1.8h-1.8zM848.6 257.6h1.8v1.8h-1.8zM781.9 283.0h1.8v1.8h-1.8zM788.4 311.6h1.8v1.8h-1.8zM791.3 255.8h1.8v1.8h-1.8zM849.8 284.7h1.8v1.8h-1.8zM784.9 286.1h1.8v1.8h-1.8zM845.5 280.3h1.8v1.8h-1.8zM769.8 304.9h1.8v1.8h-1.8zM793.2 272.9h1.8v1.8h-1.8zM783.5 296.1h1.8v1.8h-1.8zM785.0 253.6h1.8v1.8h-1.8zM835.5 254.7h1.8v1.8h-1.8zM790.3 305.1h1.8v1.8h-1.8zM800.9 265.9h1.8v1.8h-1.8zM779.4 285.8h1.8v1.8h-1.8zM777.3 309.4h1.8v1.8h-1.8zM803.5 314.9h1.8v1.8h-1.8z" fill="#8000ff"/><path d="M816.1 257.6h1.8v1.8h-1.8zM837.0 267.4h1.8v1.8h-1.8zM764.2 293.3h1.8v1.8h-1.8zM779.6 307.7h1.8v1.8h-1.8zM796.0 278.0h1.8v1.8h-1.8zM814.2 316.9h1.8v1.8h-1.8zM797.8 265.6h1.8v1.8h-1.8zM786.8 280.8h1.8v1.8h-1.8zM778.0 265.4h1.8v1.8h-1.8zM803.0 254.7h1.8v1.8h-1.8zM805.1 262.1h1.8v1.8h-1.8zM798.6 313.7h1.8v1.8h-1.8zM794.4 262.1h1.8v1.8h-1.8zM811.3 260.8h1.8v1.8h-1.8zM816.7 319.8h1.8v1.8h-1.8zM854.8 269.4h1.8v1.8h-1.8zM843.4 269.9h1.8v1.8h-1.8zM796.9 317.6h1.8v1.8h-1.8zM796.4 265.7h1.8v1.8h-1.8zM809.5 320.8h1.8v1.8h-1.8zM818.2 252.8h1.8v1.8h-1.8zM790.1 286.4h1.8v1.8h-1.8zM771.3 280.9h1.8v1.8h-1.8zM859.6 315.8h1.8v1.8h-1.8zM789.8 280.9h1.8v1.8h-1.8z" fill="#4c4ffc"/><path d="M779.2 272.9h1.8v1.8h-1.8zM762.2 302.0h1.8v1.8h-1.8zM833.2 263.1h1.8v1.8h-1.8zM824.1 264.9h1.8v1.8h-1.8zM836.8 320.0h1.8v1.8h-1.8zM834.7 317.0h1.8v1.8h-1.8zM779.2 264.5h1.8v1.8h-1.8zM787.3 262.2h1.8v1.8h-1.8zM838.0 265.9h1.8v1.8h-1.8zM786.1 305.2h1.8v1.8h-1.8zM785.4 254.5h1.8v1.8h-1.8zM778.2 258.9h1.8v1.8h-1.8zM774.2 298.9h1.8v1.8h-1.8zM767.2 291.9h1.8v1.8h-1.8zM784.8 300.2h1.8v1.8h-1.8zM771.0 289.3h1.8v1.8h-1.8zM784.8 273.8h1.8v1.8h-1.8zM766.5 308.8h1.8v1.8h-1.8zM760.8 307.7h1.8v1.8h-1.8zM820.0 263.7h1.8v1.8h-1.8zM784.0 300.8h1.8v1.8h-1.8zM845.9 269.3h1.8v1.8h-1.8zM809.4 316.7h1.8v1.8h-1.8zM850.3 285.4h1.8v1.8h-1.8zM769.3 293.2h1.8v1.8h-1.8zM766.9 299.1h1.8v1.8h-1.8zM790.5 265.0h1.8v1.8h-1.8z" fill="#1996f3"/><path d="M827.6 255.8h1.8v1.8h-1.8zM776.0 310.5h1.8v1.8h-1.8zM768.8 290.4h1.8v1.8h-1.8zM768.7 306.7h1.8v1.8h-1.8zM837.0 268.1h1.8v1.8h-1.8zM855.6 283.1h1.8v1.8h-1.8zM855.9 282.8h1.8v1.8h-1.8zM793.6 317.5h1.8v1.8h-1.8zM784.8 254.1h1.8v1.8h-1.8zM842.0 320.8h1.8v1.8h-1.8zM767.7 291.1h1.8v1.8h-1.8zM782.2 255.1h1.8v1.8h-1.8zM817.0 320.8h1.8v1.8h-1.8zM766.9 308.1h1.8v1.8h-1.8zM795.3 315.9h1.8v1.8h-1.8zM777.1 282.1h1.8v1.8h-1.8zM857.0 313.9h1.8v1.8h-1.8zM795.7 319.5h1.8v1.8h-1.8zM858.0 264.0h1.8v1.8h-1.8zM792.7 262.8h1.8v1.8h-1.8zM779.0 317.6h1.8v1.8h-1.8zM776.3 315.6h1.8v1.8h-1.8z" fill="#19cee3"/><path d="M859.8 263.3h1.8v1.8h-1.8zM771.8 311.4h1.8v1.8h-1.8zM780.1 263.0h1.8v1.8h-1.8zM771.6 305.5h1.8v1.8h-1.8zM850.0 267.7h1.8v1.8h-1.8zM851.5 279.9h1.8v1.8h-1.8zM795.5 278.8h1.8v1.8h-1.8zM775.9 268.0h1.8v1.8h-1.8zM772.1 296.4h1.8v1.8h-1.8zM843.2 320.8h1.8v1.8h-1.8zM784.4 285.0h1.8v1.8h-1.8zM791.3 299.8h1.8v1.8h-1.8zM784.9 259.3h1.8v1.8h-1.8zM834.7 257.0h1.8v1.8h-1.8zM785.6 270.4h1.8v1.8h-1.8zM823.6 314.9h1.8v1.8h-1.8zM777.6 265.2h1.8v1.8h-1.8zM850.5 286.5h1.8v1.8h-1.8zM783.1 276.9h1.8v1.8h-1.8zM821.6 318.5h1.8v1.8h-1.8zM791.9 283.1h1.8v1.8h-1.8zM762.7 306.7h1.8v1.8h-1.8zM763.7 299.2h1.8v1.8h-1.8zM775.6 303.6h1.8v1.8h-1.8zM760.7 296.8h1.8v1.8h-1.8zM808.2 262.7h1.8v1.8h-1.8z" fill="#4df3ce"/><path d="M782.6 303.6h1.8v1.8h-1.8zM774.1 302.4h1.8v1.8h-1.8zM826.3 258.9h1.8v1.8h-1.8zM790.2 261.8h1.8v1.8h-1.8zM806.5 258.7h1.8v1.8h-1.8zM762.4 293.4h1.8v1.8h-1.8zM809.8 316.5h1.8v1.8h-1.8zM789.3 283.2h1.8v1.8h-1.8zM837.6 257.8h1.8v1.8h-1.8zM842.7 273.3h1.8v1.8h-1.8zM820.6 315.6h1.8v1.8h-1.8zM825.1 256.7h1.8v1.8h-1.8zM775.4 282.8h1.8v1.8h-1.8zM769.5 313.9h1.8v1.8h-1.8zM828.8 265.4h1.8v1.8h-1.8zM794.8 276.8h1.8v1.8h-1.8zM778.2 314.6h1.8v1.8h-1.8zM851.8 262.2h1.8v1.8h-1.8zM825.9 250.8h1.8v1.8h-1.8zM808.8 259.1h1.8v1.8h-1.8zM850.2 316.8h1.8v1.8h-1.8zM857.6 278.5h1.8v1.8h-1.8zM828.1 320.4h1.8v1.8h-1.8zM854.7 259.0h1.8v1.8h-1.8zM815.0 321.1h1.8v1.8h-1.8zM833.8 316.6h1.8v1.8h-1.8z" fill="#80ffb4"/><path d="M796.1 317.9h1.8v1.8h-1.8zM844.0 320.3h1.8v1.8h-1.8zM793.0 277.6h1.8v1.8h-1.8zM778.7 315.4h1.8v1.8h-1.8zM777.8 281.8h1.8v1.8h-1.8zM846.4 278.0h1.8v1.8h-1.8zM771.2 279.7h1.8v1.8h-1.8zM778.1 276.0h1.8v1.8h-1.8zM763.0 301.7h1.8v1.8h-1.8zM789.3 308.2h1.8v1.8h-1.8zM828.6 318.0h1.8v1.8h-1.8zM853.8 261.4h1.8v1.8h-1.8zM772.7 276.2h1.8v1.8h-1.8zM771.5 304.4h1.8v1.8h-1.8zM818.5 255.0h1.8v1.8h-1.8zM834.7 263.5h1.8v1.8h-1.8zM790.3 278.4h1.8v1.8h-1.8zM843.9 256.7h1.8v1.8h-1.8zM778.7 255.5h1.8v1.8h-1.8zM761.2 294.8h1.8v1.8h-1.8zM807.1 315.9h1.8v1.8h-1.8zM794.6 311.1h1.8v1.8h-1.8zM858.4 280.9h1.8v1.8h-1.8zM838.5 314.9h1.8v1.8h-1.8zM777.8 299.6h1.8v1.8h-1.8zM787.6 288.0h1.8v1.8h-1.8zM855.4 285.6h1.8v1.8h-1.8zM858.8 271.3h1.8v1.8h-1.8zM774.4 309.7h1.8v1.8h-1.8z" fill="#b2f396"/><path d="M854.5 278.1h1.8v1.8h-1.8zM780.4 264.7h1.8v1.8h-1.8zM795.2 263.8h1.8v1.8h-1.8zM797.2 269.4h1.8v1.8h-1.8zM842.4 270.6h1.8v1.8h-1.8zM842.1 276.8h1.8v1.8h-1.8zM846.2 271.3h1.8v1.8h-1.8zM783.7 299.9h1.8v1.8h-1.8zM791.8 277.1h1.8v1.8h-1.8zM801.5 317.1h1.8v1.8h-1.8zM805.1 259.0h1.8v1.8h-1.8zM770.1 305.7h1.8v1.8h-1.8zM821.4 259.8h1.8v1.8h-1.8zM857.5 283.3h1.8v1.8h-1.8zM846.1 260.8h1.8v1.8h-1.8zM789.3 252.8h1.8v1.8h-1.8zM796.2 265.9h1.8v1.8h-1.8zM781.6 253.2h1.8v1.8h-1.8zM785.2 317.2h1.8v1.8h-1.8zM859.0 285.9h1.8v1.8h-1.8zM789.6 283.9h1.8v1.8h-1.8zM787.9 314.4h1.8v1.8h-1.8zM860.1 270.9h1.8v1.8h-1.8zM783.2 304.2h1.8v1.8h-1.8zM768.6 287.9h1.8v1.8h-1.8zM791.1 308.0h1.8v1.8h-1.8zM792.5 272.4h1.8v1.8h-1.8zM849.1 274.5h1.8v1.8h-1.8zM859.4 284.0h1.8v1.8h-1.8zM851.4 315.7h1.8v1.8h-1.8z" fill="#e5ce74"/><path d="M781.3 306.5h1.8v1.8h-1.8zM829.4 319.2h1.8v1.8h-1.8zM773.4 276.5h1.8v1.8h-1.8zM783.7 305.2h1.8v1.8h-1.8zM789.6 314.8h1.8v1.8h-1.8zM847.5 258.1h1.8v1.8h-1.8zM776.3 303.4h1.8v1.8h-1.8zM808.1 253.6h1.8v1.8h-1.8zM846.0 319.3h1.8v1.8h-1.8zM857.8 269.2h1.8v1.8h-1.8zM805.1 260.5h1.8v1.8h-1.8zM790.0 280.7h1.8v1.8h-1.8zM803.1 320.5h1.8v1.8h-1.8zM761.0 312.5h1.8v1.8h-1.8zM831.3 264.3h1.8v1.8h-1.8zM786.6 317.2h1.8v1.8h-1.8zM798.5 314.9h1.8v1.8h-1.8zM798.5 254.4h1.8v1.8h-1.8zM783.8 307.8h1.8v1.8h-1.8zM780.5 277.1h1.8v1.8h-1.8zM806.2 251.5h1.8v1.8h-1.8zM792.2 281.7h1.8v1.8h-1.8zM778.4 259.2h1.8v1.8h-1.8zM775.8 285.0h1.8v1.8h-1.8z" fill="#ff964f"/><path d="M801.0 320.8h1.8v1.8h-1.8zM845.8 283.3h1.8v1.8h-1.8zM773.1 301.3h1.8v1.8h-1.8zM790.3 279.7h1.8v1.8h-1.8zM790.8 252.3h1.8v1.8h-1.8zM793.7 318.2h1.8v1.8h-1.8zM785.5 314.3h1.8v1.8h-1.8zM766.3 313.7h1.8v1.8h-1.8zM850.4 272.5h1.8v1.8h-1.8zM816.5 260.1h1.8v1.8h-1.8zM790.3 315.4h1.8v1.8h-1.8zM851.6 279.2h1.8v1.8h-1.8zM784.8 262.5h1.8v1.8h-1.8zM844.5 278.1h1.8v1.8h-1.8zM779.2 269.6h1.8v1.8h-1.8zM843.5 317.6h1.8v1.8h-1.8zM772.9 287.5h1.8v1.8h-1.8zM785.0 310.9h1.8v1.8h-1.8zM797.2 268.5h1.8v1.8h-1.8zM794.2 253.6h1.8v1.8h-1.8zM818.8 317.4h1.8v1.8h-1.8zM848.0 267.1h1.8v1.8h-1.8zM793.8 251.6h1.8v1.8h-1.8zM858.8 288.0h1.8v1.8h-1.8z" fill="#ff4f28"/></g><g><path d="M762.4 309.6h1.9v1.9h-1.9zM794.1 294.4h1.9v1.9h-1.9zM788.5 297.7h1.9v1.9h-1.9zM790.8 310.6h1.9v1.9h-1.9zM766.8 307.2h1.9v1.9h-1.9zM776.5 299.8h1.9v1.9h-1.9zM783.0 299.6h1.9v1.9h-1.9zM768.4 303.4h1.9v1.9h-1.9zM764.9 301.7h1.9v1.9h-1.9zM769.4 305.9h1.9v1.9h-1.9zM795.1 309.9h1.9v1.9h-1.9zM778.3 307.2h1.9v1.9h-1.9zM788.2 309.3h1.9v1.9h-1.9zM763.1 310.5h1.9v1.9h-1.9zM778.3 296.2h1.9v1.9h-1.9zM775.5 302.2h1.9v1.9h-1.9zM783.3 298.8h1.9v1.9h-1.9zM776.9 306.4h1.9v1.9h-1.9zM781.3 293.0h1.9v1.9h-1.9zM767.4 299.7h1.9v1.9h-1.9zM763.8 306.3h1.9v1.9h-1.9z" fill="#4c4ffc"/><path d="M852.6 312.0h1.9v1.9h-1.9zM800.8 271.9h1.9v1.9h-1.9zM808.0 267.8h1.9v1.9h-1.9zM801.6 269.1h1.9v1.9h-1.9zM817.1 265.4h1.9v1.9h-1.9zM854.1 289.3h1.9v1.9h-1.9zM816.2 312.9h1.9v1.9h-1.9zM821.4 312.3h1.9v1.9h-1.9zM817.8 313.4h1.9v1.9h-1.9zM833.1 314.4h1.9v1.9h-1.9zM794.7 296.5h1.9v1.9h-1.9zM819.3 312.5h1.9v1.9h-1.9zM813.0 313.2h1.9v1.9h-1.9zM805.8 312.4h1.9v1.9h-1.9zM794.9 311.7h1.9v1.9h-1.9zM793.4 294.6h1.9v1.9h-1.9zM819.3 265.4h1.9v1.9h-1.9zM798.6 311.9h1.9v1.9h-1.9zM829.6 272.7h1.9v1.9h-1.9zM855.7 293.2h1.9v1.9h-1.9zM822.0 265.0h1.9v1.9h-1.9zM851.8 287.4h1.9v1.9h-1.9zM797.6 275.0h1.9v1.9h-1.9zM849.2 310.8h1.9v1.9h-1.9zM807.3 266.2h1.9v1.9h-1.9zM847.9 287.5h1.9v1.9h-1.9zM821.2 266.9h1.9v1.9h-1.9zM796.0 268.5h1.9v1.9h-1.9zM783.4 262.9h1.9v1.9h-1.9zM781.4 274.7h1.9v1.9h-1.9zM788.9 275.2h1.9v1.9h-1.9zM786.0 276.8h1.9v1.9h-1.9zM780.5 273.8h1.9v1.9h-1.9zM795.2 282.2h1.9v1.9h-1.9zM799.3 263.6h1.9v1.9h-1.9zM782.5 260.5h1.9v1.9h-1.9zM786.9 266.6h1.9v1.9h-1.9zM789.4 253.7h1.9v1.9h-1.9zM797.8 255.4h1.9v1.9h-1.9zM790.3 266.8h1.9v1.9h-1.9zM779.0 310.5h1.9v1.9h-1.9zM792.4 309.4h1.9v1.9h-1.9zM782.8 300.1h1.9v1.9h-1.9zM760.4 306.3h1.9v1.9h-1.9zM786.0 310.9h1.9v1.9h-1.9zM777.9 298.7h1.9v1.9h-1.9zM783.5 299.1h1.9v1.9h-1.9zM778.3 301.1h1.9v1.9h-1.9zM765.6 311.2h1.9v1.9h-1.9zM788.2 304.1h1.9v1.9h-1.9zM780.0 310.2h1.9v1.9h-1.9zM795.4 303.8h1.9v1.9h-1.9zM780.2 297.8h1.9v1.9h-1.9zM766.5 301.6h1.9v1.9h-1.9zM794.8 295.7h1.9v1.9h-1.9zM775.7 310.4h1.9v1.9h-1.9z" fill="#1996f3"/><path d="M805.7 267.4h1.9v1.9h-1.9zM795.1 305.9h1.9v1.9h-1.9zM826.4 269.4h1.9v1.9h-1.9zM792.1 299.6h1.9v1.9h-1.9zM800.0 276.1h1.9v1.9h-1.9zM811.1 265.7h1.9v1.9h-1.9zM847.4 311.4h1.9v1.9h-1.9zM844.0 309.7h1.9v1.9h-1.9zM794.2 301.3h1.9v1.9h-1.9zM837.9 276.6h1.9v1.9h-1.9zM843.2 310.4h1.9v1.9h-1.9zM853.0 290.2h1.9v1.9h-1.9zM793.8 285.3h1.9v1.9h-1.9zM836.1 278.8h1.9v1.9h-1.9zM831.2 314.3h1.9v1.9h-1.9zM816.4 264.9h1.9v1.9h-1.9zM796.7 277.7h1.9v1.9h-1.9zM793.6 299.3h1.9v1.9h-1.9zM798.5 313.2h1.9v1.9h-1.9zM823.5 269.9h1.9v1.9h-1.9zM829.5 312.2h1.9v1.9h-1.9zM855.5 311.7h1.9v1.9h-1.9zM793.7 304.0h1.9v1.9h-1.9zM806.9 265.4h1.9v1.9h-1.9zM795.9 311.6h1.9v1.9h-1.9zM833.9 272.8h1.9v1.9h-1.9zM835.6 275.4h1.9v1.9h-1.9zM791.9 271.6h1.9v1.9h-1.9zM785.0 275.5h1.9v1.9h-1.9zM786.3 279.9h1.9v1.9h-1.9zM802.0 257.0h1.9v1.9h-1.9zM784.8 258.3h1.9v1.9h-1.9zM798.8 274.7h1.9v1.9h-1.9zM779.7 262.5h1.9v1.9h-1.9zM802.6 271.4h1.9v1.9h-1.9zM789.0 258.9h1.9v1.9h-1.9zM788.5 274.9h1.9v1.9h-1.9zM789.6 274.8h1.9v1.9h-1.9zM792.8 276.4h1.9v1.9h-1.9zM804.7 258.3h1.9v1.9h-1.9zM803.4 263.4h1.9v1.9h-1.9zM780.5 270.4h1.9v1.9h-1.9zM783.7 267.7h1.9v1.9h-1.9zM783.3 262.3h1.9v1.9h-1.9zM790.1 277.9h1.9v1.9h-1.9zM802.9 263.8h1.9v1.9h-1.9zM790.2 253.9h1.9v1.9h-1.9zM787.5 299.2h1.9v1.9h-1.9zM784.9 305.5h1.9v1.9h-1.9zM770.7 311.2h1.9v1.9h-1.9zM764.4 300.5h1.9v1.9h-1.9zM785.6 305.4h1.9v1.9h-1.9zM783.2 308.4h1.9v1.9h-1.9zM777.4 309.9h1.9v1.9h-1.9zM775.0 307.6h1.9v1.9h-1.9zM788.3 296.4h1.9v1.9h-1.9zM793.0 305.0h1.9v1.9h-1.9zM786.8 297.0h1.9v1.9h-1.9zM775.3 294.3h1.9v1.9h-1.9zM773.0 305.2h1.9v1.9h-1.9zM766.5 307.1h1.9v1.9h-1.9zM767.3 310.6h1.9v1.9h-1.9zM770.9 301.5h1.9v1.9h-1.9zM771.2 303.1h1.9v1.9h-1.9zM767.8 311.0h1.9v1.9h-1.9zM781.4 304.7h1.9v1.9h-1.9zM795.1 303.3h1.9v1.9h-1.9zM771.2 300.9h1.9v1.9h-1.9z" fill="#19cee3"/><path d="M846.1 313.1h1.9v1.9h-1.9zM834.5 314.3h1.9v1.9h-1.9zM839.7 280.6h1.9v1.9h-1.9zM795.5 286.6h1.9v1.9h-1.9zM844.5 311.9h1.9v1.9h-1.9zM838.9 310.4h1.9v1.9h-1.9zM857.9 311.4h1.9v1.9h-1.9zM802.1 273.6h1.9v1.9h-1.9zM809.4 314.4h1.9v1.9h-1.9zM811.8 314.7h1.9v1.9h-1.9zM856.1 309.2h1.9v1.9h-1.9zM851.2 290.1h1.9v1.9h-1.9zM817.4 313.5h1.9v1.9h-1.9zM794.2 287.1h1.9v1.9h-1.9zM794.2 300.8h1.9v1.9h-1.9zM806.9 267.0h1.9v1.9h-1.9zM803.6 268.7h1.9v1.9h-1.9zM859.8 309.8h1.9v1.9h-1.9zM792.8 301.3h1.9v1.9h-1.9zM826.3 270.3h1.9v1.9h-1.9zM806.0 310.9h1.9v1.9h-1.9zM848.9 285.5h1.9v1.9h-1.9zM804.4 266.5h1.9v1.9h-1.9zM832.2 312.6h1.9v1.9h-1.9zM803.6 312.1h1.9v1.9h-1.9zM815.4 311.7h1.9v1.9h-1.9zM786.5 280.6h1.9v1.9h-1.9zM788.3 262.1h1.9v1.9h-1.9zM793.0 272.0h1.9v1.9h-1.9zM784.4 263.7h1.9v1.9h-1.9zM785.7 256.0h1.9v1.9h-1.9zM785.7 273.5h1.9v1.9h-1.9zM779.1 264.2h1.9v1.9h-1.9zM785.3 267.8h1.9v1.9h-1.9zM800.8 270.2h1.9v1.9h-1.9zM785.5 273.3h1.9v1.9h-1.9zM795.9 259.6h1.9v1.9h-1.9zM782.8 262.0h1.9v1.9h-1.9zM785.3 280.4h1.9v1.9h-1.9zM791.8 263.4h1.9v1.9h-1.9zM802.6 266.6h1.9v1.9h-1.9zM787.6 252.3h1.9v1.9h-1.9zM783.0 256.6h1.9v1.9h-1.9zM788.3 276.4h1.9v1.9h-1.9zM792.1 275.1h1.9v1.9h-1.9zM785.1 306.2h1.9v1.9h-1.9zM778.2 294.3h1.9v1.9h-1.9zM771.0 307.4h1.9v1.9h-1.9zM795.9 294.1h1.9v1.9h-1.9zM762.7 302.7h1.9v1.9h-1.9zM789.5 310.0h1.9v1.9h-1.9zM789.7 309.8h1.9v1.9h-1.9zM764.1 311.1h1.9v1.9h-1.9zM774.7 310.8h1.9v1.9h-1.9zM777.8 302.6h1.9v1.9h-1.9zM795.4 293.7h1.9v1.9h-1.9zM772.1 304.8h1.9v1.9h-1.9zM768.3 302.5h1.9v1.9h-1.9zM766.4 307.5h1.9v1.9h-1.9zM774.6 300.7h1.9v1.9h-1.9zM793.3 304.6h1.9v1.9h-1.9zM781.2 308.6h1.9v1.9h-1.9zM780.5 300.7h1.9v1.9h-1.9zM766.8 310.5h1.9v1.9h-1.9z" fill="#4df3ce"/><path d="M841.0 311.5h1.9v1.9h-1.9zM793.3 306.4h1.9v1.9h-1.9zM853.4 291.5h1.9v1.9h-1.9zM802.4 268.9h1.9v1.9h-1.9zM838.2 277.0h1.9v1.9h-1.9zM794.7 282.8h1.9v1.9h-1.9zM827.6 268.8h1.9v1.9h-1.9zM846.3 311.0h1.9v1.9h-1.9zM823.1 311.9h1.9v1.9h-1.9zM814.1 263.5h1.9v1.9h-1.9zM813.0 266.5h1.9v1.9h-1.9zM816.9 313.0h1.9v1.9h-1.9zM843.7 282.4h1.9v1.9h-1.9zM834.9 275.0h1.9v1.9h-1.9zM797.4 284.1h1.9v1.9h-1.9zM824.5 270.3h1.9v1.9h-1.9zM830.1 314.1h1.9v1.9h-1.9zM839.0 280.0h1.9v1.9h-1.9zM813.0 264.9h1.9v1.9h-1.9zM850.9 311.0h1.9v1.9h-1.9zM825.0 267.0h1.9v1.9h-1.9zM847.1 283.5h1.9v1.9h-1.9zM843.4 312.1h1.9v1.9h-1.9zM798.8 311.3h1.9v1.9h-1.9zM794.5 300.1h1.9v1.9h-1.9zM814.6 265.3h1.9v1.9h-1.9zM798.8 277.5h1.9v1.9h-1.9zM829.3 311.7h1.9v1.9h-1.9zM781.1 263.4h1.9v1.9h-1.9zM796.6 271.5h1.9v1.9h-1.9zM795.7 279.0h1.9v1.9h-1.9zM803.8 255.5h1.9v1.9h-1.9zM786.9 268.4h1.9v1.9h-1.9zM794.3 272.8h1.9v1.9h-1.9zM790.2 256.0h1.9v1.9h-1.9zM786.1 268.2h1.9v1.9h-1.9zM792.2 273.8h1.9v1.9h-1.9zM798.8 256.2h1.9v1.9h-1.9zM801.7 258.4h1.9v1.9h-1.9zM783.6 282.2h1.9v1.9h-1.9zM790.6 256.5h1.9v1.9h-1.9zM798.1 258.9h1.9v1.9h-1.9zM782.3 295.1h1.9v1.9h-1.9zM788.9 307.8h1.9v1.9h-1.9zM775.4 297.3h1.9v1.9h-1.9zM771.6 293.4h1.9v1.9h-1.9zM763.6 306.5h1.9v1.9h-1.9zM787.7 303.5h1.9v1.9h-1.9zM772.0 308.3h1.9v1.9h-1.9zM770.8 305.6h1.9v1.9h-1.9zM775.6 303.6h1.9v1.9h-1.9zM794.9 292.3h1.9v1.9h-1.9zM780.7 307.2h1.9v1.9h-1.9zM770.5 309.7h1.9v1.9h-1.9zM781.3 308.4h1.9v1.9h-1.9zM794.4 300.0h1.9v1.9h-1.9zM791.3 309.5h1.9v1.9h-1.9zM779.8 303.7h1.9v1.9h-1.9zM769.0 303.9h1.9v1.9h-1.9zM766.7 301.1h1.9v1.9h-1.9zM789.6 304.8h1.9v1.9h-1.9zM764.2 311.0h1.9v1.9h-1.9z" fill="#80ffb4"/><path d="M847.8 309.7h1.9v1.9h-1.9zM838.0 313.4h1.9v1.9h-1.9zM816.5 265.1h1.9v1.9h-1.9zM853.9 288.4h1.9v1.9h-1.9zM854.0 289.2h1.9v1.9h-1.9zM824.5 269.8h1.9v1.9h-1.9zM827.7 270.7h1.9v1.9h-1.9zM804.9 312.8h1.9v1.9h-1.9zM816.3 313.4h1.9v1.9h-1.9zM839.2 310.8h1.9v1.9h-1.9zM799.9 272.0h1.9v1.9h-1.9zM843.4 281.4h1.9v1.9h-1.9zM814.7 266.3h1.9v1.9h-1.9zM800.4 272.4h1.9v1.9h-1.9zM793.7 291.9h1.9v1.9h-1.9zM796.0 310.4h1.9v1.9h-1.9zM835.4 278.1h1.9v1.9h-1.9zM849.4 312.3h1.9v1.9h-1.9zM793.7 309.0h1.9v1.9h-1.9z" fill="#b2f396"/><path d="M846.7 285.1h1.9v1.9h-1.9zM799.0 278.4h1.9v1.9h-1.9zM834.6 278.2h1.9v1.9h-1.9zM834.9 310.9h1.9v1.9h-1.9zM838.3 310.3h1.9v1.9h-1.9zM856.7 291.1h1.9v1.9h-1.9zM832.0 311.6h1.9v1.9h-1.9zM794.6 309.9h1.9v1.9h-1.9zM829.9 269.6h1.9v1.9h-1.9zM819.8 313.6h1.9v1.9h-1.9zM846.4 313.2h1.9v1.9h-1.9zM837.4 279.2h1.9v1.9h-1.9zM821.7 265.1h1.9v1.9h-1.9zM851.9 289.9h1.9v1.9h-1.9zM832.9 313.3h1.9v1.9h-1.9zM804.6 268.0h1.9v1.9h-1.9zM848.8 287.1h1.9v1.9h-1.9zM822.6 313.1h1.9v1.9h-1.9zM794.2 287.6h1.9v1.9h-1.9zM844.7 286.0h1.9v1.9h-1.9zM807.4 266.1h1.9v1.9h-1.9zM816.0 266.1h1.9v1.9h-1.9zM846.6 312.2h1.9v1.9h-1.9zM795.1 284.3h1.9v1.9h-1.9zM795.1 305.0h1.9v1.9h-1.9zM817.1 266.3h1.9v1.9h-1.9zM816.3 314.5h1.9v1.9h-1.9zM831.8 272.0h1.9v1.9h-1.9zM791.2 304.6h1.9v1.9h-1.9zM807.1 265.5h1.9v1.9h-1.9zM792.2 300.4h1.9v1.9h-1.9zM830.9 270.8h1.9v1.9h-1.9zM796.0 286.0h1.9v1.9h-1.9zM794.5 298.7h1.9v1.9h-1.9zM811.9 264.9h1.9v1.9h-1.9zM809.2 312.4h1.9v1.9h-1.9zM799.3 312.8h1.9v1.9h-1.9zM801.9 271.0h1.9v1.9h-1.9zM814.1 263.2h1.9v1.9h-1.9zM793.6 287.1h1.9v1.9h-1.9zM809.7 266.1h1.9v1.9h-1.9zM800.2 276.0h1.9v1.9h-1.9zM803.2 269.0h1.9v1.9h-1.9zM800.8 275.9h1.9v1.9h-1.9zM794.4 305.2h1.9v1.9h-1.9zM804.8 311.3h1.9v1.9h-1.9zM796.4 279.7h1.9v1.9h-1.9zM850.2 286.0h1.9v1.9h-1.9zM806.2 312.5h1.9v1.9h-1.9zM806.4 265.5h1.9v1.9h-1.9zM819.2 314.4h1.9v1.9h-1.9zM849.5 312.5h1.9v1.9h-1.9zM811.7 265.4h1.9v1.9h-1.9zM837.5 314.3h1.9v1.9h-1.9zM801.0 275.4h1.9v1.9h-1.9zM814.4 262.8h1.9v1.9h-1.9zM802.9 271.3h1.9v1.9h-1.9zM801.1 311.6h1.9v1.9h-1.9zM834.9 314.1h1.9v1.9h-1.9zM813.0 266.2h1.9v1.9h-1.9zM791.3 257.3h1.9v1.9h-1.9zM794.7 282.3h1.9v1.9h-1.9zM794.6 263.1h1.9v1.9h-1.9zM793.0 258.5h1.9v1.9h-1.9zM798.5 265.1h1.9v1.9h-1.9zM787.6 266.2h1.9v1.9h-1.9zM786.3 257.7h1.9v1.9h-1.9zM803.9 266.7h1.9v1.9h-1.9zM779.2 270.0h1.9v1.9h-1.9zM787.9 279.5h1.9v1.9h-1.9zM800.8 277.3h1.9v1.9h-1.9zM801.1 265.2h1.9v1.9h-1.9zM778.4 263.6h1.9v1.9h-1.9zM802.5 260.7h1.9v1.9h-1.9zM790.2 273.0h1.9v1.9h-1.9zM791.8 254.5h1.9v1.9h-1.9zM793.0 270.5h1.9v1.9h-1.9zM789.7 264.5h1.9v1.9h-1.9zM783.2 255.5h1.9v1.9h-1.9zM801.2 266.3h1.9v1.9h-1.9zM784.7 269.8h1.9v1.9h-1.9zM777.9 267.9h1.9v1.9h-1.9zM794.7 279.0h1.9v1.9h-1.9zM796.0 261.0h1.9v1.9h-1.9zM795.1 258.2h1.9v1.9h-1.9zM786.5 258.5h1.9v1.9h-1.9zM784.0 272.5h1.9v1.9h-1.9zM797.1 280.1h1.9v1.9h-1.9zM795.9 270.5h1.9v1.9h-1.9zM786.6 253.7h1.9v1.9h-1.9zM802.6 264.9h1.9v1.9h-1.9zM804.2 272.3h1.9v1.9h-1.9zM796.8 257.3h1.9v1.9h-1.9zM787.6 278.3h1.9v1.9h-1.9zM794.3 271.7h1.9v1.9h-1.9zM793.7 273.3h1.9v1.9h-1.9zM785.0 266.0h1.9v1.9h-1.9zM796.1 254.4h1.9v1.9h-1.9zM782.9 259.1h1.9v1.9h-1.9zM789.8 254.7h1.9v1.9h-1.9zM786.9 280.4h1.9v1.9h-1.9zM797.2 258.2h1.9v1.9h-1.9zM786.7 265.8h1.9v1.9h-1.9zM785.0 265.9h1.9v1.9h-1.9zM797.5 278.4h1.9v1.9h-1.9zM792.1 264.7h1.9v1.9h-1.9zM791.4 273.3h1.9v1.9h-1.9zM792.5 276.7h1.9v1.9h-1.9zM782.5 272.2h1.9v1.9h-1.9zM789.5 274.2h1.9v1.9h-1.9zM790.8 303.7h1.9v1.9h-1.9zM783.4 297.8h1.9v1.9h-1.9zM792.4 302.5h1.9v1.9h-1.9zM786.2 306.0h1.9v1.9h-1.9zM792.2 306.0h1.9v1.9h-1.9zM779.5 295.7h1.9v1.9h-1.9zM778.5 303.8h1.9v1.9h-1.9zM763.2 302.0h1.9v1.9h-1.9zM763.2 308.4h1.9v1.9h-1.9zM774.4 296.8h1.9v1.9h-1.9zM783.8 306.2h1.9v1.9h-1.9zM774.3 293.0h1.9v1.9h-1.9zM785.9 297.1h1.9v1.9h-1.9zM776.8 302.3h1.9v1.9h-1.9zM787.2 303.5h1.9v1.9h-1.9zM767.7 301.6h1.9v1.9h-1.9zM766.4 299.1h1.9v1.9h-1.9z" fill="#e5ce74"/><path d="M858.4 294.1h1.9v1.9h-1.9zM798.9 279.6h1.9v1.9h-1.9zM794.7 311.0h1.9v1.9h-1.9zM800.0 312.1h1.9v1.9h-1.9zM797.4 311.6h1.9v1.9h-1.9zM797.6 281.0h1.9v1.9h-1.9zM797.9 275.5h1.9v1.9h-1.9zM792.2 289.1h1.9v1.9h-1.9zM795.7 294.8h1.9v1.9h-1.9zM845.8 285.0h1.9v1.9h-1.9zM848.7 310.2h1.9v1.9h-1.9zM811.9 267.2h1.9v1.9h-1.9zM837.7 310.7h1.9v1.9h-1.9zM799.8 312.3h1.9v1.9h-1.9zM835.2 310.6h1.9v1.9h-1.9zM846.4 310.2h1.9v1.9h-1.9zM809.3 313.2h1.9v1.9h-1.9zM826.2 313.8h1.9v1.9h-1.9zM825.9 268.7h1.9v1.9h-1.9zM791.7 302.1h1.9v1.9h-1.9zM796.1 286.4h1.9v1.9h-1.9zM799.1 276.2h1.9v1.9h-1.9zM839.6 310.6h1.9v1.9h-1.9zM838.9 280.0h1.9v1.9h-1.9zM815.3 265.9h1.9v1.9h-1.9zM813.7 266.9h1.9v1.9h-1.9zM836.1 274.9h1.9v1.9h-1.9zM844.7 313.0h1.9v1.9h-1.9zM794.2 306.7h1.9v1.9h-1.9zM819.6 263.3h1.9v1.9h-1.9zM799.8 311.5h1.9v1.9h-1.9zM841.2 282.3h1.9v1.9h-1.9zM800.8 313.8h1.9v1.9h-1.9zM797.4 280.2h1.9v1.9h-1.9zM857.5 290.5h1.9v1.9h-1.9zM797.0 279.5h1.9v1.9h-1.9zM804.9 313.5h1.9v1.9h-1.9zM819.3 263.8h1.9v1.9h-1.9zM798.1 276.3h1.9v1.9h-1.9zM814.7 313.4h1.9v1.9h-1.9zM857.7 291.6h1.9v1.9h-1.9zM801.7 271.9h1.9v1.9h-1.9zM824.9 266.4h1.9v1.9h-1.9zM857.0 293.4h1.9v1.9h-1.9zM796.1 313.6h1.9v1.9h-1.9zM803.7 268.9h1.9v1.9h-1.9zM809.6 313.0h1.9v1.9h-1.9zM794.4 309.4h1.9v1.9h-1.9zM783.0 310.8h1.9v1.9h-1.9zM787.1 307.1h1.9v1.9h-1.9zM783.8 301.0h1.9v1.9h-1.9zM788.0 299.9h1.9v1.9h-1.9zM763.2 301.8h1.9v1.9h-1.9zM791.6 293.1h1.9v1.9h-1.9zM782.1 293.7h1.9v1.9h-1.9zM773.5 293.6h1.9v1.9h-1.9zM772.1 296.6h1.9v1.9h-1.9zM786.8 303.4h1.9v1.9h-1.9zM782.2 291.2h1.9v1.9h-1.9zM792.1 307.7h1.9v1.9h-1.9zM768.0 307.0h1.9v1.9h-1.9zM791.1 294.1h1.9v1.9h-1.9zM765.3 308.9h1.9v1.9h-1.9zM766.2 307.0h1.9v1.9h-1.9zM779.9 308.8h1.9v1.9h-1.9zM769.0 295.7h1.9v1.9h-1.9zM773.0 296.1h1.9v1.9h-1.9zM791.6 299.4h1.9v1.9h-1.9zM791.8 297.3h1.9v1.9h-1.9zM793.2 295.5h1.9v1.9h-1.9zM795.9 292.7h1.9v1.9h-1.9zM795.6 301.2h1.9v1.9h-1.9zM784.0 308.7h1.9v1.9h-1.9zM783.2 304.8h1.9v1.9h-1.9zM769.0 297.8h1.9v1.9h-1.9zM785.1 295.7h1.9v1.9h-1.9zM784.4 294.1h1.9v1.9h-1.9zM780.0 304.2h1.9v1.9h-1.9zM787.5 304.3h1.9v1.9h-1.9zM784.5 298.6h1.9v1.9h-1.9zM769.3 308.7h1.9v1.9h-1.9zM775.8 297.1h1.9v1.9h-1.9z" fill="#ff964f"/><path d="M794.1 300.6h1.9v1.9h-1.9zM803.9 268.2h1.9v1.9h-1.9zM856.2 309.1h1.9v1.9h-1.9zM844.8 310.3h1.9v1.9h-1.9zM801.5 271.2h1.9v1.9h-1.9zM814.4 311.9h1.9v1.9h-1.9zM831.0 313.0h1.9v1.9h-1.9zM826.5 312.3h1.9v1.9h-1.9zM829.7 270.8h1.9v1.9h-1.9zM795.4 282.3h1.9v1.9h-1.9zM822.4 266.1h1.9v1.9h-1.9zM796.1 283.9h1.9v1.9h-1.9zM835.0 276.6h1.9v1.9h-1.9zM856.3 292.3h1.9v1.9h-1.9zM841.6 313.0h1.9v1.9h-1.9zM793.4 307.3h1.9v1.9h-1.9zM796.1 307.0h1.9v1.9h-1.9zM799.1 280.1h1.9v1.9h-1.9zM823.6 267.3h1.9v1.9h-1.9zM850.2 309.3h1.9v1.9h-1.9zM836.3 276.1h1.9v1.9h-1.9zM792.6 293.0h1.9v1.9h-1.9zM795.8 286.6h1.9v1.9h-1.9zM800.9 275.2h1.9v1.9h-1.9zM826.4 312.5h1.9v1.9h-1.9zM819.8 267.1h1.9v1.9h-1.9zM852.5 311.1h1.9v1.9h-1.9zM794.8 296.8h1.9v1.9h-1.9zM850.2 290.2h1.9v1.9h-1.9zM797.3 276.1h1.9v1.9h-1.9zM821.1 265.4h1.9v1.9h-1.9zM846.8 284.9h1.9v1.9h-1.9zM827.3 267.7h1.9v1.9h-1.9zM832.6 314.7h1.9v1.9h-1.9zM858.8 294.3h1.9v1.9h-1.9zM837.5 279.0h1.9v1.9h-1.9zM807.2 312.5h1.9v1.9h-1.9zM792.1 301.3h1.9v1.9h-1.9zM838.9 313.4h1.9v1.9h-1.9zM799.3 277.3h1.9v1.9h-1.9zM847.6 286.3h1.9v1.9h-1.9zM830.3 311.4h1.9v1.9h-1.9zM827.4 268.1h1.9v1.9h-1.9zM849.9 286.1h1.9v1.9h-1.9zM814.7 312.6h1.9v1.9h-1.9zM826.2 314.2h1.9v1.9h-1.9zM792.3 301.2h1.9v1.9h-1.9zM793.0 301.1h1.9v1.9h-1.9zM805.7 269.8h1.9v1.9h-1.9zM812.6 315.0h1.9v1.9h-1.9zM796.0 284.4h1.9v1.9h-1.9zM793.6 294.8h1.9v1.9h-1.9zM853.3 308.5h1.9v1.9h-1.9zM819.7 313.5h1.9v1.9h-1.9zM801.5 270.5h1.9v1.9h-1.9zM858.7 292.8h1.9v1.9h-1.9zM810.1 312.7h1.9v1.9h-1.9zM797.9 275.2h1.9v1.9h-1.9zM802.7 269.4h1.9v1.9h-1.9zM798.2 314.2h1.9v1.9h-1.9zM815.1 266.0h1.9v1.9h-1.9zM857.5 291.5h1.9v1.9h-1.9zM803.6 267.4h1.9v1.9h-1.9zM848.6 311.8h1.9v1.9h-1.9zM855.2 308.8h1.9v1.9h-1.9zM839.5 281.2h1.9v1.9h-1.9zM816.6 262.9h1.9v1.9h-1.9zM817.4 312.7h1.9v1.9h-1.9zM845.5 286.1h1.9v1.9h-1.9zM853.3 308.9h1.9v1.9h-1.9zM857.0 308.4h1.9v1.9h-1.9zM815.6 312.7h1.9v1.9h-1.9zM810.4 264.3h1.9v1.9h-1.9zM830.8 275.1h1.9v1.9h-1.9zM831.0 312.9h1.9v1.9h-1.9zM810.1 264.6h1.9v1.9h-1.9zM856.4 291.7h1.9v1.9h-1.9zM810.5 266.9h1.9v1.9h-1.9zM817.3 314.8h1.9v1.9h-1.9zM823.6 313.3h1.9v1.9h-1.9zM846.5 285.9h1.9v1.9h-1.9zM801.0 271.7h1.9v1.9h-1.9zM834.5 313.6h1.9v1.9h-1.9zM824.9 269.7h1.9v1.9h-1.9zM835.2 273.9h1.9v1.9h-1.9zM780.3 265.3h1.9v1.9h-1.9zM785.4 271.3h1.9v1.9h-1.9zM796.8 258.9h1.9v1.9h-1.9zM792.2 257.7h1.9v1.9h-1.9zM786.8 256.3h1.9v1.9h-1.9zM785.9 259.9h1.9v1.9h-1.9zM785.4 275.9h1.9v1.9h-1.9zM779.4 267.3h1.9v1.9h-1.9zM801.4 272.0h1.9v1.9h-1.9zM793.5 266.7h1.9v1.9h-1.9zM802.8 263.4h1.9v1.9h-1.9zM788.4 278.6h1.9v1.9h-1.9zM783.0 258.5h1.9v1.9h-1.9zM792.2 264.2h1.9v1.9h-1.9zM768.1 307.8h1.9v1.9h-1.9zM774.9 311.2h1.9v1.9h-1.9zM792.7 293.2h1.9v1.9h-1.9zM794.0 295.1h1.9v1.9h-1.9zM779.3 294.4h1.9v1.9h-1.9zM780.1 301.4h1.9v1.9h-1.9zM788.8 308.9h1.9v1.9h-1.9zM780.4 303.3h1.9v1.9h-1.9zM760.1 303.6h1.9v1.9h-1.9zM791.7 301.5h1.9v1.9h-1.9zM782.0 305.3h1.9v1.9h-1.9zM778.2 306.5h1.9v1.9h-1.9zM789.3 297.4h1.9v1.9h-1.9zM767.3 308.5h1.9v1.9h-1.9zM777.0 298.1h1.9v1.9h-1.9zM795.3 303.2h1.9v1.9h-1.9zM793.5 299.6h1.9v1.9h-1.9zM781.6 311.0h1.9v1.9h-1.9zM788.8 303.4h1.9v1.9h-1.9zM774.3 296.3h1.9v1.9h-1.9zM766.7 299.5h1.9v1.9h-1.9zM779.6 307.7h1.9v1.9h-1.9zM762.4 309.8h1.9v1.9h-1.9zM779.9 295.4h1.9v1.9h-1.9zM773.2 300.4h1.9v1.9h-1.9zM774.6 300.9h1.9v1.9h-1.9zM783.8 295.3h1.9v1.9h-1.9zM774.0 299.3h1.9v1.9h-1.9zM777.1 298.9h1.9v1.9h-1.9zM785.1 303.0h1.9v1.9h-1.9zM789.0 305.1h1.9v1.9h-1.9zM792.8 297.7h1.9v1.9h-1.9z" fill="#ff4f28"/></g><path d="M800.0 309.8 L818.0 311.2 L839.9 309.7 L861.5 307.0 L861.5 298.0 L854.1 295.1 L853.9 295.0 L853.7 294.9 L839.1 284.6 L839.0 284.5 L827.3 274.3 L817.7 268.9 L808.9 270.4 L802.3 279.7 L798.5 290.3 L797.5 304.7 L800.0 309.8z" fill="#ff4f28"/><g><path d="M820.6 343.4h1.9v1.9h-1.9z" fill="#4c4ffc"/><path d="M799.4 305.4h1.9v1.9h-1.9zM802.5 297.8h1.9v1.9h-1.9zM801.4 292.8h1.9v1.9h-1.9zM808.4 270.5h1.9v1.9h-1.9zM803.7 287.5h1.9v1.9h-1.9zM807.5 277.6h1.9v1.9h-1.9zM804.1 292.2h1.9v1.9h-1.9zM853.6 423.1h1.9v1.9h-1.9zM833.0 440.7h1.9v1.9h-1.9z" fill="#4df3ce"/><path d="M851.7 296.0h1.9v1.9h-1.9zM849.6 296.5h1.9v1.9h-1.9zM845.3 304.2h1.9v1.9h-1.9zM858.9 304.7h1.9v1.9h-1.9zM849.7 306.5h1.9v1.9h-1.9zM860.0 303.8h1.9v1.9h-1.9zM852.4 303.4h1.9v1.9h-1.9zM844.7 305.7h1.9v1.9h-1.9zM845.3 307.3h1.9v1.9h-1.9zM857.8 300.3h1.9v1.9h-1.9z" fill="#80ffb4"/><path d="M804.5 279.4h1.9v1.9h-1.9zM810.6 274.0h1.9v1.9h-1.9zM803.7 290.8h1.9v1.9h-1.9zM802.8 281.9h1.9v1.9h-1.9zM801.9 301.3h1.9v1.9h-1.9zM806.3 290.4h1.9v1.9h-1.9zM807.4 301.7h1.9v1.9h-1.9zM805.8 293.8h1.9v1.9h-1.9zM848.0 322.7h1.9v1.9h-1.9z" fill="#b2f396"/><path d="M822.3 270.0h1.9v1.9h-1.9zM822.8 269.2h1.9v1.9h-1.9zM815.7 267.1h1.9v1.9h-1.9zM853.0 294.4h1.9v1.9h-1.9zM812.1 267.4h1.9v1.9h-1.9zM801.0 310.0h1.9v1.9h-1.9zM860.5 302.7h1.9v1.9h-1.9zM799.1 281.7h1.9v1.9h-1.9zM794.6 302.9h1.9v1.9h-1.9zM830.7 310.6h1.9v1.9h-1.9zM795.1 289.9h1.9v1.9h-1.9zM821.1 270.0h1.9v1.9h-1.9zM796.6 303.8h1.9v1.9h-1.9zM836.5 310.6h1.9v1.9h-1.9zM817.1 310.0h1.9v1.9h-1.9zM832.1 309.3h1.9v1.9h-1.9zM820.1 267.4h1.9v1.9h-1.9zM853.2 293.1h1.9v1.9h-1.9zM803.4 275.8h1.9v1.9h-1.9zM856.2 308.9h1.9v1.9h-1.9zM835.4 279.6h1.9v1.9h-1.9zM795.9 307.3h1.9v1.9h-1.9zM798.0 311.1h1.9v1.9h-1.9zM860.2 307.8h1.9v1.9h-1.9zM842.1 310.5h1.9v1.9h-1.9zM820.6 270.3h1.9v1.9h-1.9zM794.8 297.7h1.9v1.9h-1.9zM833.6 311.4h1.9v1.9h-1.9zM808.1 267.8h1.9v1.9h-1.9zM833.6 277.1h1.9v1.9h-1.9zM795.8 297.6h1.9v1.9h-1.9zM795.9 298.9h1.9v1.9h-1.9zM855.7 294.9h1.9v1.9h-1.9zM828.1 274.8h1.9v1.9h-1.9zM833.3 278.1h1.9v1.9h-1.9zM842.7 308.9h1.9v1.9h-1.9zM855.0 307.3h1.9v1.9h-1.9zM803.3 275.7h1.9v1.9h-1.9zM840.2 285.2h1.9v1.9h-1.9zM836.2 308.9h1.9v1.9h-1.9zM832.8 275.8h1.9v1.9h-1.9zM842.6 285.5h1.9v1.9h-1.9zM807.1 267.8h1.9v1.9h-1.9zM818.2 268.3h1.9v1.9h-1.9zM850.8 307.5h1.9v1.9h-1.9zM829.9 310.9h1.9v1.9h-1.9zM853.8 309.1h1.9v1.9h-1.9zM859.5 306.6h1.9v1.9h-1.9zM816.0 310.7h1.9v1.9h-1.9zM796.7 293.7h1.9v1.9h-1.9zM835.5 281.3h1.9v1.9h-1.9zM799.8 283.8h1.9v1.9h-1.9zM813.1 311.0h1.9v1.9h-1.9zM794.7 302.3h1.9v1.9h-1.9zM854.1 308.5h1.9v1.9h-1.9zM798.4 289.7h1.9v1.9h-1.9zM802.0 304.3h1.9v1.9h-1.9zM808.9 287.5h1.9v1.9h-1.9zM807.5 282.9h1.9v1.9h-1.9zM810.5 295.8h1.9v1.9h-1.9zM807.0 299.4h1.9v1.9h-1.9zM808.8 285.8h1.9v1.9h-1.9zM802.1 300.9h1.9v1.9h-1.9zM800.9 291.3h1.9v1.9h-1.9zM809.5 296.3h1.9v1.9h-1.9zM803.4 285.4h1.9v1.9h-1.9zM845.3 303.8h1.9v1.9h-1.9zM848.7 298.2h1.9v1.9h-1.9zM857.3 302.1h1.9v1.9h-1.9zM849.4 306.2h1.9v1.9h-1.9zM846.3 303.3h1.9v1.9h-1.9zM844.5 293.4h1.9v1.9h-1.9zM845.5 292.4h1.9v1.9h-1.9z" fill="#e5ce74"/><path d="M812.0 268.2h1.9v1.9h-1.9zM816.0 310.7h1.9v1.9h-1.9zM834.5 279.8h1.9v1.9h-1.9zM843.4 287.5h1.9v1.9h-1.9zM848.2 290.8h1.9v1.9h-1.9zM817.7 266.9h1.9v1.9h-1.9zM857.5 307.5h1.9v1.9h-1.9zM797.0 299.0h1.9v1.9h-1.9zM817.9 310.8h1.9v1.9h-1.9zM816.9 268.0h1.9v1.9h-1.9zM816.2 265.7h1.9v1.9h-1.9zM845.4 307.6h1.9v1.9h-1.9zM801.9 311.2h1.9v1.9h-1.9zM796.5 309.0h1.9v1.9h-1.9zM840.6 284.7h1.9v1.9h-1.9zM796.6 300.2h1.9v1.9h-1.9zM847.7 287.4h1.9v1.9h-1.9zM858.0 296.2h1.9v1.9h-1.9zM810.8 267.9h1.9v1.9h-1.9zM801.6 278.3h1.9v1.9h-1.9zM852.0 291.8h1.9v1.9h-1.9zM798.8 280.1h1.9v1.9h-1.9zM820.0 310.1h1.9v1.9h-1.9zM842.1 309.1h1.9v1.9h-1.9zM834.7 277.8h1.9v1.9h-1.9zM824.2 309.9h1.9v1.9h-1.9zM801.6 308.7h1.9v1.9h-1.9zM846.7 287.8h1.9v1.9h-1.9zM839.5 308.6h1.9v1.9h-1.9zM811.8 311.7h1.9v1.9h-1.9zM834.8 311.5h1.9v1.9h-1.9zM815.8 311.7h1.9v1.9h-1.9zM846.6 309.2h1.9v1.9h-1.9zM836.3 310.5h1.9v1.9h-1.9zM796.3 308.5h1.9v1.9h-1.9zM798.5 307.2h1.9v1.9h-1.9zM831.0 275.9h1.9v1.9h-1.9zM813.8 267.6h1.9v1.9h-1.9zM819.9 312.3h1.9v1.9h-1.9zM842.7 284.4h1.9v1.9h-1.9zM819.7 311.1h1.9v1.9h-1.9zM855.1 306.5h1.9v1.9h-1.9zM812.1 267.2h1.9v1.9h-1.9zM842.7 284.7h1.9v1.9h-1.9zM820.4 268.8h1.9v1.9h-1.9zM832.3 310.7h1.9v1.9h-1.9zM808.3 311.6h1.9v1.9h-1.9zM820.0 311.4h1.9v1.9h-1.9zM826.3 311.4h1.9v1.9h-1.9zM829.5 274.6h1.9v1.9h-1.9zM798.3 299.1h1.9v1.9h-1.9zM806.3 299.9h1.9v1.9h-1.9zM803.1 287.9h1.9v1.9h-1.9zM800.0 284.6h1.9v1.9h-1.9zM845.8 294.8h1.9v1.9h-1.9zM855.8 305.7h1.9v1.9h-1.9zM851.3 302.9h1.9v1.9h-1.9zM851.4 295.9h1.9v1.9h-1.9zM847.1 298.2h1.9v1.9h-1.9zM857.1 299.4h1.9v1.9h-1.9zM855.2 301.5h1.9v1.9h-1.9zM845.4 293.1h1.9v1.9h-1.9z" fill="#ff964f"/><path d="M837.3 309.2h1.9v1.9h-1.9zM805.5 309.7h1.9v1.9h-1.9zM796.8 292.6h1.9v1.9h-1.9zM845.4 286.6h1.9v1.9h-1.9zM804.3 274.3h1.9v1.9h-1.9zM802.5 276.5h1.9v1.9h-1.9zM826.5 272.4h1.9v1.9h-1.9zM797.4 306.6h1.9v1.9h-1.9zM849.1 309.4h1.9v1.9h-1.9zM825.8 270.6h1.9v1.9h-1.9zM802.1 310.8h1.9v1.9h-1.9zM847.5 309.4h1.9v1.9h-1.9zM805.1 270.2h1.9v1.9h-1.9zM796.6 307.7h1.9v1.9h-1.9zM798.8 311.1h1.9v1.9h-1.9zM854.3 308.4h1.9v1.9h-1.9zM829.6 273.7h1.9v1.9h-1.9zM802.5 273.1h1.9v1.9h-1.9zM813.6 311.5h1.9v1.9h-1.9zM804.2 309.5h1.9v1.9h-1.9zM831.0 277.4h1.9v1.9h-1.9zM829.1 272.5h1.9v1.9h-1.9zM836.9 308.6h1.9v1.9h-1.9zM860.3 308.5h1.9v1.9h-1.9zM800.7 309.8h1.9v1.9h-1.9zM824.2 270.0h1.9v1.9h-1.9zM844.0 285.2h1.9v1.9h-1.9zM860.5 299.5h1.9v1.9h-1.9zM818.4 311.4h1.9v1.9h-1.9zM836.0 310.3h1.9v1.9h-1.9zM797.8 283.0h1.9v1.9h-1.9zM855.2 293.6h1.9v1.9h-1.9zM806.9 310.1h1.9v1.9h-1.9zM844.8 286.9h1.9v1.9h-1.9zM807.0 269.4h1.9v1.9h-1.9zM846.7 290.0h1.9v1.9h-1.9zM805.1 311.5h1.9v1.9h-1.9zM795.2 304.1h1.9v1.9h-1.9zM801.2 275.1h1.9v1.9h-1.9zM798.5 280.1h1.9v1.9h-1.9zM852.7 308.0h1.9v1.9h-1.9zM800.1 276.2h1.9v1.9h-1.9zM802.6 273.1h1.9v1.9h-1.9zM858.8 308.0h1.9v1.9h-1.9zM798.4 309.6h1.9v1.9h-1.9zM797.3 290.2h1.9v1.9h-1.9zM801.4 309.8h1.9v1.9h-1.9zM795.8 292.4h1.9v1.9h-1.9zM830.6 274.1h1.9v1.9h-1.9zM816.9 267.4h1.9v1.9h-1.9zM794.7 301.8h1.9v1.9h-1.9zM842.7 310.0h1.9v1.9h-1.9zM800.6 308.8h1.9v1.9h-1.9zM828.9 309.9h1.9v1.9h-1.9zM822.2 311.2h1.9v1.9h-1.9zM838.8 282.9h1.9v1.9h-1.9zM849.3 308.0h1.9v1.9h-1.9zM821.1 268.8h1.9v1.9h-1.9zM809.0 310.8h1.9v1.9h-1.9zM798.6 284.3h1.9v1.9h-1.9zM850.1 292.4h1.9v1.9h-1.9zM802.4 309.7h1.9v1.9h-1.9zM827.7 311.5h1.9v1.9h-1.9zM857.3 306.8h1.9v1.9h-1.9zM823.9 270.7h1.9v1.9h-1.9zM811.1 266.7h1.9v1.9h-1.9zM799.5 283.7h1.9v1.9h-1.9zM841.0 310.5h1.9v1.9h-1.9zM796.9 305.3h1.9v1.9h-1.9zM838.2 311.2h1.9v1.9h-1.9zM797.4 305.6h1.9v1.9h-1.9zM816.2 311.6h1.9v1.9h-1.9zM795.3 294.9h1.9v1.9h-1.9zM796.5 289.1h1.9v1.9h-1.9zM850.2 289.2h1.9v1.9h-1.9zM824.7 311.4h1.9v1.9h-1.9zM849.1 290.1h1.9v1.9h-1.9zM842.2 308.7h1.9v1.9h-1.9zM797.1 289.9h1.9v1.9h-1.9zM841.8 283.5h1.9v1.9h-1.9zM824.4 310.3h1.9v1.9h-1.9zM806.8 311.0h1.9v1.9h-1.9zM815.8 265.8h1.9v1.9h-1.9zM860.1 306.8h1.9v1.9h-1.9zM819.9 269.4h1.9v1.9h-1.9zM843.7 287.0h1.9v1.9h-1.9zM796.0 303.3h1.9v1.9h-1.9zM813.5 268.1h1.9v1.9h-1.9zM794.8 293.3h1.9v1.9h-1.9zM818.0 312.5h1.9v1.9h-1.9zM809.4 268.8h1.9v1.9h-1.9zM797.4 286.0h1.9v1.9h-1.9zM835.4 311.1h1.9v1.9h-1.9zM843.3 308.9h1.9v1.9h-1.9zM796.1 298.9h1.9v1.9h-1.9zM821.1 269.4h1.9v1.9h-1.9zM821.0 269.3h1.9v1.9h-1.9zM839.0 309.6h1.9v1.9h-1.9zM838.3 283.7h1.9v1.9h-1.9zM847.6 309.7h1.9v1.9h-1.9zM835.3 310.1h1.9v1.9h-1.9zM817.6 310.0h1.9v1.9h-1.9zM850.1 307.4h1.9v1.9h-1.9zM837.3 308.9h1.9v1.9h-1.9zM798.1 306.4h1.9v1.9h-1.9zM817.4 312.6h1.9v1.9h-1.9zM798.3 284.4h1.9v1.9h-1.9zM853.4 307.6h1.9v1.9h-1.9zM797.0 310.1h1.9v1.9h-1.9zM795.0 297.7h1.9v1.9h-1.9zM844.8 308.8h1.9v1.9h-1.9zM843.2 284.5h1.9v1.9h-1.9zM808.0 310.9h1.9v1.9h-1.9zM844.3 285.5h1.9v1.9h-1.9zM848.3 289.5h1.9v1.9h-1.9zM855.6 294.4h1.9v1.9h-1.9zM796.1 295.3h1.9v1.9h-1.9zM851.8 290.8h1.9v1.9h-1.9zM829.8 311.2h1.9v1.9h-1.9zM820.3 268.2h1.9v1.9h-1.9zM855.7 306.7h1.9v1.9h-1.9zM834.2 279.1h1.9v1.9h-1.9zM847.5 308.1h1.9v1.9h-1.9zM831.6 277.0h1.9v1.9h-1.9zM803.3 275.1h1.9v1.9h-1.9zM796.9 310.0h1.9v1.9h-1.9zM817.9 266.9h1.9v1.9h-1.9zM797.8 282.6h1.9v1.9h-1.9zM859.9 296.7h1.9v1.9h-1.9zM842.3 310.4h1.9v1.9h-1.9zM794.7 300.1h1.9v1.9h-1.9zM809.2 268.2h1.9v1.9h-1.9zM842.4 284.1h1.9v1.9h-1.9zM829.2 311.6h1.9v1.9h-1.9zM835.2 310.4h1.9v1.9h-1.9zM847.7 308.9h1.9v1.9h-1.9zM836.1 309.5h1.9v1.9h-1.9zM840.7 283.4h1.9v1.9h-1.9zM819.0 311.0h1.9v1.9h-1.9zM831.2 276.3h1.9v1.9h-1.9zM805.2 270.2h1.9v1.9h-1.9zM819.0 310.9h1.9v1.9h-1.9zM817.5 310.1h1.9v1.9h-1.9zM813.6 268.1h1.9v1.9h-1.9zM847.3 308.1h1.9v1.9h-1.9zM855.8 307.9h1.9v1.9h-1.9zM801.8 308.9h1.9v1.9h-1.9zM808.0 267.3h1.9v1.9h-1.9zM844.7 287.6h1.9v1.9h-1.9zM799.1 311.3h1.9v1.9h-1.9zM807.2 309.7h1.9v1.9h-1.9zM831.9 275.6h1.9v1.9h-1.9zM797.2 309.1h1.9v1.9h-1.9zM859.4 294.2h1.9v1.9h-1.9zM830.4 277.1h1.9v1.9h-1.9z" fill="#ff4f28"/></g>
<path d="M242,157V54H862V653H752.5" fill="none" stroke="#000" stroke-width="2"/>
<path d="M241.6,157V653.5H752.5" fill="none" stroke="#000" stroke-width="1.1"/>
<path d="M242,157.5H862 M752.5,54V653" stroke="#000" stroke-width="3"/>
<text x="298.9" y="46.0" font-size="23.36" textLength="503.2" lengthAdjust="spacingAndGlyphs" fill="#000" stroke="#000" stroke-width="0.15">SAETTA Lightning Mapping Array - 16/11/05</text>
<text x="219.0" y="52.2" font-size="10.20" textLength="12.7" lengthAdjust="spacingAndGlyphs" fill="#000" stroke="#000" stroke-width="0.12">15</text>
<text x="219.0" y="87.2" font-size="10.20" textLength="12.7" lengthAdjust="spacingAndGlyphs" fill="#000" stroke="#000" stroke-width="0.12">10</text>
<text x="219.0" y="121.9" font-size="10.20" textLength="6.4" lengthAdjust="spacingAndGlyphs" fill="#000" stroke="#000" stroke-width="0.12">5</text>
<text x="219.0" y="157.2" font-size="10.20" textLength="6.4" lengthAdjust="spacingAndGlyphs" fill="#000" stroke="#000" stroke-width="0.12">0</text>
<text x="186.2" y="104.9" font-size="11.12" textLength="17.8" lengthAdjust="spacingAndGlyphs" fill="#000" stroke="#000" stroke-width="0.12">Km</text>
<text x="209.0" y="654.4" font-size="10.20" textLength="25.2" lengthAdjust="spacingAndGlyphs" fill="#000" stroke="#000" stroke-width="0.12">40°N</text>
<text x="199.5" y="606.7" font-size="10.20" textLength="34.7" lengthAdjust="spacingAndGlyphs" fill="#000" stroke="#000" stroke-width="0.12">40.5°N</text>
<text x="209.0" y="558.6" font-size="10.20" textLength="25.2" lengthAdjust="spacingAndGlyphs" fill="#000" stroke="#000" stroke-width="0.12">41°N</text>
<text x="199.5" y="510.1" font-size="10.20" textLength="34.7" lengthAdjust="spacingAndGlyphs" fill="#000" stroke="#000" stroke-width="0.12">41.5°N</text>
<text x="209.0" y="461.3" font-size="10.20" textLength="25.2" lengthAdjust="spacingAndGlyphs" fill="#000" stroke="#000" stroke-width="0.12">42°N</text>
<text x="199.5" y="412.1" font-size="10.20" textLength="34.7" lengthAdjust="spacingAndGlyphs" fill="#000" stroke="#000" stroke-width="0.12">42.5°N</text>
<text x="209.0" y="362.5" font-size="10.20" textLength="25.2" lengthAdjust="spacingAndGlyphs" fill="#000" stroke="#000" stroke-width="0.12">43°N</text>
<text x="199.5" y="312.5" font-size="10.20" textLength="34.7" lengthAdjust="spacingAndGlyphs" fill="#000" stroke="#000" stroke-width="0.12">43.5°N</text>
<text x="209.0" y="262.1" font-size="10.20" textLength="25.2" lengthAdjust="spacingAndGlyphs" fill="#000" stroke="#000" stroke-width="0.12">44°N</text>
<text x="199.5" y="211.2" font-size="10.20" textLength="34.7" lengthAdjust="spacingAndGlyphs" fill="#000" stroke="#000" stroke-width="0.12">44.5°N</text>
<text x="233.0" y="667.0" font-size="10.20" textLength="17.7" lengthAdjust="spacingAndGlyphs" fill="#000" stroke="#000" stroke-width="0.12">5°E</text>
<text x="264.6" y="667.0" font-size="10.20" textLength="27.2" lengthAdjust="spacingAndGlyphs" fill="#000" stroke="#000" stroke-width="0.12">5.5°E</text>
<text x="305.8" y="667.0" font-size="10.20" textLength="17.7" lengthAdjust="spacingAndGlyphs" fill="#000" stroke="#000" stroke-width="0.12">6°E</text>
<text x="337.5" y="667.0" font-size="10.20" textLength="27.2" lengthAdjust="spacingAndGlyphs" fill="#000" stroke="#000" stroke-width="0.12">6.5°E</text>
<text x="378.7" y="667.0" font-size="10.20" textLength="17.7" lengthAdjust="spacingAndGlyphs" fill="#000" stroke="#000" stroke-width="0.12">7°E</text>
<text x="410.3" y="667.0" font-size="10.20" textLength="27.2" lengthAdjust="spacingAndGlyphs" fill="#000" stroke="#000" stroke-width="0.12">7.5°E</text>
<text x="451.5" y="667.0" font-size="10.20" textLength="17.7" lengthAdjust="spacingAndGlyphs" fill="#000" stroke="#000" stroke-width="0.12">8°E</text>
<text x="483.2" y="667.0" font-size="10.20" textLength="27.2" lengthAdjust="spacingAndGlyphs" fill="#000" stroke="#000" stroke-width="0.12">8.5°E</text>
<text x="524.4" y="667.0" font-size="10.20" textLength="17.7" lengthAdjust="spacingAndGlyphs" fill="#000" stroke="#000" stroke-width="0.12">9°E</text>
<text x="556.1" y="667.0" font-size="10.20" textLength="27.2" lengthAdjust="spacingAndGlyphs" fill="#000" stroke="#000" stroke-width="0.12">9.5°E</text>
<text x="594.1" y="667.0" font-size="10.20" textLength="24.0" lengthAdjust="spacingAndGlyphs" fill="#000" stroke="#000" stroke-width="0.12">10°E</text>
<text x="625.7" y="667.0" font-size="10.20" textLength="33.6" lengthAdjust="spacingAndGlyphs" fill="#000" stroke="#000" stroke-width="0.12">10.5°E</text>
<text x="666.9" y="667.0" font-size="10.20" textLength="24.0" lengthAdjust="spacingAndGlyphs" fill="#000" stroke="#000" stroke-width="0.12">11°E</text>
<text x="698.6" y="667.0" font-size="10.20" textLength="33.6" lengthAdjust="spacingAndGlyphs" fill="#000" stroke="#000" stroke-width="0.12">11.5°E</text>
<text x="752.6" y="666.7" font-size="10.20" textLength="6.4" lengthAdjust="spacingAndGlyphs" fill="#000" stroke="#000" stroke-width="0.12">0</text>
<text x="788.8" y="666.7" font-size="10.20" textLength="6.4" lengthAdjust="spacingAndGlyphs" fill="#000" stroke="#000" stroke-width="0.12">5</text>
<text x="824.8" y="666.7" font-size="10.20" textLength="12.7" lengthAdjust="spacingAndGlyphs" fill="#000" stroke="#000" stroke-width="0.12">10</text>
<text x="861.8" y="666.7" font-size="10.20" textLength="12.7" lengthAdjust="spacingAndGlyphs" fill="#000" stroke="#000" stroke-width="0.12">15</text>
<text x="807.6" y="675.7" font-size="11.12" textLength="17.8" lengthAdjust="spacingAndGlyphs" fill="#000" stroke="#000" stroke-width="0.12">Km</text>
<text x="769.6" y="83.6" font-size="10.40" textLength="6.5" lengthAdjust="spacingAndGlyphs" fill="#000" stroke="#000" stroke-width="0.12">6</text>
<text x="783.8" y="83.6" font-size="10.40" textLength="3.4" lengthAdjust="spacingAndGlyphs" fill="#000" stroke="#000" stroke-width="0.12">:</text>
<text x="799.9" y="83.6" font-size="10.40" textLength="32.4" lengthAdjust="spacingAndGlyphs" fill="#000" stroke="#000" stroke-width="0.12">58567</text>
<text x="769.6" y="94.0" font-size="10.40" textLength="6.5" lengthAdjust="spacingAndGlyphs" fill="#ff0000" stroke="#ff0000" stroke-width="0.12">7</text>
<text x="783.8" y="94.0" font-size="10.40" textLength="3.4" lengthAdjust="spacingAndGlyphs" fill="#ff0000" stroke="#ff0000" stroke-width="0.12">:</text>
<text x="799.9" y="94.0" font-size="10.40" textLength="32.4" lengthAdjust="spacingAndGlyphs" fill="#ff0000" stroke="#ff0000" stroke-width="0.12">38229</text>
<text x="769.6" y="104.4" font-size="10.40" textLength="6.5" lengthAdjust="spacingAndGlyphs" fill="#000" stroke="#000" stroke-width="0.12">8</text>
<text x="783.8" y="104.4" font-size="10.40" textLength="3.4" lengthAdjust="spacingAndGlyphs" fill="#000" stroke="#000" stroke-width="0.12">:</text>
<text x="799.9" y="104.4" font-size="10.40" textLength="32.4" lengthAdjust="spacingAndGlyphs" fill="#000" stroke="#000" stroke-width="0.12">23353</text>
<text x="769.6" y="114.8" font-size="10.40" textLength="6.5" lengthAdjust="spacingAndGlyphs" fill="#000" stroke="#000" stroke-width="0.12">9</text>
<text x="783.8" y="114.8" font-size="10.40" textLength="3.4" lengthAdjust="spacingAndGlyphs" fill="#000" stroke="#000" stroke-width="0.12">:</text>
<text x="799.9" y="114.8" font-size="10.40" textLength="32.4" lengthAdjust="spacingAndGlyphs" fill="#000" stroke="#000" stroke-width="0.12">13898</text>
<text x="766.6" y="125.2" font-size="10.40" textLength="13.0" lengthAdjust="spacingAndGlyphs" fill="#000" stroke="#000" stroke-width="0.12">10</text>
<text x="786.7" y="125.2" font-size="10.40" textLength="3.4" lengthAdjust="spacingAndGlyphs" fill="#000" stroke="#000" stroke-width="0.12">:</text>
<text x="806.3" y="125.2" font-size="10.40" textLength="26.0" lengthAdjust="spacingAndGlyphs" fill="#000" stroke="#000" stroke-width="0.12">6818</text>
<text x="766.6" y="135.6" font-size="10.40" textLength="13.0" lengthAdjust="spacingAndGlyphs" fill="#000" stroke="#000" stroke-width="0.12">11</text>
<text x="786.7" y="135.6" font-size="10.40" textLength="3.4" lengthAdjust="spacingAndGlyphs" fill="#000" stroke="#000" stroke-width="0.12">:</text>
<text x="809.4" y="135.6" font-size="10.40" textLength="19.5" lengthAdjust="spacingAndGlyphs" fill="#000" stroke="#000" stroke-width="0.12">202</text>
<text x="766.6" y="146.0" font-size="10.40" textLength="13.0" lengthAdjust="spacingAndGlyphs" fill="#000" stroke="#000" stroke-width="0.12">12</text>
<text x="786.7" y="146.0" font-size="10.40" textLength="3.4" lengthAdjust="spacingAndGlyphs" fill="#000" stroke="#000" stroke-width="0.12">:</text>
<text x="815.8" y="146.0" font-size="10.40" textLength="6.5" lengthAdjust="spacingAndGlyphs" fill="#000" stroke="#000" stroke-width="0.12">0</text>
<rect x="158.5" y="690.5" width="786.5" height="37.5" fill="url(#cb)" stroke="#000" stroke-width="1"/>
<path d="M158.5,728V732" stroke="#000" stroke-width="1"/>
<text x="155.3" y="743.2" font-size="10.20" textLength="6.4" lengthAdjust="spacingAndGlyphs" fill="#000" stroke="#000" stroke-width="0.12">0</text>
<path d="M315.8,728V732" stroke="#000" stroke-width="1"/>
<text x="312.6" y="743.2" font-size="10.20" textLength="6.4" lengthAdjust="spacingAndGlyphs" fill="#000" stroke="#000" stroke-width="0.12">2</text>
<path d="M473.1,728V732" stroke="#000" stroke-width="1"/>
<text x="469.9" y="743.2" font-size="10.20" textLength="6.4" lengthAdjust="spacingAndGlyphs" fill="#000" stroke="#000" stroke-width="0.12">4</text>
<path d="M630.4,728V732" stroke="#000" stroke-width="1"/>
<text x="627.2" y="743.2" font-size="10.20" textLength="6.4" lengthAdjust="spacingAndGlyphs" fill="#000" stroke="#000" stroke-width="0.12">6</text>
<path d="M787.7,728V732" stroke="#000" stroke-width="1"/>
<text x="784.5" y="743.2" font-size="10.20" textLength="6.4" lengthAdjust="spacingAndGlyphs" fill="#000" stroke="#000" stroke-width="0.12">8</text>
<path d="M945.0,728V732" stroke="#000" stroke-width="1"/>
<text x="938.6" y="743.2" font-size="10.20" textLength="12.7" lengthAdjust="spacingAndGlyphs" fill="#000" stroke="#000" stroke-width="0.12">10</text>
<text x="432.8" y="718.4" font-size="19.02" textLength="248.0" lengthAdjust="spacingAndGlyphs" fill="#000" stroke="#000" stroke-width="0.15">from 09:30:00 to 09:39:59</text>
</svg></body></html>
